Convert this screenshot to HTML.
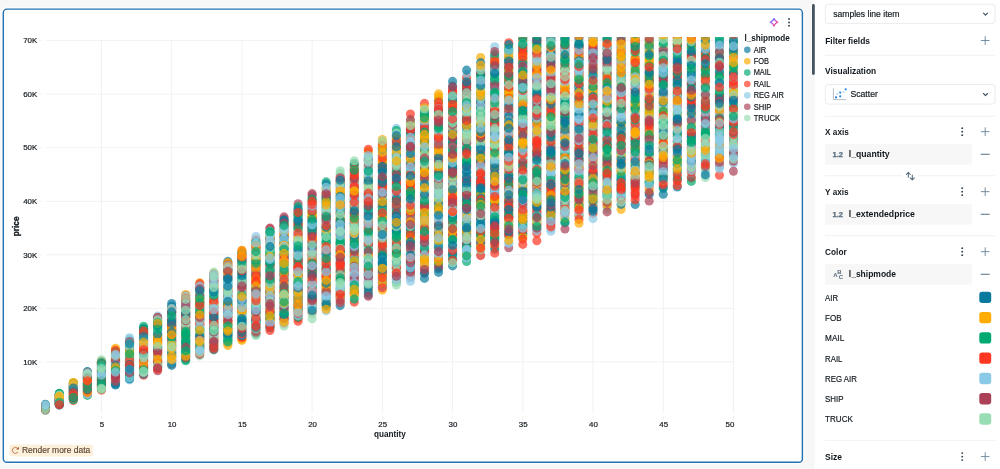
<!DOCTYPE html>
<html><head><meta charset="utf-8"><title>Scatter</title>
<style>*{margin:0;padding:0}html,body{width:1000px;height:469px;overflow:hidden;background:#f7f7f7;font-family:"Liberation Sans",sans-serif}svg{display:block;position:absolute;left:0;top:0}svg{will-change:transform}text{white-space:pre}</style>
</head><body>
<svg id="s" width="1000" height="469" viewBox="0 0 1000 469" font-family="'Liberation Sans', sans-serif">
<defs><clipPath id="cp"><rect x="41.7" y="37.2" width="696.1" height="390"/></clipPath>
<linearGradient id="sg" x1="0.1" y1="0.1" x2="0.9" y2="0.9"><stop offset="0" stop-color="#4a6ff5"/><stop offset="0.5" stop-color="#c045dd"/><stop offset="1" stop-color="#ff3a55"/></linearGradient></defs>
<rect x="0" y="0" width="1000" height="469" fill="#f7f7f7"/>
<rect x="814.6" y="0" width="186" height="469" fill="#ffffff"/>
<rect x="3.3" y="9.1" width="799.1" height="453.2" rx="3.6" fill="#fff" stroke="#fdfdfd" stroke-width="4.4"/>
<rect x="3.3" y="9.1" width="799.1" height="453.2" rx="3.6" fill="#fff" stroke="#2272b4" stroke-width="1.45"/>
<g stroke="#eeeeee" stroke-width="0.8" shape-rendering="auto">
<line x1="45.5" x2="733.5" y1="361.90" y2="361.90"/>
<line x1="38.6" x2="41.4" y1="361.90" y2="361.90"/>
<line x1="45.5" x2="733.5" y1="308.35" y2="308.35"/>
<line x1="38.6" x2="41.4" y1="308.35" y2="308.35"/>
<line x1="45.5" x2="733.5" y1="254.80" y2="254.80"/>
<line x1="38.6" x2="41.4" y1="254.80" y2="254.80"/>
<line x1="45.5" x2="733.5" y1="201.25" y2="201.25"/>
<line x1="38.6" x2="41.4" y1="201.25" y2="201.25"/>
<line x1="45.5" x2="733.5" y1="147.70" y2="147.70"/>
<line x1="38.6" x2="41.4" y1="147.70" y2="147.70"/>
<line x1="45.5" x2="733.5" y1="94.15" y2="94.15"/>
<line x1="38.6" x2="41.4" y1="94.15" y2="94.15"/>
<line x1="45.5" x2="733.5" y1="40.60" y2="40.60"/>
<line x1="38.6" x2="41.4" y1="40.60" y2="40.60"/>
<line y1="40" y2="412.8" x1="101.45" x2="101.45"/>
<line y1="416" y2="419.4" x1="101.45" x2="101.45"/>
<line y1="40" y2="412.8" x1="171.68" x2="171.68"/>
<line y1="416" y2="419.4" x1="171.68" x2="171.68"/>
<line y1="40" y2="412.8" x1="241.90" x2="241.90"/>
<line y1="416" y2="419.4" x1="241.90" x2="241.90"/>
<line y1="40" y2="412.8" x1="312.12" x2="312.12"/>
<line y1="416" y2="419.4" x1="312.12" x2="312.12"/>
<line y1="40" y2="412.8" x1="382.35" x2="382.35"/>
<line y1="416" y2="419.4" x1="382.35" x2="382.35"/>
<line y1="40" y2="412.8" x1="452.57" x2="452.57"/>
<line y1="416" y2="419.4" x1="452.57" x2="452.57"/>
<line y1="40" y2="412.8" x1="522.80" x2="522.80"/>
<line y1="416" y2="419.4" x1="522.80" x2="522.80"/>
<line y1="40" y2="412.8" x1="593.02" x2="593.02"/>
<line y1="416" y2="419.4" x1="593.02" x2="593.02"/>
<line y1="40" y2="412.8" x1="663.25" x2="663.25"/>
<line y1="416" y2="419.4" x1="663.25" x2="663.25"/>
<line y1="40" y2="412.8" x1="733.48" x2="733.48"/>
<line y1="416" y2="419.4" x1="733.48" x2="733.48"/>
</g>
<text transform="matrix(1 .0004 0 1 37.20 364.70)" font-size="7.90" text-anchor="end" fill="#11171c" stroke="#11171c" stroke-width="0.18">10K</text>
<text transform="matrix(1 .0004 0 1 37.20 311.15)" font-size="7.90" text-anchor="end" fill="#11171c" stroke="#11171c" stroke-width="0.18">20K</text>
<text transform="matrix(1 .0004 0 1 37.20 257.60)" font-size="7.90" text-anchor="end" fill="#11171c" stroke="#11171c" stroke-width="0.18">30K</text>
<text transform="matrix(1 .0004 0 1 37.20 204.05)" font-size="7.90" text-anchor="end" fill="#11171c" stroke="#11171c" stroke-width="0.18">40K</text>
<text transform="matrix(1 .0004 0 1 37.20 150.50)" font-size="7.90" text-anchor="end" fill="#11171c" stroke="#11171c" stroke-width="0.18">50K</text>
<text transform="matrix(1 .0004 0 1 37.20 96.95)" font-size="7.90" text-anchor="end" fill="#11171c" stroke="#11171c" stroke-width="0.18">60K</text>
<text transform="matrix(1 .0004 0 1 37.20 43.40)" font-size="7.90" text-anchor="end" fill="#11171c" stroke="#11171c" stroke-width="0.18">70K</text>
<text transform="matrix(1 .0004 0 1 101.85 427.00)" font-size="7.90" text-anchor="middle" fill="#11171c" stroke="#11171c" stroke-width="0.18">5</text>
<text transform="matrix(1 .0004 0 1 172.08 427.00)" font-size="7.90" text-anchor="middle" fill="#11171c" stroke="#11171c" stroke-width="0.18">10</text>
<text transform="matrix(1 .0004 0 1 242.30 427.00)" font-size="7.90" text-anchor="middle" fill="#11171c" stroke="#11171c" stroke-width="0.18">15</text>
<text transform="matrix(1 .0004 0 1 312.52 427.00)" font-size="7.90" text-anchor="middle" fill="#11171c" stroke="#11171c" stroke-width="0.18">20</text>
<text transform="matrix(1 .0004 0 1 382.75 427.00)" font-size="7.90" text-anchor="middle" fill="#11171c" stroke="#11171c" stroke-width="0.18">25</text>
<text transform="matrix(1 .0004 0 1 452.97 427.00)" font-size="7.90" text-anchor="middle" fill="#11171c" stroke="#11171c" stroke-width="0.18">30</text>
<text transform="matrix(1 .0004 0 1 523.20 427.00)" font-size="7.90" text-anchor="middle" fill="#11171c" stroke="#11171c" stroke-width="0.18">35</text>
<text transform="matrix(1 .0004 0 1 593.42 427.00)" font-size="7.90" text-anchor="middle" fill="#11171c" stroke="#11171c" stroke-width="0.18">40</text>
<text transform="matrix(1 .0004 0 1 663.65 427.00)" font-size="7.90" text-anchor="middle" fill="#11171c" stroke="#11171c" stroke-width="0.18">45</text>
<text transform="matrix(1 .0004 0 1 729.88 427.00)" font-size="7.90" text-anchor="middle" fill="#11171c" stroke="#11171c" stroke-width="0.18">50</text>
<text transform="matrix(1 .0004 0 1 389.90 436.60)" font-size="8.30" font-weight="bold" textLength="31.80" lengthAdjust="spacingAndGlyphs" text-anchor="middle" fill="#11171c">quantity</text>
<g transform="translate(19.4,226.4) rotate(-90)"><text transform="matrix(1 .0004 0 1 0.00 0.00)" font-size="8.30" font-weight="bold" textLength="19.80" lengthAdjust="spacingAndGlyphs" text-anchor="middle" fill="#11171c" stroke="#11171c" stroke-width="0.3">price</text></g>
<defs><circle id="a" r="4.55" fill="#077A9D"/><circle id="b" r="4.55" fill="#FFAB00"/><circle id="c" r="4.55" fill="#00A972"/><circle id="d" r="4.55" fill="#FF3621"/><circle id="e" r="4.55" fill="#8BCAE7"/><circle id="f" r="4.55" fill="#AB4057"/><circle id="g" r="4.55" fill="#99DDB4"/></defs>
<g clip-path="url(#cp)" fill-opacity="0.7">
<g transform="translate(45.27 0)"><use href="#f" y="408.4"/><use href="#c" y="408.5"/><use href="#d" y="408.8"/><use href="#c" y="405.1"/><use href="#e" y="406.3"/><use href="#g" y="407.8"/><use href="#a" y="407.8"/><use href="#a" y="407.3"/><use href="#b" y="405.8"/><use href="#g" y="410.2"/><use href="#e" y="410.4"/><use href="#c" y="404.4"/><use href="#c" y="408.1"/><use href="#a" y="406.5"/><use href="#e" y="408.7"/><use href="#d" y="406.4"/><use href="#a" y="407.7"/><use href="#a" y="405.9"/><use href="#e" y="410.0"/><use href="#a" y="407.3"/><use href="#a" y="404.8"/><use href="#a" y="407.5"/><use href="#g" y="405.6"/><use href="#d" y="406.0"/><use href="#g" y="405.8"/><use href="#a" y="409.1"/><use href="#b" y="405.2"/><use href="#f" y="406.6"/><use href="#f" y="408.3"/><use href="#e" y="408.2"/><use href="#b" y="409.7"/><use href="#e" y="408.8"/><use href="#e" y="410.1"/><use href="#f" y="407.2"/><use href="#a" y="409.7"/><use href="#b" y="410.0"/><use href="#b" y="407.9"/><use href="#e" y="409.8"/><use href="#c" y="406.8"/><use href="#c" y="404.9"/><use href="#e" y="405.3"/><use href="#e" y="406.2"/><use href="#a" y="407.1"/><use href="#a" y="405.5"/><use href="#d" y="409.4"/><use href="#f" y="409.2"/><use href="#f" y="406.1"/><use href="#b" y="409.0"/><use href="#d" y="406.8"/><use href="#a" y="409.0"/><use href="#e" y="408.5"/><use href="#f" y="409.4"/><use href="#a" y="406.6"/><use href="#f" y="409.2"/><use href="#g" y="408.1"/><use href="#a" y="405.3"/><use href="#a" y="404.6"/><use href="#b" y="407.0"/><use href="#d" y="405.5"/><use href="#d" y="407.5"/><use href="#c" y="406.9"/><use href="#e" y="404.8"/><use href="#g" y="409.6"/><use href="#e" y="405.1"/></g>
<g transform="translate(59.32 0)"><use href="#a" y="393.9"/><use href="#f" y="400.2"/><use href="#a" y="401.5"/><use href="#f" y="402.1"/><use href="#e" y="394.4"/><use href="#d" y="401.6"/><use href="#c" y="394.1"/><use href="#c" y="397.4"/><use href="#a" y="398.9"/><use href="#a" y="395.5"/><use href="#a" y="403.7"/><use href="#c" y="395.6"/><use href="#e" y="398.8"/><use href="#a" y="403.5"/><use href="#a" y="396.0"/><use href="#a" y="400.9"/><use href="#e" y="399.6"/><use href="#d" y="397.5"/><use href="#c" y="400.6"/><use href="#e" y="403.0"/><use href="#b" y="399.1"/><use href="#d" y="396.3"/><use href="#d" y="397.1"/><use href="#b" y="404.3"/><use href="#a" y="401.9"/><use href="#f" y="400.7"/><use href="#a" y="398.5"/><use href="#e" y="401.3"/><use href="#g" y="399.8"/><use href="#a" y="399.4"/><use href="#a" y="394.3"/><use href="#f" y="395.0"/><use href="#a" y="402.8"/><use href="#d" y="398.6"/><use href="#c" y="393.4"/><use href="#g" y="396.9"/><use href="#c" y="397.3"/><use href="#e" y="405.4"/><use href="#c" y="403.2"/><use href="#b" y="402.4"/><use href="#d" y="400.0"/><use href="#g" y="397.9"/><use href="#a" y="403.1"/><use href="#f" y="397.7"/><use href="#e" y="404.4"/><use href="#f" y="401.3"/><use href="#c" y="395.4"/><use href="#b" y="398.1"/><use href="#a" y="399.3"/><use href="#f" y="394.8"/><use href="#a" y="404.1"/><use href="#f" y="400.3"/><use href="#c" y="403.9"/><use href="#b" y="398.3"/><use href="#f" y="404.5"/><use href="#e" y="396.6"/><use href="#f" y="403.7"/><use href="#g" y="394.7"/><use href="#f" y="402.5"/><use href="#c" y="393.7"/><use href="#g" y="396.1"/><use href="#b" y="396.7"/><use href="#a" y="404.9"/><use href="#e" y="401.0"/><use href="#g" y="395.1"/><use href="#b" y="396.3"/><use href="#c" y="402.2"/><use href="#d" y="404.8"/></g>
<g transform="translate(73.36 0)"><use href="#b" y="395.5"/><use href="#d" y="389.2"/><use href="#a" y="390.7"/><use href="#a" y="397.5"/><use href="#d" y="400.6"/><use href="#b" y="383.4"/><use href="#e" y="395.1"/><use href="#e" y="396.2"/><use href="#f" y="383.6"/><use href="#b" y="382.7"/><use href="#c" y="386.4"/><use href="#b" y="396.8"/><use href="#e" y="388.9"/><use href="#e" y="385.1"/><use href="#c" y="394.1"/><use href="#f" y="386.1"/><use href="#b" y="383.9"/><use href="#e" y="396.6"/><use href="#e" y="392.5"/><use href="#f" y="385.8"/><use href="#f" y="395.6"/><use href="#b" y="393.3"/><use href="#c" y="389.9"/><use href="#b" y="397.7"/><use href="#f" y="387.0"/><use href="#b" y="393.2"/><use href="#e" y="392.8"/><use href="#c" y="399.2"/><use href="#e" y="398.9"/><use href="#d" y="391.5"/><use href="#a" y="391.1"/><use href="#c" y="388.7"/><use href="#d" y="390.4"/><use href="#g" y="399.5"/><use href="#d" y="385.9"/><use href="#e" y="384.2"/><use href="#c" y="383.2"/><use href="#g" y="398.9"/><use href="#g" y="388.4"/><use href="#d" y="389.8"/><use href="#f" y="394.9"/><use href="#f" y="385.0"/><use href="#a" y="392.3"/><use href="#d" y="398.3"/><use href="#g" y="394.4"/><use href="#b" y="394.6"/><use href="#c" y="387.4"/><use href="#e" y="391.2"/><use href="#b" y="384.7"/><use href="#d" y="398.6"/><use href="#c" y="399.7"/><use href="#c" y="387.7"/><use href="#d" y="389.6"/><use href="#g" y="390.3"/><use href="#d" y="394.0"/><use href="#g" y="384.4"/><use href="#d" y="398.0"/><use href="#a" y="389.0"/><use href="#b" y="387.9"/><use href="#a" y="391.7"/><use href="#g" y="393.6"/><use href="#e" y="385.4"/><use href="#d" y="387.2"/><use href="#g" y="386.6"/><use href="#b" y="382.5"/><use href="#a" y="388.0"/><use href="#a" y="391.9"/><use href="#a" y="397.3"/><use href="#f" y="396.0"/><use href="#d" y="392.8"/><use href="#d" y="395.9"/><use href="#c" y="397.2"/></g>
<g transform="translate(87.41 0)"><use href="#c" y="391.7"/><use href="#b" y="374.8"/><use href="#c" y="393.5"/><use href="#c" y="392.1"/><use href="#b" y="384.2"/><use href="#d" y="386.3"/><use href="#g" y="392.9"/><use href="#e" y="386.8"/><use href="#a" y="388.8"/><use href="#c" y="390.7"/><use href="#d" y="390.0"/><use href="#f" y="385.9"/><use href="#b" y="387.2"/><use href="#a" y="386.7"/><use href="#c" y="376.2"/><use href="#a" y="375.7"/><use href="#a" y="391.5"/><use href="#f" y="387.3"/><use href="#c" y="387.9"/><use href="#g" y="393.2"/><use href="#c" y="388.5"/><use href="#e" y="384.4"/><use href="#a" y="377.4"/><use href="#a" y="385.2"/><use href="#d" y="373.3"/><use href="#d" y="374.6"/><use href="#d" y="394.6"/><use href="#c" y="378.3"/><use href="#a" y="371.6"/><use href="#d" y="391.0"/><use href="#b" y="376.9"/><use href="#a" y="382.2"/><use href="#c" y="395.4"/><use href="#e" y="394.0"/><use href="#e" y="394.1"/><use href="#c" y="383.2"/><use href="#c" y="378.9"/><use href="#b" y="380.4"/><use href="#g" y="381.9"/><use href="#a" y="372.0"/><use href="#e" y="380.0"/><use href="#e" y="382.6"/><use href="#g" y="391.1"/><use href="#c" y="383.6"/><use href="#g" y="381.3"/><use href="#a" y="383.7"/><use href="#e" y="381.6"/><use href="#e" y="379.2"/><use href="#a" y="379.8"/><use href="#f" y="375.5"/><use href="#e" y="387.9"/><use href="#e" y="382.9"/><use href="#c" y="377.9"/><use href="#d" y="379.5"/><use href="#e" y="372.5"/><use href="#a" y="385.1"/><use href="#d" y="392.6"/><use href="#d" y="385.7"/><use href="#f" y="372.8"/><use href="#b" y="392.4"/><use href="#a" y="375.1"/><use href="#b" y="389.4"/><use href="#f" y="376.5"/><use href="#g" y="373.8"/><use href="#g" y="373.2"/><use href="#e" y="374.0"/><use href="#c" y="384.6"/><use href="#e" y="377.0"/><use href="#c" y="378.6"/><use href="#d" y="389.5"/><use href="#f" y="377.6"/><use href="#b" y="380.6"/><use href="#f" y="390.1"/><use href="#c" y="389.1"/><use href="#g" y="374.4"/><use href="#d" y="380.9"/></g>
<g transform="translate(101.45 0)"><use href="#b" y="383.2"/><use href="#e" y="377.2"/><use href="#b" y="364.3"/><use href="#d" y="376.4"/><use href="#c" y="387.5"/><use href="#d" y="373.9"/><use href="#c" y="389.4"/><use href="#f" y="372.0"/><use href="#f" y="371.6"/><use href="#d" y="386.4"/><use href="#b" y="361.2"/><use href="#g" y="379.3"/><use href="#g" y="385.4"/><use href="#a" y="372.6"/><use href="#b" y="380.2"/><use href="#c" y="375.7"/><use href="#a" y="362.2"/><use href="#d" y="386.0"/><use href="#c" y="382.3"/><use href="#g" y="366.6"/><use href="#e" y="373.8"/><use href="#a" y="366.4"/><use href="#b" y="375.4"/><use href="#e" y="381.6"/><use href="#d" y="387.1"/><use href="#c" y="374.9"/><use href="#a" y="373.1"/><use href="#f" y="368.1"/><use href="#e" y="365.6"/><use href="#b" y="378.1"/><use href="#b" y="364.4"/><use href="#d" y="390.1"/><use href="#f" y="384.2"/><use href="#c" y="369.7"/><use href="#f" y="362.0"/><use href="#b" y="376.6"/><use href="#c" y="377.6"/><use href="#d" y="380.8"/><use href="#a" y="386.6"/><use href="#d" y="363.2"/><use href="#c" y="388.4"/><use href="#c" y="366.9"/><use href="#f" y="384.7"/><use href="#d" y="371.0"/><use href="#b" y="387.8"/><use href="#e" y="370.4"/><use href="#f" y="374.2"/><use href="#c" y="381.9"/><use href="#a" y="365.3"/><use href="#e" y="378.3"/><use href="#f" y="383.9"/><use href="#d" y="364.8"/><use href="#d" y="370.1"/><use href="#b" y="370.8"/><use href="#e" y="377.1"/><use href="#f" y="361.7"/><use href="#f" y="382.9"/><use href="#a" y="372.1"/><use href="#g" y="359.7"/><use href="#d" y="385.6"/><use href="#c" y="363.4"/><use href="#c" y="383.4"/><use href="#d" y="368.9"/><use href="#d" y="363.6"/><use href="#c" y="369.2"/><use href="#b" y="379.3"/><use href="#e" y="365.9"/><use href="#a" y="367.8"/><use href="#c" y="378.8"/><use href="#f" y="379.9"/><use href="#e" y="373.4"/><use href="#f" y="381.3"/><use href="#c" y="380.6"/><use href="#c" y="385.1"/><use href="#e" y="375.1"/><use href="#g" y="388.3"/><use href="#g" y="367.5"/><use href="#c" y="362.7"/><use href="#g" y="389.2"/><use href="#g" y="368.6"/></g>
<g transform="translate(115.50 0)"><use href="#b" y="363.5"/><use href="#d" y="362.1"/><use href="#b" y="352.4"/><use href="#d" y="366.4"/><use href="#d" y="366.8"/><use href="#g" y="382.4"/><use href="#e" y="372.8"/><use href="#e" y="371.1"/><use href="#e" y="356.1"/><use href="#g" y="375.4"/><use href="#a" y="382.1"/><use href="#f" y="377.5"/><use href="#c" y="371.5"/><use href="#f" y="367.6"/><use href="#a" y="378.8"/><use href="#c" y="378.9"/><use href="#c" y="369.9"/><use href="#f" y="361.3"/><use href="#f" y="383.1"/><use href="#d" y="349.8"/><use href="#a" y="365.8"/><use href="#f" y="382.9"/><use href="#d" y="370.5"/><use href="#a" y="357.6"/><use href="#g" y="373.1"/><use href="#e" y="359.8"/><use href="#g" y="376.1"/><use href="#d" y="362.4"/><use href="#e" y="356.8"/><use href="#f" y="353.9"/><use href="#d" y="368.7"/><use href="#a" y="377.8"/><use href="#g" y="360.9"/><use href="#g" y="364.3"/><use href="#b" y="357.0"/><use href="#c" y="359.8"/><use href="#c" y="359.3"/><use href="#b" y="355.4"/><use href="#d" y="381.5"/><use href="#g" y="362.8"/><use href="#b" y="352.8"/><use href="#g" y="357.9"/><use href="#a" y="358.7"/><use href="#f" y="372.6"/><use href="#g" y="373.6"/><use href="#g" y="379.6"/><use href="#a" y="380.4"/><use href="#e" y="384.5"/><use href="#f" y="361.6"/><use href="#e" y="368.1"/><use href="#f" y="369.1"/><use href="#a" y="368.2"/><use href="#c" y="374.6"/><use href="#a" y="365.1"/><use href="#b" y="358.3"/><use href="#g" y="364.6"/><use href="#d" y="376.7"/><use href="#e" y="352.2"/><use href="#b" y="353.6"/><use href="#e" y="363.8"/><use href="#e" y="380.0"/><use href="#d" y="374.1"/><use href="#a" y="383.7"/><use href="#f" y="360.3"/><use href="#g" y="381.0"/><use href="#f" y="375.0"/><use href="#a" y="353.3"/><use href="#g" y="351.3"/><use href="#b" y="348.3"/><use href="#a" y="365.6"/><use href="#c" y="369.6"/><use href="#a" y="385.0"/><use href="#d" y="378.3"/><use href="#f" y="377.2"/><use href="#b" y="367.0"/><use href="#f" y="375.7"/><use href="#c" y="370.7"/><use href="#c" y="351.7"/><use href="#f" y="381.4"/><use href="#b" y="355.0"/><use href="#d" y="350.8"/><use href="#e" y="355.9"/><use href="#e" y="354.4"/><use href="#e" y="372.1"/></g>
<g transform="translate(129.54 0)"><use href="#f" y="371.3"/><use href="#g" y="355.0"/><use href="#b" y="363.3"/><use href="#e" y="359.3"/><use href="#a" y="349.5"/><use href="#b" y="367.6"/><use href="#d" y="366.0"/><use href="#e" y="379.9"/><use href="#e" y="348.8"/><use href="#a" y="358.7"/><use href="#e" y="371.1"/><use href="#f" y="360.2"/><use href="#g" y="340.8"/><use href="#a" y="348.5"/><use href="#b" y="344.8"/><use href="#e" y="368.5"/><use href="#e" y="348.1"/><use href="#f" y="356.5"/><use href="#a" y="345.0"/><use href="#b" y="373.4"/><use href="#a" y="342.5"/><use href="#a" y="355.3"/><use href="#c" y="340.7"/><use href="#c" y="357.5"/><use href="#g" y="339.9"/><use href="#e" y="337.8"/><use href="#f" y="359.1"/><use href="#c" y="356.9"/><use href="#c" y="356.1"/><use href="#a" y="375.5"/><use href="#a" y="373.9"/><use href="#e" y="374.8"/><use href="#c" y="352.4"/><use href="#f" y="376.9"/><use href="#c" y="351.1"/><use href="#c" y="341.2"/><use href="#c" y="346.7"/><use href="#f" y="370.3"/><use href="#b" y="345.8"/><use href="#e" y="351.9"/><use href="#f" y="349.9"/><use href="#a" y="378.1"/><use href="#g" y="375.4"/><use href="#a" y="361.1"/><use href="#b" y="372.5"/><use href="#b" y="362.3"/><use href="#c" y="363.5"/><use href="#g" y="361.0"/><use href="#g" y="362.5"/><use href="#a" y="374.1"/><use href="#c" y="376.1"/><use href="#d" y="342.6"/><use href="#e" y="379.5"/><use href="#e" y="351.4"/><use href="#f" y="354.5"/><use href="#f" y="371.8"/><use href="#c" y="358.0"/><use href="#c" y="345.7"/><use href="#a" y="343.2"/><use href="#a" y="366.8"/><use href="#g" y="355.7"/><use href="#f" y="365.2"/><use href="#g" y="361.9"/><use href="#a" y="378.7"/><use href="#g" y="370.6"/><use href="#d" y="360.2"/><use href="#g" y="368.9"/><use href="#c" y="353.0"/><use href="#c" y="376.7"/><use href="#d" y="367.8"/><use href="#e" y="377.7"/><use href="#e" y="339.1"/><use href="#c" y="350.1"/><use href="#a" y="366.5"/><use href="#c" y="347.5"/><use href="#b" y="350.5"/><use href="#d" y="364.2"/><use href="#f" y="341.8"/><use href="#a" y="364.5"/><use href="#e" y="347.0"/><use href="#b" y="353.6"/><use href="#d" y="365.4"/><use href="#c" y="353.8"/><use href="#g" y="343.6"/><use href="#f" y="372.9"/><use href="#e" y="369.6"/><use href="#a" y="343.9"/><use href="#a" y="369.4"/></g>
<g transform="translate(143.59 0)"><use href="#g" y="363.0"/><use href="#f" y="367.4"/><use href="#b" y="333.5"/><use href="#b" y="345.6"/><use href="#b" y="334.3"/><use href="#d" y="370.9"/><use href="#b" y="343.2"/><use href="#c" y="371.9"/><use href="#g" y="337.3"/><use href="#a" y="355.7"/><use href="#b" y="364.9"/><use href="#d" y="361.1"/><use href="#g" y="352.7"/><use href="#d" y="344.3"/><use href="#f" y="338.9"/><use href="#a" y="340.8"/><use href="#b" y="363.7"/><use href="#b" y="348.9"/><use href="#g" y="339.5"/><use href="#b" y="368.8"/><use href="#f" y="341.6"/><use href="#e" y="369.0"/><use href="#f" y="356.6"/><use href="#a" y="328.3"/><use href="#e" y="346.9"/><use href="#g" y="351.6"/><use href="#f" y="346.5"/><use href="#d" y="364.4"/><use href="#f" y="339.9"/><use href="#f" y="334.8"/><use href="#g" y="354.1"/><use href="#c" y="355.9"/><use href="#e" y="356.9"/><use href="#c" y="361.6"/><use href="#d" y="375.3"/><use href="#a" y="336.1"/><use href="#e" y="366.5"/><use href="#g" y="354.6"/><use href="#b" y="366.0"/><use href="#f" y="367.3"/><use href="#c" y="335.2"/><use href="#f" y="368.2"/><use href="#a" y="335.8"/><use href="#f" y="340.2"/><use href="#a" y="374.3"/><use href="#a" y="359.1"/><use href="#a" y="329.5"/><use href="#c" y="358.5"/><use href="#g" y="364.7"/><use href="#c" y="343.0"/><use href="#d" y="331.6"/><use href="#a" y="338.4"/><use href="#a" y="328.7"/><use href="#c" y="348.7"/><use href="#f" y="373.1"/><use href="#e" y="344.7"/><use href="#e" y="362.2"/><use href="#d" y="360.2"/><use href="#d" y="345.9"/><use href="#d" y="359.7"/><use href="#g" y="342.0"/><use href="#b" y="333.2"/><use href="#d" y="365.7"/><use href="#b" y="370.4"/><use href="#b" y="347.4"/><use href="#d" y="348.0"/><use href="#c" y="326.2"/><use href="#a" y="332.3"/><use href="#f" y="360.3"/><use href="#f" y="332.8"/><use href="#f" y="350.8"/><use href="#a" y="352.5"/><use href="#b" y="349.7"/><use href="#f" y="330.6"/><use href="#b" y="362.8"/><use href="#b" y="357.8"/><use href="#c" y="330.0"/><use href="#g" y="337.5"/><use href="#d" y="350.7"/><use href="#d" y="331.0"/><use href="#d" y="351.8"/><use href="#e" y="372.0"/><use href="#g" y="372.5"/><use href="#c" y="369.8"/><use href="#e" y="357.8"/><use href="#a" y="353.3"/><use href="#e" y="344.0"/><use href="#g" y="355.2"/><use href="#a" y="336.7"/><use href="#b" y="342.4"/><use href="#d" y="349.9"/><use href="#g" y="371.4"/></g>
<g transform="translate(157.63 0)"><use href="#b" y="368.5"/><use href="#b" y="336.6"/><use href="#g" y="332.7"/><use href="#c" y="340.1"/><use href="#b" y="337.0"/><use href="#a" y="340.9"/><use href="#d" y="342.6"/><use href="#d" y="360.8"/><use href="#a" y="353.8"/><use href="#a" y="318.5"/><use href="#f" y="365.5"/><use href="#a" y="347.3"/><use href="#g" y="358.9"/><use href="#c" y="335.9"/><use href="#a" y="326.8"/><use href="#f" y="320.9"/><use href="#g" y="349.2"/><use href="#d" y="341.1"/><use href="#g" y="327.6"/><use href="#e" y="322.4"/><use href="#g" y="319.3"/><use href="#e" y="325.7"/><use href="#a" y="326.7"/><use href="#c" y="339.3"/><use href="#a" y="332.0"/><use href="#c" y="328.9"/><use href="#c" y="355.9"/><use href="#a" y="366.3"/><use href="#a" y="363.6"/><use href="#g" y="327.9"/><use href="#e" y="357.5"/><use href="#d" y="345.9"/><use href="#f" y="360.0"/><use href="#d" y="324.0"/><use href="#g" y="333.1"/><use href="#c" y="352.3"/><use href="#f" y="361.6"/><use href="#b" y="352.5"/><use href="#c" y="324.2"/><use href="#b" y="321.7"/><use href="#d" y="317.7"/><use href="#g" y="341.8"/><use href="#c" y="349.2"/><use href="#e" y="367.2"/><use href="#c" y="320.5"/><use href="#d" y="337.6"/><use href="#c" y="338.3"/><use href="#g" y="334.9"/><use href="#b" y="350.3"/><use href="#e" y="358.4"/><use href="#g" y="331.5"/><use href="#d" y="339.4"/><use href="#e" y="316.1"/><use href="#f" y="351.7"/><use href="#b" y="355.3"/><use href="#f" y="370.8"/><use href="#f" y="317.3"/><use href="#e" y="330.8"/><use href="#g" y="363.3"/><use href="#c" y="333.9"/><use href="#e" y="330.6"/><use href="#b" y="335.2"/><use href="#g" y="364.3"/><use href="#c" y="362.3"/><use href="#g" y="344.9"/><use href="#f" y="356.9"/><use href="#e" y="355.1"/><use href="#e" y="348.5"/><use href="#f" y="360.5"/><use href="#g" y="365.6"/><use href="#g" y="329.7"/><use href="#e" y="356.5"/><use href="#b" y="354.3"/><use href="#c" y="346.2"/><use href="#d" y="351.0"/><use href="#d" y="362.6"/><use href="#g" y="319.8"/><use href="#g" y="364.9"/><use href="#c" y="322.9"/><use href="#a" y="347.6"/><use href="#b" y="344.5"/><use href="#b" y="338.0"/><use href="#a" y="325.0"/><use href="#a" y="325.6"/><use href="#e" y="344.1"/><use href="#f" y="350.3"/><use href="#b" y="323.5"/><use href="#a" y="334.3"/><use href="#b" y="343.5"/><use href="#b" y="342.3"/><use href="#g" y="346.6"/><use href="#f" y="353.3"/><use href="#b" y="359.2"/><use href="#c" y="329.2"/><use href="#d" y="369.0"/><use href="#f" y="367.7"/></g>
<g transform="translate(171.68 0)"><use href="#d" y="357.3"/><use href="#f" y="340.3"/><use href="#e" y="318.2"/><use href="#g" y="358.8"/><use href="#b" y="345.8"/><use href="#d" y="323.1"/><use href="#g" y="337.8"/><use href="#a" y="342.4"/><use href="#d" y="341.3"/><use href="#c" y="352.3"/><use href="#c" y="332.5"/><use href="#d" y="364.0"/><use href="#c" y="319.0"/><use href="#c" y="324.9"/><use href="#a" y="346.3"/><use href="#c" y="320.4"/><use href="#g" y="315.1"/><use href="#b" y="335.9"/><use href="#a" y="345.0"/><use href="#d" y="338.3"/><use href="#b" y="349.8"/><use href="#f" y="340.9"/><use href="#c" y="350.8"/><use href="#e" y="313.8"/><use href="#c" y="354.9"/><use href="#e" y="349.7"/><use href="#c" y="308.6"/><use href="#f" y="331.1"/><use href="#a" y="309.5"/><use href="#c" y="330.3"/><use href="#a" y="353.8"/><use href="#d" y="319.8"/><use href="#d" y="347.9"/><use href="#c" y="316.0"/><use href="#a" y="326.7"/><use href="#f" y="307.3"/><use href="#c" y="328.6"/><use href="#e" y="341.7"/><use href="#g" y="314.2"/><use href="#d" y="327.7"/><use href="#d" y="317.5"/><use href="#c" y="333.3"/><use href="#e" y="338.7"/><use href="#c" y="334.0"/><use href="#c" y="361.1"/><use href="#f" y="339.6"/><use href="#f" y="310.9"/><use href="#d" y="322.8"/><use href="#a" y="312.5"/><use href="#b" y="361.4"/><use href="#f" y="330.9"/><use href="#b" y="343.2"/><use href="#b" y="321.5"/><use href="#c" y="324.6"/><use href="#f" y="360.2"/><use href="#f" y="318.7"/><use href="#b" y="335.3"/><use href="#g" y="310.5"/><use href="#f" y="322.1"/><use href="#c" y="343.8"/><use href="#g" y="343.9"/><use href="#d" y="313.2"/><use href="#d" y="351.5"/><use href="#f" y="356.2"/><use href="#a" y="362.7"/><use href="#c" y="337.3"/><use href="#e" y="316.9"/><use href="#e" y="363.2"/><use href="#c" y="352.8"/><use href="#f" y="311.6"/><use href="#a" y="306.1"/><use href="#g" y="355.1"/><use href="#f" y="329.2"/><use href="#b" y="345.2"/><use href="#e" y="351.8"/><use href="#a" y="365.4"/><use href="#g" y="357.9"/><use href="#b" y="357.2"/><use href="#a" y="303.5"/><use href="#f" y="326.2"/><use href="#a" y="353.7"/><use href="#c" y="336.4"/><use href="#b" y="327.4"/><use href="#g" y="348.9"/><use href="#a" y="320.9"/><use href="#d" y="325.6"/><use href="#b" y="348.3"/><use href="#b" y="309.1"/><use href="#d" y="334.2"/><use href="#e" y="308.2"/><use href="#b" y="329.5"/><use href="#e" y="359.2"/><use href="#b" y="359.9"/><use href="#b" y="355.7"/><use href="#a" y="311.9"/><use href="#a" y="323.5"/><use href="#c" y="315.7"/><use href="#g" y="346.9"/><use href="#a" y="332.1"/><use href="#b" y="334.7"/></g>
<g transform="translate(185.72 0)"><use href="#g" y="319.9"/><use href="#a" y="344.7"/><use href="#g" y="316.3"/><use href="#f" y="306.9"/><use href="#g" y="340.6"/><use href="#c" y="301.7"/><use href="#c" y="360.7"/><use href="#a" y="328.0"/><use href="#g" y="336.6"/><use href="#d" y="311.1"/><use href="#c" y="307.9"/><use href="#c" y="342.7"/><use href="#e" y="329.2"/><use href="#b" y="298.6"/><use href="#e" y="345.3"/><use href="#d" y="317.4"/><use href="#a" y="334.2"/><use href="#d" y="325.4"/><use href="#e" y="354.9"/><use href="#f" y="327.4"/><use href="#f" y="341.3"/><use href="#c" y="314.1"/><use href="#a" y="318.1"/><use href="#f" y="312.2"/><use href="#a" y="354.3"/><use href="#c" y="302.5"/><use href="#d" y="295.3"/><use href="#d" y="312.4"/><use href="#d" y="304.6"/><use href="#b" y="332.7"/><use href="#c" y="341.1"/><use href="#e" y="309.6"/><use href="#c" y="356.8"/><use href="#b" y="308.8"/><use href="#e" y="326.7"/><use href="#g" y="310.8"/><use href="#f" y="323.4"/><use href="#b" y="315.2"/><use href="#e" y="355.7"/><use href="#e" y="297.9"/><use href="#g" y="326.2"/><use href="#a" y="321.3"/><use href="#c" y="352.9"/><use href="#a" y="313.3"/><use href="#e" y="353.5"/><use href="#a" y="339.3"/><use href="#c" y="328.9"/><use href="#f" y="321.7"/><use href="#c" y="359.5"/><use href="#c" y="348.5"/><use href="#b" y="294.5"/><use href="#g" y="318.9"/><use href="#f" y="325.1"/><use href="#c" y="354.0"/><use href="#c" y="337.6"/><use href="#d" y="322.3"/><use href="#b" y="297.4"/><use href="#b" y="347.8"/><use href="#c" y="300.2"/><use href="#e" y="349.3"/><use href="#g" y="324.0"/><use href="#g" y="338.0"/><use href="#g" y="352.4"/><use href="#f" y="357.9"/><use href="#e" y="306.6"/><use href="#c" y="308.1"/><use href="#a" y="350.3"/><use href="#g" y="338.5"/><use href="#d" y="335.9"/><use href="#e" y="295.8"/><use href="#g" y="330.8"/><use href="#b" y="333.9"/><use href="#d" y="329.9"/><use href="#b" y="346.0"/><use href="#e" y="344.2"/><use href="#d" y="302.4"/><use href="#e" y="349.8"/><use href="#g" y="331.6"/><use href="#f" y="317.1"/><use href="#a" y="343.2"/><use href="#c" y="341.9"/><use href="#e" y="305.3"/><use href="#c" y="339.7"/><use href="#c" y="351.5"/><use href="#c" y="335.4"/><use href="#d" y="301.0"/><use href="#g" y="324.0"/><use href="#d" y="298.9"/><use href="#f" y="303.6"/><use href="#c" y="332.8"/><use href="#f" y="320.7"/><use href="#d" y="315.9"/><use href="#c" y="346.6"/><use href="#a" y="314.3"/><use href="#c" y="331.3"/><use href="#e" y="304.1"/><use href="#b" y="356.2"/><use href="#f" y="347.1"/><use href="#g" y="319.6"/><use href="#c" y="334.9"/><use href="#f" y="305.7"/><use href="#c" y="350.8"/><use href="#g" y="310.2"/><use href="#g" y="299.4"/></g>
<g transform="translate(199.76 0)"><use href="#f" y="345.5"/><use href="#b" y="300.8"/><use href="#b" y="304.8"/><use href="#g" y="341.1"/><use href="#d" y="311.3"/><use href="#e" y="337.2"/><use href="#c" y="347.9"/><use href="#a" y="346.4"/><use href="#b" y="288.3"/><use href="#a" y="327.4"/><use href="#f" y="351.5"/><use href="#c" y="286.9"/><use href="#b" y="296.4"/><use href="#b" y="342.9"/><use href="#e" y="293.7"/><use href="#b" y="313.6"/><use href="#f" y="321.5"/><use href="#c" y="289.9"/><use href="#c" y="295.1"/><use href="#b" y="302.8"/><use href="#a" y="317.0"/><use href="#a" y="301.4"/><use href="#g" y="310.2"/><use href="#b" y="303.6"/><use href="#e" y="294.3"/><use href="#f" y="299.1"/><use href="#d" y="346.0"/><use href="#d" y="325.1"/><use href="#a" y="331.6"/><use href="#f" y="287.4"/><use href="#e" y="318.4"/><use href="#e" y="338.2"/><use href="#f" y="298.4"/><use href="#e" y="349.5"/><use href="#b" y="334.4"/><use href="#g" y="292.8"/><use href="#g" y="355.9"/><use href="#a" y="290.2"/><use href="#g" y="322.7"/><use href="#a" y="314.3"/><use href="#a" y="306.8"/><use href="#b" y="337.7"/><use href="#g" y="329.5"/><use href="#b" y="321.7"/><use href="#e" y="343.8"/><use href="#c" y="291.4"/><use href="#b" y="324.2"/><use href="#c" y="320.0"/><use href="#d" y="310.7"/><use href="#a" y="331.4"/><use href="#f" y="308.4"/><use href="#a" y="334.7"/><use href="#b" y="347.2"/><use href="#e" y="326.5"/><use href="#a" y="312.6"/><use href="#c" y="328.6"/><use href="#b" y="304.9"/><use href="#e" y="344.7"/><use href="#f" y="333.5"/><use href="#c" y="297.2"/><use href="#d" y="306.5"/><use href="#g" y="309.9"/><use href="#c" y="343.7"/><use href="#e" y="316.0"/><use href="#g" y="297.0"/><use href="#a" y="319.4"/><use href="#b" y="282.8"/><use href="#d" y="324.5"/><use href="#e" y="285.4"/><use href="#g" y="327.9"/><use href="#g" y="333.0"/><use href="#d" y="283.6"/><use href="#d" y="323.5"/><use href="#g" y="308.0"/><use href="#g" y="332.3"/><use href="#f" y="302.2"/><use href="#g" y="292.2"/><use href="#c" y="329.3"/><use href="#g" y="340.2"/><use href="#f" y="354.4"/><use href="#e" y="325.8"/><use href="#f" y="338.7"/><use href="#f" y="295.3"/><use href="#f" y="315.8"/><use href="#a" y="348.5"/><use href="#b" y="299.8"/><use href="#c" y="302.9"/><use href="#c" y="313.0"/><use href="#b" y="319.0"/><use href="#c" y="335.9"/><use href="#e" y="286.2"/><use href="#b" y="352.7"/><use href="#a" y="336.5"/><use href="#f" y="288.7"/><use href="#d" y="339.8"/><use href="#g" y="350.2"/><use href="#g" y="340.5"/><use href="#b" y="330.1"/><use href="#e" y="349.6"/><use href="#c" y="309.2"/><use href="#e" y="320.6"/><use href="#d" y="305.5"/><use href="#a" y="290.6"/><use href="#f" y="317.6"/><use href="#e" y="352.3"/><use href="#c" y="298.1"/><use href="#b" y="314.7"/><use href="#b" y="342.0"/></g>
<g transform="translate(213.81 0)"><use href="#g" y="344.7"/><use href="#d" y="333.6"/><use href="#f" y="288.5"/><use href="#b" y="273.4"/><use href="#c" y="306.1"/><use href="#e" y="320.4"/><use href="#a" y="302.4"/><use href="#b" y="337.3"/><use href="#c" y="349.9"/><use href="#b" y="279.5"/><use href="#c" y="298.9"/><use href="#a" y="311.0"/><use href="#b" y="290.1"/><use href="#d" y="287.3"/><use href="#e" y="343.8"/><use href="#a" y="283.7"/><use href="#e" y="300.4"/><use href="#c" y="277.1"/><use href="#a" y="315.6"/><use href="#f" y="292.3"/><use href="#b" y="303.9"/><use href="#b" y="308.5"/><use href="#a" y="326.8"/><use href="#b" y="345.0"/><use href="#f" y="304.3"/><use href="#b" y="338.6"/><use href="#a" y="306.8"/><use href="#d" y="298.5"/><use href="#g" y="336.8"/><use href="#d" y="307.4"/><use href="#a" y="291.1"/><use href="#d" y="324.2"/><use href="#d" y="335.0"/><use href="#b" y="343.3"/><use href="#f" y="349.3"/><use href="#e" y="299.7"/><use href="#f" y="274.3"/><use href="#g" y="278.6"/><use href="#a" y="324.8"/><use href="#f" y="281.0"/><use href="#d" y="338.1"/><use href="#e" y="328.0"/><use href="#c" y="318.3"/><use href="#f" y="332.8"/><use href="#e" y="334.2"/><use href="#a" y="289.4"/><use href="#d" y="345.6"/><use href="#b" y="284.8"/><use href="#b" y="320.7"/><use href="#f" y="340.0"/><use href="#b" y="303.3"/><use href="#c" y="293.6"/><use href="#f" y="327.5"/><use href="#a" y="346.9"/><use href="#e" y="297.5"/><use href="#f" y="316.7"/><use href="#f" y="340.2"/><use href="#e" y="336.1"/><use href="#c" y="331.9"/><use href="#b" y="295.8"/><use href="#g" y="339.0"/><use href="#f" y="332.1"/><use href="#a" y="322.3"/><use href="#d" y="285.5"/><use href="#d" y="326.3"/><use href="#b" y="312.3"/><use href="#d" y="319.1"/><use href="#c" y="312.6"/><use href="#b" y="282.8"/><use href="#c" y="314.5"/><use href="#f" y="319.3"/><use href="#d" y="302.2"/><use href="#g" y="341.6"/><use href="#f" y="329.9"/><use href="#e" y="284.2"/><use href="#a" y="281.6"/><use href="#d" y="280.3"/><use href="#a" y="289.0"/><use href="#b" y="297.5"/><use href="#a" y="296.3"/><use href="#g" y="293.3"/><use href="#d" y="323.5"/><use href="#c" y="328.8"/><use href="#f" y="342.4"/><use href="#e" y="314.1"/><use href="#g" y="305.4"/><use href="#a" y="316.0"/><use href="#f" y="277.3"/><use href="#g" y="286.4"/><use href="#d" y="301.3"/><use href="#e" y="294.3"/><use href="#e" y="308.2"/><use href="#g" y="309.7"/><use href="#g" y="272.1"/><use href="#e" y="282.5"/><use href="#f" y="323.1"/><use href="#d" y="313.4"/><use href="#d" y="347.7"/><use href="#c" y="295.1"/><use href="#c" y="330.4"/><use href="#d" y="321.3"/><use href="#e" y="278.1"/><use href="#e" y="275.0"/><use href="#g" y="276.5"/><use href="#d" y="311.4"/><use href="#a" y="292.1"/><use href="#a" y="317.4"/><use href="#g" y="330.7"/><use href="#e" y="309.8"/><use href="#g" y="325.4"/><use href="#g" y="287.6"/><use href="#f" y="341.3"/></g>
<g transform="translate(227.86 0)"><use href="#b" y="264.7"/><use href="#c" y="324.4"/><use href="#g" y="293.5"/><use href="#a" y="303.5"/><use href="#b" y="325.4"/><use href="#f" y="307.9"/><use href="#d" y="311.1"/><use href="#f" y="269.1"/><use href="#c" y="330.7"/><use href="#d" y="322.9"/><use href="#d" y="290.3"/><use href="#c" y="304.3"/><use href="#b" y="289.5"/><use href="#b" y="296.2"/><use href="#a" y="310.7"/><use href="#d" y="328.1"/><use href="#f" y="287.1"/><use href="#a" y="261.4"/><use href="#d" y="276.0"/><use href="#d" y="295.7"/><use href="#c" y="305.5"/><use href="#a" y="313.5"/><use href="#b" y="278.4"/><use href="#g" y="312.5"/><use href="#c" y="330.0"/><use href="#a" y="313.6"/><use href="#a" y="305.0"/><use href="#e" y="275.2"/><use href="#f" y="308.5"/><use href="#d" y="339.4"/><use href="#e" y="311.5"/><use href="#c" y="303.0"/><use href="#e" y="283.2"/><use href="#f" y="342.9"/><use href="#f" y="316.4"/><use href="#a" y="335.0"/><use href="#c" y="324.0"/><use href="#c" y="295.0"/><use href="#d" y="317.9"/><use href="#e" y="299.9"/><use href="#g" y="297.5"/><use href="#d" y="291.6"/><use href="#c" y="334.2"/><use href="#a" y="336.0"/><use href="#f" y="296.9"/><use href="#c" y="271.0"/><use href="#a" y="300.8"/><use href="#b" y="336.9"/><use href="#a" y="269.5"/><use href="#f" y="328.5"/><use href="#d" y="287.9"/><use href="#g" y="281.0"/><use href="#f" y="263.1"/><use href="#a" y="292.3"/><use href="#g" y="343.5"/><use href="#b" y="302.0"/><use href="#g" y="267.8"/><use href="#c" y="332.1"/><use href="#b" y="262.6"/><use href="#g" y="298.2"/><use href="#e" y="326.6"/><use href="#e" y="294.3"/><use href="#f" y="321.4"/><use href="#d" y="307.0"/><use href="#c" y="338.8"/><use href="#a" y="276.5"/><use href="#e" y="285.3"/><use href="#a" y="273.7"/><use href="#f" y="265.3"/><use href="#a" y="332.8"/><use href="#b" y="317.6"/><use href="#f" y="309.8"/><use href="#e" y="274.5"/><use href="#a" y="283.4"/><use href="#e" y="281.6"/><use href="#g" y="337.8"/><use href="#a" y="336.7"/><use href="#e" y="265.7"/><use href="#g" y="319.7"/><use href="#g" y="318.6"/><use href="#g" y="291.0"/><use href="#b" y="322.6"/><use href="#e" y="340.7"/><use href="#e" y="299.4"/><use href="#b" y="306.0"/><use href="#b" y="273.1"/><use href="#f" y="270.0"/><use href="#c" y="280.3"/><use href="#d" y="320.8"/><use href="#g" y="284.0"/><use href="#e" y="308.9"/><use href="#f" y="316.8"/><use href="#g" y="292.6"/><use href="#c" y="340.3"/><use href="#e" y="281.9"/><use href="#b" y="345.5"/><use href="#g" y="288.7"/><use href="#a" y="334.0"/><use href="#b" y="266.9"/><use href="#g" y="315.2"/><use href="#g" y="327.0"/><use href="#e" y="267.9"/><use href="#f" y="320.4"/><use href="#e" y="314.4"/><use href="#e" y="285.9"/><use href="#a" y="301.4"/><use href="#b" y="329.2"/><use href="#f" y="277.1"/><use href="#c" y="341.8"/><use href="#a" y="286.2"/><use href="#c" y="325.9"/><use href="#b" y="272.3"/><use href="#b" y="331.3"/><use href="#a" y="279.1"/><use href="#f" y="271.4"/><use href="#a" y="278.7"/></g>
<g transform="translate(241.90 0)"><use href="#a" y="289.1"/><use href="#b" y="284.1"/><use href="#b" y="339.1"/><use href="#f" y="281.1"/><use href="#b" y="340.4"/><use href="#c" y="266.2"/><use href="#d" y="311.6"/><use href="#a" y="305.3"/><use href="#a" y="266.9"/><use href="#g" y="288.1"/><use href="#c" y="312.9"/><use href="#f" y="265.4"/><use href="#c" y="314.0"/><use href="#f" y="275.0"/><use href="#f" y="286.8"/><use href="#a" y="278.8"/><use href="#f" y="336.7"/><use href="#b" y="289.9"/><use href="#f" y="293.3"/><use href="#g" y="313.2"/><use href="#f" y="295.4"/><use href="#d" y="302.8"/><use href="#e" y="268.6"/><use href="#d" y="320.4"/><use href="#f" y="320.7"/><use href="#d" y="259.3"/><use href="#a" y="317.9"/><use href="#f" y="258.2"/><use href="#c" y="283.2"/><use href="#d" y="257.1"/><use href="#d" y="337.5"/><use href="#a" y="252.3"/><use href="#g" y="271.5"/><use href="#a" y="300.8"/><use href="#g" y="330.7"/><use href="#g" y="260.2"/><use href="#g" y="276.3"/><use href="#a" y="329.7"/><use href="#g" y="283.7"/><use href="#e" y="277.4"/><use href="#e" y="289.8"/><use href="#b" y="253.7"/><use href="#b" y="297.6"/><use href="#b" y="293.9"/><use href="#c" y="301.9"/><use href="#a" y="263.9"/><use href="#e" y="314.8"/><use href="#a" y="285.5"/><use href="#a" y="269.9"/><use href="#g" y="317.1"/><use href="#d" y="250.6"/><use href="#c" y="305.0"/><use href="#g" y="306.3"/><use href="#b" y="280.4"/><use href="#c" y="307.1"/><use href="#c" y="254.3"/><use href="#c" y="327.6"/><use href="#g" y="303.6"/><use href="#b" y="326.4"/><use href="#e" y="304.1"/><use href="#d" y="255.1"/><use href="#e" y="331.2"/><use href="#a" y="298.2"/><use href="#f" y="309.5"/><use href="#c" y="323.2"/><use href="#e" y="315.7"/><use href="#e" y="263.3"/><use href="#f" y="290.7"/><use href="#b" y="250.2"/><use href="#e" y="316.4"/><use href="#b" y="291.6"/><use href="#d" y="274.1"/><use href="#a" y="281.3"/><use href="#e" y="333.5"/><use href="#b" y="308.4"/><use href="#d" y="261.1"/><use href="#g" y="295.9"/><use href="#a" y="323.5"/><use href="#e" y="279.6"/><use href="#b" y="267.4"/><use href="#e" y="273.5"/><use href="#f" y="299.6"/><use href="#f" y="309.7"/><use href="#b" y="310.6"/><use href="#e" y="292.2"/><use href="#c" y="271.9"/><use href="#g" y="322.5"/><use href="#f" y="261.9"/><use href="#e" y="335.0"/><use href="#c" y="319.2"/><use href="#a" y="301.0"/><use href="#c" y="294.7"/><use href="#g" y="265.0"/><use href="#c" y="278.1"/><use href="#a" y="335.5"/><use href="#f" y="287.6"/><use href="#g" y="329.0"/><use href="#d" y="331.9"/><use href="#e" y="299.2"/><use href="#c" y="325.1"/><use href="#a" y="273.0"/><use href="#a" y="259.8"/><use href="#c" y="262.6"/><use href="#b" y="311.8"/><use href="#d" y="333.8"/><use href="#g" y="282.2"/><use href="#a" y="321.2"/><use href="#b" y="296.6"/><use href="#e" y="307.9"/><use href="#a" y="318.5"/><use href="#a" y="324.2"/><use href="#a" y="275.8"/><use href="#f" y="285.8"/><use href="#a" y="332.4"/><use href="#d" y="270.7"/><use href="#g" y="269.2"/><use href="#d" y="257.0"/><use href="#b" y="256.3"/><use href="#d" y="328.1"/><use href="#g" y="326.2"/></g>
<g transform="translate(255.94 0)"><use href="#e" y="329.9"/><use href="#a" y="262.3"/><use href="#c" y="313.2"/><use href="#a" y="321.2"/><use href="#a" y="253.5"/><use href="#g" y="261.7"/><use href="#e" y="313.4"/><use href="#f" y="320.0"/><use href="#c" y="334.3"/><use href="#c" y="260.9"/><use href="#g" y="314.5"/><use href="#c" y="317.4"/><use href="#d" y="272.3"/><use href="#c" y="296.3"/><use href="#d" y="266.2"/><use href="#a" y="264.5"/><use href="#c" y="275.1"/><use href="#g" y="306.2"/><use href="#e" y="285.0"/><use href="#b" y="327.8"/><use href="#b" y="292.7"/><use href="#e" y="302.1"/><use href="#a" y="323.3"/><use href="#d" y="244.8"/><use href="#d" y="239.7"/><use href="#c" y="316.0"/><use href="#f" y="303.1"/><use href="#c" y="321.7"/><use href="#a" y="288.2"/><use href="#e" y="246.3"/><use href="#a" y="311.9"/><use href="#a" y="284.3"/><use href="#b" y="288.8"/><use href="#g" y="325.4"/><use href="#c" y="278.2"/><use href="#f" y="290.3"/><use href="#e" y="250.4"/><use href="#c" y="273.0"/><use href="#c" y="292.2"/><use href="#a" y="306.9"/><use href="#d" y="270.9"/><use href="#d" y="259.6"/><use href="#g" y="252.8"/><use href="#d" y="279.5"/><use href="#g" y="299.2"/><use href="#c" y="308.4"/><use href="#f" y="270.0"/><use href="#a" y="267.0"/><use href="#c" y="248.7"/><use href="#a" y="318.9"/><use href="#d" y="247.7"/><use href="#c" y="243.1"/><use href="#b" y="264.3"/><use href="#a" y="257.0"/><use href="#b" y="300.4"/><use href="#g" y="280.8"/><use href="#e" y="295.5"/><use href="#c" y="274.9"/><use href="#c" y="309.4"/><use href="#a" y="320.7"/><use href="#b" y="265.4"/><use href="#b" y="315.4"/><use href="#e" y="316.8"/><use href="#b" y="283.2"/><use href="#b" y="249.4"/><use href="#d" y="256.7"/><use href="#c" y="324.0"/><use href="#c" y="241.8"/><use href="#a" y="276.5"/><use href="#g" y="271.9"/><use href="#d" y="282.6"/><use href="#g" y="258.2"/><use href="#g" y="248.4"/><use href="#e" y="269.0"/><use href="#g" y="298.9"/><use href="#d" y="268.1"/><use href="#a" y="260.5"/><use href="#d" y="246.9"/><use href="#f" y="287.5"/><use href="#b" y="331.7"/><use href="#a" y="311.0"/><use href="#e" y="322.9"/><use href="#d" y="318.4"/><use href="#e" y="304.9"/><use href="#e" y="236.5"/><use href="#g" y="335.5"/><use href="#g" y="251.6"/><use href="#f" y="273.7"/><use href="#d" y="254.4"/><use href="#d" y="325.1"/><use href="#b" y="297.4"/><use href="#e" y="286.6"/><use href="#b" y="277.8"/><use href="#g" y="301.6"/><use href="#a" y="329.2"/><use href="#b" y="268.4"/><use href="#c" y="289.8"/><use href="#f" y="332.3"/><use href="#d" y="298.0"/><use href="#g" y="255.9"/><use href="#d" y="282.0"/><use href="#b" y="278.7"/><use href="#b" y="245.1"/><use href="#a" y="305.5"/><use href="#d" y="281.1"/><use href="#g" y="307.3"/><use href="#e" y="243.3"/><use href="#g" y="303.6"/><use href="#g" y="328.7"/><use href="#b" y="258.6"/><use href="#a" y="327.5"/><use href="#b" y="286.1"/><use href="#f" y="311.7"/><use href="#f" y="291.0"/><use href="#d" y="300.7"/><use href="#d" y="275.8"/><use href="#c" y="263.4"/><use href="#g" y="295.0"/><use href="#e" y="310.2"/><use href="#d" y="294.2"/><use href="#d" y="326.6"/><use href="#e" y="293.7"/><use href="#g" y="255.3"/><use href="#c" y="251.6"/></g>
<g transform="translate(269.99 0)"><use href="#d" y="288.9"/><use href="#e" y="272.3"/><use href="#b" y="285.0"/><use href="#a" y="302.2"/><use href="#c" y="305.2"/><use href="#a" y="291.6"/><use href="#d" y="268.4"/><use href="#e" y="263.4"/><use href="#b" y="246.1"/><use href="#c" y="311.6"/><use href="#e" y="267.3"/><use href="#a" y="264.7"/><use href="#a" y="239.5"/><use href="#g" y="308.6"/><use href="#f" y="318.1"/><use href="#d" y="275.5"/><use href="#c" y="269.1"/><use href="#a" y="260.0"/><use href="#a" y="273.2"/><use href="#e" y="248.2"/><use href="#b" y="326.9"/><use href="#d" y="254.5"/><use href="#g" y="258.5"/><use href="#d" y="294.4"/><use href="#d" y="228.7"/><use href="#g" y="314.6"/><use href="#f" y="293.1"/><use href="#d" y="296.2"/><use href="#e" y="297.2"/><use href="#d" y="241.4"/><use href="#b" y="325.2"/><use href="#f" y="313.8"/><use href="#g" y="285.2"/><use href="#d" y="290.7"/><use href="#d" y="265.8"/><use href="#g" y="271.5"/><use href="#a" y="322.1"/><use href="#a" y="316.7"/><use href="#g" y="245.1"/><use href="#f" y="228.1"/><use href="#a" y="297.7"/><use href="#f" y="298.4"/><use href="#a" y="255.5"/><use href="#b" y="283.1"/><use href="#c" y="278.4"/><use href="#g" y="274.4"/><use href="#e" y="307.4"/><use href="#f" y="260.7"/><use href="#a" y="270.1"/><use href="#b" y="313.6"/><use href="#d" y="273.7"/><use href="#c" y="262.4"/><use href="#f" y="309.9"/><use href="#c" y="251.3"/><use href="#g" y="267.6"/><use href="#e" y="276.7"/><use href="#b" y="303.7"/><use href="#f" y="238.0"/><use href="#f" y="280.8"/><use href="#d" y="286.7"/><use href="#g" y="320.8"/><use href="#a" y="328.0"/><use href="#g" y="253.1"/><use href="#f" y="265.1"/><use href="#f" y="305.8"/><use href="#d" y="238.7"/><use href="#g" y="248.9"/><use href="#g" y="290.0"/><use href="#e" y="231.1"/><use href="#e" y="323.5"/><use href="#a" y="312.9"/><use href="#f" y="281.5"/><use href="#c" y="237.4"/><use href="#b" y="280.3"/><use href="#b" y="319.4"/><use href="#f" y="318.9"/><use href="#c" y="251.0"/><use href="#b" y="309.5"/><use href="#g" y="307.7"/><use href="#a" y="292.5"/><use href="#b" y="289.5"/><use href="#b" y="320.1"/><use href="#b" y="293.8"/><use href="#f" y="299.3"/><use href="#e" y="300.0"/><use href="#f" y="301.1"/><use href="#e" y="236.1"/><use href="#a" y="277.7"/><use href="#e" y="287.7"/><use href="#b" y="237.0"/><use href="#f" y="233.2"/><use href="#c" y="253.5"/><use href="#b" y="286.9"/><use href="#g" y="235.2"/><use href="#d" y="311.0"/><use href="#c" y="231.3"/><use href="#e" y="295.9"/><use href="#c" y="317.4"/><use href="#a" y="261.9"/><use href="#a" y="282.3"/><use href="#e" y="234.3"/><use href="#c" y="232.3"/><use href="#c" y="263.8"/><use href="#d" y="324.4"/><use href="#g" y="301.5"/><use href="#e" y="259.5"/><use href="#a" y="242.7"/><use href="#f" y="326.4"/><use href="#e" y="242.1"/><use href="#g" y="283.6"/><use href="#b" y="243.5"/><use href="#c" y="279.4"/><use href="#c" y="256.0"/><use href="#c" y="247.9"/><use href="#c" y="252.2"/><use href="#e" y="240.2"/><use href="#e" y="244.2"/><use href="#e" y="322.8"/><use href="#b" y="316.0"/><use href="#g" y="249.6"/><use href="#a" y="246.6"/><use href="#d" y="330.5"/><use href="#c" y="270.5"/><use href="#f" y="275.9"/><use href="#b" y="256.5"/><use href="#e" y="258.0"/><use href="#f" y="306.4"/><use href="#f" y="303.6"/></g>
<g transform="translate(284.04 0)"><use href="#g" y="252.4"/><use href="#b" y="240.1"/><use href="#g" y="293.4"/><use href="#d" y="289.8"/><use href="#a" y="302.8"/><use href="#g" y="281.3"/><use href="#b" y="233.8"/><use href="#a" y="247.6"/><use href="#a" y="303.9"/><use href="#b" y="228.3"/><use href="#d" y="298.4"/><use href="#e" y="256.4"/><use href="#a" y="312.7"/><use href="#b" y="244.1"/><use href="#f" y="275.1"/><use href="#g" y="280.9"/><use href="#g" y="287.8"/><use href="#a" y="315.5"/><use href="#b" y="276.2"/><use href="#b" y="251.2"/><use href="#e" y="237.2"/><use href="#a" y="297.6"/><use href="#d" y="323.3"/><use href="#b" y="235.6"/><use href="#f" y="310.3"/><use href="#b" y="309.6"/><use href="#g" y="232.6"/><use href="#b" y="316.5"/><use href="#e" y="268.6"/><use href="#d" y="233.2"/><use href="#g" y="278.0"/><use href="#e" y="284.5"/><use href="#b" y="239.4"/><use href="#d" y="225.6"/><use href="#f" y="268.1"/><use href="#a" y="226.8"/><use href="#c" y="299.4"/><use href="#a" y="258.1"/><use href="#b" y="317.5"/><use href="#b" y="264.7"/><use href="#f" y="236.5"/><use href="#a" y="241.6"/><use href="#g" y="305.8"/><use href="#e" y="277.2"/><use href="#f" y="255.6"/><use href="#g" y="223.6"/><use href="#a" y="319.7"/><use href="#f" y="254.6"/><use href="#f" y="218.7"/><use href="#f" y="216.9"/><use href="#g" y="326.0"/><use href="#g" y="300.6"/><use href="#b" y="290.4"/><use href="#d" y="319.0"/><use href="#d" y="243.2"/><use href="#a" y="311.8"/><use href="#b" y="296.7"/><use href="#b" y="234.6"/><use href="#c" y="315.1"/><use href="#c" y="257.1"/><use href="#d" y="224.4"/><use href="#d" y="282.8"/><use href="#d" y="262.5"/><use href="#e" y="307.9"/><use href="#g" y="320.9"/><use href="#c" y="253.7"/><use href="#c" y="222.1"/><use href="#c" y="242.9"/><use href="#g" y="271.2"/><use href="#e" y="283.2"/><use href="#d" y="306.5"/><use href="#a" y="265.9"/><use href="#a" y="274.8"/><use href="#a" y="280.3"/><use href="#f" y="318.2"/><use href="#g" y="259.8"/><use href="#c" y="250.3"/><use href="#g" y="230.4"/><use href="#b" y="266.9"/><use href="#e" y="286.6"/><use href="#g" y="240.8"/><use href="#d" y="258.3"/><use href="#e" y="261.5"/><use href="#f" y="273.7"/><use href="#a" y="237.8"/><use href="#e" y="299.5"/><use href="#f" y="229.9"/><use href="#a" y="220.4"/><use href="#d" y="291.0"/><use href="#b" y="321.8"/><use href="#g" y="310.7"/><use href="#a" y="314.5"/><use href="#g" y="278.5"/><use href="#b" y="284.0"/><use href="#a" y="307.3"/><use href="#d" y="260.4"/><use href="#c" y="288.6"/><use href="#f" y="270.6"/><use href="#e" y="238.6"/><use href="#a" y="272.4"/><use href="#f" y="308.9"/><use href="#c" y="286.9"/><use href="#g" y="304.4"/><use href="#e" y="231.5"/><use href="#e" y="250.1"/><use href="#a" y="248.0"/><use href="#b" y="273.0"/><use href="#d" y="279.0"/><use href="#b" y="245.8"/><use href="#f" y="286.0"/><use href="#d" y="292.2"/><use href="#a" y="220.0"/><use href="#b" y="302.6"/><use href="#b" y="245.4"/><use href="#e" y="246.4"/><use href="#e" y="267.3"/><use href="#g" y="295.8"/><use href="#b" y="261.2"/><use href="#c" y="293.0"/><use href="#c" y="264.1"/><use href="#c" y="313.4"/><use href="#c" y="249.0"/><use href="#b" y="295.0"/><use href="#c" y="301.9"/><use href="#f" y="222.7"/><use href="#b" y="253.2"/><use href="#c" y="270.0"/><use href="#g" y="229.4"/><use href="#b" y="263.6"/><use href="#g" y="294.1"/><use href="#e" y="227.7"/><use href="#c" y="225.6"/></g>
<g transform="translate(298.08 0)"><use href="#a" y="292.8"/><use href="#d" y="305.2"/><use href="#e" y="247.3"/><use href="#b" y="273.4"/><use href="#e" y="250.4"/><use href="#g" y="315.1"/><use href="#f" y="229.6"/><use href="#d" y="321.3"/><use href="#d" y="318.3"/><use href="#b" y="272.6"/><use href="#g" y="232.4"/><use href="#b" y="295.1"/><use href="#a" y="289.7"/><use href="#a" y="267.6"/><use href="#g" y="306.1"/><use href="#f" y="251.1"/><use href="#a" y="228.5"/><use href="#c" y="291.4"/><use href="#c" y="264.8"/><use href="#e" y="313.1"/><use href="#c" y="307.0"/><use href="#a" y="282.4"/><use href="#g" y="260.2"/><use href="#e" y="226.8"/><use href="#e" y="228.7"/><use href="#d" y="216.5"/><use href="#e" y="280.2"/><use href="#b" y="231.5"/><use href="#c" y="317.1"/><use href="#e" y="288.4"/><use href="#f" y="220.2"/><use href="#c" y="261.9"/><use href="#c" y="310.0"/><use href="#b" y="223.9"/><use href="#f" y="203.8"/><use href="#f" y="284.8"/><use href="#f" y="300.4"/><use href="#f" y="277.4"/><use href="#c" y="285.2"/><use href="#d" y="265.9"/><use href="#d" y="262.6"/><use href="#f" y="234.8"/><use href="#f" y="310.2"/><use href="#d" y="224.9"/><use href="#f" y="254.4"/><use href="#a" y="308.5"/><use href="#c" y="297.5"/><use href="#g" y="274.3"/><use href="#d" y="295.9"/><use href="#g" y="308.1"/><use href="#g" y="263.6"/><use href="#d" y="235.4"/><use href="#a" y="242.1"/><use href="#b" y="299.8"/><use href="#g" y="245.2"/><use href="#c" y="221.9"/><use href="#g" y="301.6"/><use href="#e" y="215.9"/><use href="#e" y="236.7"/><use href="#d" y="287.1"/><use href="#b" y="238.8"/><use href="#b" y="223.0"/><use href="#d" y="275.3"/><use href="#f" y="276.3"/><use href="#a" y="270.8"/><use href="#e" y="315.8"/><use href="#e" y="277.6"/><use href="#d" y="305.9"/><use href="#a" y="212.0"/><use href="#d" y="253.8"/><use href="#c" y="302.8"/><use href="#g" y="230.3"/><use href="#e" y="252.0"/><use href="#f" y="210.6"/><use href="#f" y="244.4"/><use href="#g" y="209.9"/><use href="#c" y="293.2"/><use href="#f" y="268.7"/><use href="#d" y="226.1"/><use href="#f" y="223.5"/><use href="#f" y="290.2"/><use href="#e" y="213.7"/><use href="#e" y="217.3"/><use href="#c" y="206.6"/><use href="#g" y="252.6"/><use href="#g" y="237.4"/><use href="#a" y="296.7"/><use href="#g" y="294.5"/><use href="#d" y="269.4"/><use href="#a" y="283.2"/><use href="#d" y="313.4"/><use href="#c" y="215.1"/><use href="#a" y="248.1"/><use href="#b" y="279.6"/><use href="#a" y="209.1"/><use href="#e" y="233.9"/><use href="#d" y="261.2"/><use href="#d" y="240.2"/><use href="#g" y="218.3"/><use href="#c" y="264.0"/><use href="#a" y="299.1"/><use href="#d" y="258.3"/><use href="#f" y="259.5"/><use href="#b" y="311.4"/><use href="#a" y="242.7"/><use href="#g" y="278.8"/><use href="#d" y="267.8"/><use href="#b" y="274.5"/><use href="#c" y="227.8"/><use href="#e" y="244.0"/><use href="#a" y="219.0"/><use href="#d" y="256.7"/><use href="#g" y="255.2"/><use href="#c" y="258.0"/><use href="#e" y="312.5"/><use href="#b" y="238.0"/><use href="#b" y="292.1"/><use href="#c" y="214.6"/><use href="#f" y="303.4"/><use href="#a" y="220.9"/><use href="#g" y="248.7"/><use href="#a" y="249.3"/><use href="#a" y="287.9"/><use href="#g" y="241.1"/><use href="#d" y="233.0"/><use href="#g" y="283.3"/><use href="#d" y="266.6"/><use href="#e" y="271.7"/><use href="#g" y="239.7"/><use href="#b" y="298.2"/><use href="#d" y="212.5"/><use href="#c" y="281.5"/><use href="#c" y="245.8"/><use href="#e" y="255.8"/><use href="#b" y="304.4"/><use href="#e" y="286.1"/></g>
<g transform="translate(312.12 0)"><use href="#g" y="219.0"/><use href="#e" y="256.1"/><use href="#b" y="239.9"/><use href="#a" y="287.0"/><use href="#d" y="271.2"/><use href="#d" y="246.8"/><use href="#a" y="285.9"/><use href="#d" y="305.7"/><use href="#f" y="280.2"/><use href="#a" y="205.3"/><use href="#a" y="270.7"/><use href="#b" y="245.3"/><use href="#d" y="231.8"/><use href="#d" y="240.7"/><use href="#f" y="227.3"/><use href="#b" y="239.1"/><use href="#b" y="258.4"/><use href="#f" y="292.3"/><use href="#b" y="309.5"/><use href="#e" y="197.5"/><use href="#f" y="193.6"/><use href="#b" y="237.2"/><use href="#a" y="264.3"/><use href="#a" y="267.7"/><use href="#g" y="282.3"/><use href="#d" y="277.4"/><use href="#e" y="250.0"/><use href="#b" y="278.6"/><use href="#g" y="224.7"/><use href="#a" y="227.6"/><use href="#d" y="312.2"/><use href="#f" y="230.7"/><use href="#c" y="304.6"/><use href="#e" y="288.4"/><use href="#d" y="216.2"/><use href="#d" y="269.3"/><use href="#a" y="276.1"/><use href="#f" y="220.0"/><use href="#a" y="260.2"/><use href="#b" y="216.8"/><use href="#f" y="297.7"/><use href="#c" y="210.0"/><use href="#c" y="287.6"/><use href="#a" y="243.6"/><use href="#c" y="308.3"/><use href="#f" y="234.6"/><use href="#a" y="301.8"/><use href="#f" y="241.7"/><use href="#c" y="230.1"/><use href="#c" y="268.2"/><use href="#g" y="214.1"/><use href="#b" y="235.6"/><use href="#f" y="282.5"/><use href="#c" y="201.6"/><use href="#f" y="262.8"/><use href="#e" y="222.6"/><use href="#f" y="242.5"/><use href="#e" y="307.2"/><use href="#d" y="300.1"/><use href="#a" y="222.3"/><use href="#d" y="296.3"/><use href="#g" y="293.6"/><use href="#g" y="203.9"/><use href="#f" y="228.4"/><use href="#c" y="271.9"/><use href="#f" y="303.1"/><use href="#f" y="294.5"/><use href="#d" y="233.7"/><use href="#a" y="298.4"/><use href="#b" y="252.6"/><use href="#f" y="284.0"/><use href="#g" y="318.7"/><use href="#d" y="217.5"/><use href="#b" y="279.6"/><use href="#a" y="233.1"/><use href="#f" y="256.8"/><use href="#c" y="273.0"/><use href="#f" y="259.3"/><use href="#d" y="249.3"/><use href="#b" y="215.7"/><use href="#c" y="273.6"/><use href="#b" y="238.6"/><use href="#c" y="198.6"/><use href="#b" y="214.0"/><use href="#f" y="292.4"/><use href="#e" y="208.4"/><use href="#b" y="250.9"/><use href="#d" y="237.8"/><use href="#d" y="274.2"/><use href="#g" y="285.4"/><use href="#b" y="212.9"/><use href="#d" y="202.9"/><use href="#c" y="297.2"/><use href="#c" y="229.1"/><use href="#d" y="289.7"/><use href="#g" y="206.9"/><use href="#c" y="211.7"/><use href="#b" y="303.7"/><use href="#g" y="257.4"/><use href="#f" y="195.2"/><use href="#a" y="253.4"/><use href="#b" y="261.1"/><use href="#e" y="305.5"/><use href="#a" y="226.3"/><use href="#d" y="254.9"/><use href="#c" y="224.0"/><use href="#g" y="248.2"/><use href="#f" y="249.0"/><use href="#f" y="207.6"/><use href="#e" y="209.1"/><use href="#d" y="290.6"/><use href="#e" y="308.0"/><use href="#c" y="199.6"/><use href="#e" y="265.3"/><use href="#a" y="275.4"/><use href="#g" y="313.7"/><use href="#a" y="246.3"/><use href="#e" y="291.1"/><use href="#a" y="221.2"/><use href="#e" y="225.0"/><use href="#d" y="262.2"/><use href="#d" y="280.7"/><use href="#a" y="310.5"/><use href="#c" y="263.5"/><use href="#d" y="211.4"/><use href="#e" y="205.9"/><use href="#d" y="204.5"/><use href="#f" y="299.2"/><use href="#e" y="283.7"/><use href="#f" y="300.8"/><use href="#g" y="244.6"/><use href="#a" y="295.4"/><use href="#e" y="252.1"/><use href="#f" y="236.3"/><use href="#g" y="254.5"/><use href="#f" y="266.9"/><use href="#c" y="219.3"/><use href="#f" y="277.0"/><use href="#e" y="265.8"/><use href="#d" y="201.1"/></g>
<g transform="translate(326.17 0)"><use href="#g" y="281.0"/><use href="#b" y="300.1"/><use href="#a" y="254.9"/><use href="#c" y="269.5"/><use href="#f" y="242.5"/><use href="#a" y="210.5"/><use href="#a" y="227.2"/><use href="#e" y="238.6"/><use href="#g" y="268.3"/><use href="#b" y="188.3"/><use href="#g" y="205.3"/><use href="#c" y="277.9"/><use href="#g" y="192.1"/><use href="#g" y="239.6"/><use href="#f" y="243.9"/><use href="#a" y="233.2"/><use href="#b" y="272.4"/><use href="#e" y="248.5"/><use href="#e" y="297.7"/><use href="#c" y="221.1"/><use href="#a" y="293.9"/><use href="#f" y="235.1"/><use href="#e" y="278.6"/><use href="#b" y="292.4"/><use href="#b" y="307.2"/><use href="#f" y="251.4"/><use href="#b" y="188.6"/><use href="#e" y="240.8"/><use href="#d" y="231.3"/><use href="#b" y="223.6"/><use href="#c" y="257.3"/><use href="#f" y="302.9"/><use href="#d" y="294.6"/><use href="#a" y="198.5"/><use href="#c" y="207.9"/><use href="#c" y="224.5"/><use href="#a" y="199.4"/><use href="#e" y="301.8"/><use href="#e" y="209.0"/><use href="#a" y="275.7"/><use href="#a" y="261.8"/><use href="#e" y="229.2"/><use href="#d" y="264.9"/><use href="#g" y="233.0"/><use href="#a" y="234.5"/><use href="#b" y="277.0"/><use href="#a" y="206.8"/><use href="#b" y="300.7"/><use href="#d" y="274.6"/><use href="#f" y="253.9"/><use href="#f" y="228.2"/><use href="#e" y="202.3"/><use href="#f" y="291.0"/><use href="#c" y="242.8"/><use href="#c" y="298.4"/><use href="#b" y="289.4"/><use href="#g" y="231.9"/><use href="#f" y="222.1"/><use href="#f" y="247.4"/><use href="#e" y="202.8"/><use href="#f" y="261.0"/><use href="#b" y="214.1"/><use href="#a" y="195.8"/><use href="#a" y="288.8"/><use href="#e" y="267.2"/><use href="#g" y="252.2"/><use href="#b" y="274.0"/><use href="#e" y="310.7"/><use href="#b" y="218.7"/><use href="#d" y="305.1"/><use href="#e" y="293.2"/><use href="#c" y="181.9"/><use href="#e" y="196.7"/><use href="#d" y="198.1"/><use href="#f" y="279.3"/><use href="#c" y="212.8"/><use href="#e" y="226.2"/><use href="#a" y="215.9"/><use href="#b" y="266.0"/><use href="#b" y="246.0"/><use href="#c" y="219.0"/><use href="#e" y="286.4"/><use href="#c" y="235.8"/><use href="#a" y="271.0"/><use href="#f" y="217.7"/><use href="#d" y="276.2"/><use href="#e" y="296.4"/><use href="#b" y="229.9"/><use href="#e" y="211.6"/><use href="#b" y="190.1"/><use href="#e" y="299.5"/><use href="#e" y="213.6"/><use href="#a" y="203.5"/><use href="#d" y="263.0"/><use href="#a" y="196.5"/><use href="#g" y="245.0"/><use href="#a" y="184.1"/><use href="#g" y="256.6"/><use href="#b" y="193.6"/><use href="#c" y="241.4"/><use href="#g" y="260.3"/><use href="#c" y="237.8"/><use href="#e" y="255.5"/><use href="#g" y="262.7"/><use href="#c" y="200.8"/><use href="#b" y="286.8"/><use href="#c" y="305.6"/><use href="#b" y="285.0"/><use href="#a" y="303.2"/><use href="#a" y="267.9"/><use href="#e" y="222.3"/><use href="#a" y="227.3"/><use href="#g" y="190.9"/><use href="#f" y="285.7"/><use href="#a" y="253.2"/><use href="#d" y="270.3"/><use href="#d" y="225.5"/><use href="#e" y="272.0"/><use href="#d" y="263.9"/><use href="#e" y="207.6"/><use href="#f" y="215.3"/><use href="#g" y="236.6"/><use href="#b" y="201.7"/><use href="#b" y="249.1"/><use href="#d" y="250.3"/><use href="#d" y="259.4"/><use href="#g" y="210.2"/><use href="#d" y="246.5"/><use href="#f" y="192.8"/><use href="#b" y="288.0"/><use href="#f" y="291.6"/><use href="#e" y="187.2"/><use href="#f" y="219.6"/><use href="#b" y="282.1"/><use href="#b" y="284.2"/><use href="#e" y="296.0"/><use href="#b" y="205.0"/><use href="#f" y="194.1"/><use href="#c" y="258.4"/><use href="#e" y="249.8"/><use href="#a" y="283.2"/><use href="#b" y="280.2"/><use href="#c" y="216.6"/><use href="#b" y="309.2"/></g>
<g transform="translate(340.21 0)"><use href="#e" y="240.4"/><use href="#c" y="203.4"/><use href="#e" y="227.7"/><use href="#a" y="272.6"/><use href="#e" y="286.8"/><use href="#g" y="173.2"/><use href="#f" y="249.2"/><use href="#a" y="221.5"/><use href="#g" y="233.3"/><use href="#b" y="274.0"/><use href="#f" y="294.5"/><use href="#b" y="192.7"/><use href="#d" y="262.9"/><use href="#d" y="180.9"/><use href="#g" y="260.9"/><use href="#f" y="297.9"/><use href="#f" y="223.5"/><use href="#e" y="185.8"/><use href="#g" y="258.8"/><use href="#b" y="190.2"/><use href="#g" y="269.2"/><use href="#d" y="201.6"/><use href="#c" y="246.4"/><use href="#a" y="305.6"/><use href="#a" y="242.4"/><use href="#b" y="236.6"/><use href="#d" y="228.7"/><use href="#g" y="291.7"/><use href="#a" y="193.3"/><use href="#c" y="252.2"/><use href="#d" y="177.3"/><use href="#f" y="256.2"/><use href="#f" y="179.6"/><use href="#a" y="244.9"/><use href="#f" y="195.4"/><use href="#b" y="271.7"/><use href="#a" y="288.8"/><use href="#e" y="247.0"/><use href="#e" y="260.0"/><use href="#a" y="252.8"/><use href="#d" y="297.0"/><use href="#f" y="221.3"/><use href="#f" y="182.8"/><use href="#f" y="266.5"/><use href="#c" y="214.8"/><use href="#b" y="279.7"/><use href="#d" y="244.2"/><use href="#b" y="271.1"/><use href="#f" y="211.9"/><use href="#c" y="264.4"/><use href="#b" y="218.9"/><use href="#c" y="290.8"/><use href="#a" y="184.2"/><use href="#g" y="268.9"/><use href="#b" y="199.1"/><use href="#a" y="230.1"/><use href="#a" y="203.2"/><use href="#e" y="276.3"/><use href="#d" y="250.4"/><use href="#g" y="283.6"/><use href="#g" y="170.8"/><use href="#c" y="186.1"/><use href="#b" y="238.2"/><use href="#g" y="191.1"/><use href="#f" y="227.0"/><use href="#d" y="188.1"/><use href="#f" y="213.4"/><use href="#a" y="251.5"/><use href="#b" y="200.1"/><use href="#b" y="194.2"/><use href="#g" y="215.9"/><use href="#b" y="189.4"/><use href="#g" y="241.0"/><use href="#c" y="295.9"/><use href="#c" y="225.9"/><use href="#e" y="237.6"/><use href="#c" y="257.9"/><use href="#g" y="266.6"/><use href="#d" y="181.8"/><use href="#a" y="270.7"/><use href="#b" y="217.5"/><use href="#b" y="296.3"/><use href="#e" y="299.4"/><use href="#f" y="235.0"/><use href="#g" y="205.6"/><use href="#d" y="268.0"/><use href="#b" y="291.0"/><use href="#e" y="186.8"/><use href="#g" y="183.3"/><use href="#g" y="216.8"/><use href="#b" y="254.1"/><use href="#f" y="292.9"/><use href="#d" y="206.2"/><use href="#c" y="241.9"/><use href="#c" y="243.3"/><use href="#a" y="225.3"/><use href="#d" y="255.8"/><use href="#g" y="289.3"/><use href="#g" y="302.2"/><use href="#e" y="231.7"/><use href="#g" y="248.0"/><use href="#f" y="279.4"/><use href="#d" y="249.3"/><use href="#g" y="196.5"/><use href="#a" y="234.1"/><use href="#f" y="262.2"/><use href="#e" y="230.0"/><use href="#b" y="191.0"/><use href="#a" y="222.4"/><use href="#g" y="175.0"/><use href="#d" y="263.4"/><use href="#f" y="219.2"/><use href="#g" y="200.7"/><use href="#f" y="208.8"/><use href="#f" y="177.8"/><use href="#e" y="281.3"/><use href="#f" y="275.6"/><use href="#f" y="212.5"/><use href="#c" y="219.8"/><use href="#e" y="224.1"/><use href="#a" y="198.3"/><use href="#a" y="180.2"/><use href="#g" y="285.3"/><use href="#d" y="265.3"/><use href="#e" y="210.7"/><use href="#a" y="196.2"/><use href="#f" y="207.9"/><use href="#e" y="287.9"/><use href="#e" y="198.0"/><use href="#e" y="286.1"/><use href="#c" y="209.9"/><use href="#g" y="214.4"/><use href="#c" y="239.6"/><use href="#d" y="277.4"/><use href="#d" y="294.2"/><use href="#g" y="274.9"/><use href="#b" y="254.6"/><use href="#f" y="257.2"/><use href="#e" y="235.9"/><use href="#g" y="231.9"/><use href="#c" y="277.8"/><use href="#d" y="300.2"/><use href="#c" y="280.4"/><use href="#g" y="282.5"/><use href="#e" y="207.5"/><use href="#g" y="284.4"/><use href="#b" y="204.7"/><use href="#f" y="302.7"/></g>
<g transform="translate(354.26 0)"><use href="#d" y="293.2"/><use href="#g" y="187.7"/><use href="#d" y="285.9"/><use href="#c" y="186.6"/><use href="#b" y="197.7"/><use href="#g" y="256.0"/><use href="#g" y="236.8"/><use href="#d" y="177.7"/><use href="#a" y="198.9"/><use href="#b" y="279.0"/><use href="#c" y="192.9"/><use href="#c" y="253.1"/><use href="#d" y="226.4"/><use href="#e" y="274.1"/><use href="#e" y="200.6"/><use href="#g" y="253.9"/><use href="#e" y="242.0"/><use href="#f" y="288.7"/><use href="#c" y="252.3"/><use href="#d" y="231.9"/><use href="#f" y="182.8"/><use href="#e" y="216.8"/><use href="#c" y="210.0"/><use href="#e" y="250.2"/><use href="#d" y="269.7"/><use href="#b" y="228.2"/><use href="#g" y="258.8"/><use href="#a" y="275.8"/><use href="#g" y="207.1"/><use href="#g" y="291.6"/><use href="#a" y="182.1"/><use href="#e" y="287.5"/><use href="#b" y="295.8"/><use href="#e" y="175.8"/><use href="#c" y="166.8"/><use href="#c" y="168.7"/><use href="#f" y="270.8"/><use href="#c" y="257.3"/><use href="#g" y="209.4"/><use href="#e" y="262.2"/><use href="#f" y="281.8"/><use href="#a" y="196.7"/><use href="#g" y="180.9"/><use href="#g" y="166.1"/><use href="#g" y="184.4"/><use href="#f" y="280.4"/><use href="#d" y="264.9"/><use href="#a" y="223.3"/><use href="#e" y="276.3"/><use href="#g" y="196.0"/><use href="#a" y="234.4"/><use href="#d" y="238.4"/><use href="#b" y="202.7"/><use href="#c" y="220.2"/><use href="#e" y="173.5"/><use href="#b" y="254.7"/><use href="#e" y="283.5"/><use href="#f" y="246.9"/><use href="#d" y="273.1"/><use href="#a" y="248.0"/><use href="#g" y="208.3"/><use href="#d" y="206.7"/><use href="#e" y="271.8"/><use href="#b" y="180.2"/><use href="#d" y="256.7"/><use href="#d" y="292.5"/><use href="#a" y="237.1"/><use href="#a" y="205.7"/><use href="#b" y="231.3"/><use href="#e" y="268.7"/><use href="#f" y="212.1"/><use href="#b" y="176.2"/><use href="#d" y="188.8"/><use href="#a" y="284.1"/><use href="#a" y="213.8"/><use href="#d" y="248.5"/><use href="#d" y="302.1"/><use href="#c" y="249.6"/><use href="#b" y="239.1"/><use href="#e" y="279.5"/><use href="#f" y="164.6"/><use href="#a" y="224.0"/><use href="#g" y="286.5"/><use href="#a" y="263.8"/><use href="#a" y="200.9"/><use href="#f" y="239.9"/><use href="#e" y="259.1"/><use href="#c" y="245.3"/><use href="#e" y="183.7"/><use href="#b" y="242.4"/><use href="#c" y="163.4"/><use href="#e" y="199.8"/><use href="#f" y="251.6"/><use href="#d" y="185.4"/><use href="#c" y="240.7"/><use href="#b" y="265.2"/><use href="#a" y="235.5"/><use href="#e" y="190.1"/><use href="#b" y="204.9"/><use href="#g" y="215.3"/><use href="#g" y="296.2"/><use href="#e" y="204.0"/><use href="#c" y="290.3"/><use href="#f" y="194.4"/><use href="#f" y="179.2"/><use href="#e" y="229.4"/><use href="#f" y="178.1"/><use href="#f" y="277.1"/><use href="#c" y="225.0"/><use href="#f" y="222.4"/><use href="#d" y="169.6"/><use href="#d" y="268.8"/><use href="#c" y="212.9"/><use href="#g" y="262.7"/><use href="#a" y="192.0"/><use href="#c" y="260.7"/><use href="#g" y="225.7"/><use href="#g" y="160.7"/><use href="#d" y="202.3"/><use href="#b" y="171.0"/><use href="#e" y="233.7"/><use href="#a" y="244.5"/><use href="#d" y="175.1"/><use href="#g" y="221.9"/><use href="#b" y="233.2"/><use href="#c" y="216.3"/><use href="#d" y="219.7"/><use href="#d" y="187.4"/><use href="#d" y="172.0"/><use href="#g" y="230.7"/><use href="#e" y="246.6"/><use href="#f" y="278.3"/><use href="#b" y="261.1"/><use href="#b" y="218.8"/><use href="#d" y="172.6"/><use href="#e" y="282.6"/><use href="#d" y="214.1"/><use href="#c" y="243.9"/><use href="#c" y="285.0"/><use href="#e" y="273.6"/><use href="#b" y="294.2"/><use href="#c" y="218.3"/><use href="#g" y="227.6"/><use href="#f" y="266.4"/><use href="#b" y="191.4"/><use href="#a" y="210.8"/><use href="#e" y="267.2"/><use href="#d" y="195.1"/><use href="#b" y="191.0"/><use href="#b" y="289.4"/><use href="#c" y="170.2"/><use href="#c" y="299.1"/></g>
<g transform="translate(368.31 0)"><use href="#f" y="169.0"/><use href="#e" y="157.7"/><use href="#f" y="238.6"/><use href="#a" y="246.6"/><use href="#e" y="173.4"/><use href="#f" y="231.7"/><use href="#g" y="187.5"/><use href="#f" y="223.0"/><use href="#b" y="265.3"/><use href="#g" y="280.0"/><use href="#g" y="234.1"/><use href="#d" y="252.4"/><use href="#b" y="254.6"/><use href="#e" y="262.2"/><use href="#b" y="289.7"/><use href="#g" y="268.7"/><use href="#e" y="245.3"/><use href="#e" y="278.5"/><use href="#f" y="282.7"/><use href="#c" y="167.1"/><use href="#b" y="197.0"/><use href="#b" y="225.6"/><use href="#a" y="224.5"/><use href="#a" y="221.2"/><use href="#e" y="211.7"/><use href="#g" y="165.6"/><use href="#b" y="204.0"/><use href="#d" y="159.5"/><use href="#a" y="179.0"/><use href="#c" y="180.5"/><use href="#e" y="217.6"/><use href="#d" y="219.3"/><use href="#f" y="243.3"/><use href="#a" y="294.6"/><use href="#b" y="214.0"/><use href="#a" y="235.5"/><use href="#e" y="158.6"/><use href="#a" y="184.7"/><use href="#f" y="183.4"/><use href="#g" y="254.0"/><use href="#e" y="236.3"/><use href="#a" y="261.2"/><use href="#d" y="255.5"/><use href="#d" y="247.1"/><use href="#a" y="269.6"/><use href="#b" y="257.1"/><use href="#g" y="178.1"/><use href="#d" y="281.3"/><use href="#a" y="245.0"/><use href="#f" y="187.9"/><use href="#e" y="165.1"/><use href="#c" y="240.6"/><use href="#b" y="203.7"/><use href="#b" y="256.5"/><use href="#c" y="230.6"/><use href="#f" y="182.2"/><use href="#d" y="227.7"/><use href="#e" y="260.1"/><use href="#b" y="205.6"/><use href="#c" y="194.2"/><use href="#d" y="242.4"/><use href="#c" y="183.0"/><use href="#d" y="191.5"/><use href="#a" y="160.3"/><use href="#b" y="166.8"/><use href="#a" y="271.6"/><use href="#f" y="226.6"/><use href="#g" y="190.6"/><use href="#b" y="238.0"/><use href="#b" y="199.7"/><use href="#e" y="250.8"/><use href="#g" y="172.0"/><use href="#f" y="270.5"/><use href="#a" y="275.0"/><use href="#c" y="259.0"/><use href="#b" y="174.9"/><use href="#d" y="207.7"/><use href="#a" y="177.6"/><use href="#c" y="210.8"/><use href="#a" y="196.2"/><use href="#a" y="170.0"/><use href="#a" y="284.7"/><use href="#f" y="288.7"/><use href="#b" y="285.8"/><use href="#e" y="266.8"/><use href="#g" y="235.1"/><use href="#d" y="263.1"/><use href="#d" y="267.7"/><use href="#a" y="193.7"/><use href="#d" y="222.5"/><use href="#b" y="176.8"/><use href="#d" y="277.9"/><use href="#e" y="168.8"/><use href="#e" y="248.9"/><use href="#b" y="151.3"/><use href="#g" y="248.4"/><use href="#g" y="190.1"/><use href="#d" y="243.5"/><use href="#e" y="173.5"/><use href="#a" y="212.1"/><use href="#a" y="275.8"/><use href="#g" y="287.8"/><use href="#b" y="153.0"/><use href="#e" y="175.2"/><use href="#a" y="292.0"/><use href="#b" y="186.0"/><use href="#g" y="241.5"/><use href="#a" y="202.2"/><use href="#f" y="161.8"/><use href="#e" y="228.8"/><use href="#c" y="250.1"/><use href="#f" y="296.2"/><use href="#a" y="212.9"/><use href="#d" y="195.8"/><use href="#c" y="233.0"/><use href="#a" y="286.7"/><use href="#f" y="164.0"/><use href="#g" y="155.0"/><use href="#a" y="199.0"/><use href="#e" y="162.6"/><use href="#d" y="229.1"/><use href="#b" y="220.2"/><use href="#g" y="264.6"/><use href="#g" y="185.2"/><use href="#d" y="149.2"/><use href="#c" y="171.3"/><use href="#f" y="200.4"/><use href="#f" y="251.7"/><use href="#e" y="281.0"/><use href="#a" y="180.8"/><use href="#d" y="215.5"/><use href="#e" y="209.7"/><use href="#g" y="188.7"/><use href="#d" y="193.0"/><use href="#e" y="239.6"/><use href="#a" y="206.8"/><use href="#e" y="282.9"/><use href="#e" y="262.9"/><use href="#g" y="257.8"/><use href="#f" y="276.6"/><use href="#e" y="155.8"/><use href="#e" y="198.1"/><use href="#c" y="208.8"/><use href="#c" y="230.9"/><use href="#f" y="205.9"/><use href="#g" y="284.3"/><use href="#b" y="272.9"/><use href="#d" y="201.4"/><use href="#c" y="217.3"/><use href="#e" y="223.7"/><use href="#e" y="218.5"/><use href="#a" y="216.0"/><use href="#f" y="273.6"/><use href="#e" y="274.2"/><use href="#g" y="161.0"/><use href="#c" y="266.1"/></g>
<g transform="translate(382.35 0)"><use href="#a" y="164.6"/><use href="#d" y="184.4"/><use href="#b" y="243.3"/><use href="#g" y="249.2"/><use href="#f" y="257.8"/><use href="#g" y="163.6"/><use href="#g" y="261.7"/><use href="#a" y="160.0"/><use href="#d" y="275.1"/><use href="#e" y="154.5"/><use href="#b" y="152.8"/><use href="#a" y="252.9"/><use href="#a" y="221.4"/><use href="#b" y="290.0"/><use href="#e" y="213.1"/><use href="#e" y="207.5"/><use href="#b" y="188.3"/><use href="#e" y="265.6"/><use href="#d" y="207.3"/><use href="#c" y="174.9"/><use href="#a" y="155.4"/><use href="#g" y="273.1"/><use href="#a" y="211.6"/><use href="#f" y="181.2"/><use href="#d" y="155.6"/><use href="#b" y="215.0"/><use href="#a" y="206.3"/><use href="#c" y="164.3"/><use href="#c" y="279.1"/><use href="#a" y="264.0"/><use href="#g" y="158.8"/><use href="#f" y="250.7"/><use href="#d" y="227.3"/><use href="#f" y="248.3"/><use href="#g" y="238.5"/><use href="#g" y="219.4"/><use href="#f" y="171.1"/><use href="#f" y="170.3"/><use href="#e" y="267.5"/><use href="#b" y="253.1"/><use href="#g" y="262.2"/><use href="#e" y="249.4"/><use href="#b" y="162.0"/><use href="#c" y="202.5"/><use href="#g" y="143.8"/><use href="#e" y="216.5"/><use href="#c" y="258.6"/><use href="#a" y="282.2"/><use href="#b" y="187.4"/><use href="#a" y="184.9"/><use href="#a" y="205.1"/><use href="#d" y="199.7"/><use href="#b" y="217.2"/><use href="#f" y="219.2"/><use href="#d" y="284.1"/><use href="#b" y="247.1"/><use href="#b" y="204.3"/><use href="#f" y="227.9"/><use href="#g" y="156.6"/><use href="#f" y="183.5"/><use href="#f" y="281.1"/><use href="#b" y="173.3"/><use href="#b" y="141.9"/><use href="#c" y="148.3"/><use href="#e" y="240.7"/><use href="#b" y="254.6"/><use href="#c" y="209.1"/><use href="#d" y="160.8"/><use href="#f" y="251.9"/><use href="#g" y="242.1"/><use href="#e" y="190.8"/><use href="#g" y="236.6"/><use href="#g" y="151.1"/><use href="#c" y="214.5"/><use href="#d" y="235.6"/><use href="#a" y="270.7"/><use href="#f" y="147.0"/><use href="#e" y="277.1"/><use href="#g" y="279.5"/><use href="#e" y="175.8"/><use href="#f" y="274.6"/><use href="#d" y="226.4"/><use href="#a" y="256.5"/><use href="#b" y="200.8"/><use href="#f" y="224.6"/><use href="#g" y="173.9"/><use href="#c" y="255.1"/><use href="#c" y="231.4"/><use href="#f" y="179.3"/><use href="#g" y="197.9"/><use href="#e" y="259.9"/><use href="#a" y="169.1"/><use href="#f" y="232.4"/><use href="#e" y="150.6"/><use href="#a" y="272.9"/><use href="#a" y="256.8"/><use href="#d" y="271.7"/><use href="#f" y="177.8"/><use href="#a" y="223.3"/><use href="#c" y="230.4"/><use href="#b" y="139.5"/><use href="#b" y="218.2"/><use href="#g" y="222.0"/><use href="#a" y="180.4"/><use href="#c" y="285.9"/><use href="#b" y="229.8"/><use href="#a" y="193.2"/><use href="#b" y="161.2"/><use href="#c" y="241.5"/><use href="#d" y="186.8"/><use href="#a" y="263.2"/><use href="#a" y="265.9"/><use href="#b" y="275.8"/><use href="#f" y="239.3"/><use href="#c" y="167.4"/><use href="#g" y="195.3"/><use href="#a" y="191.2"/><use href="#d" y="189.3"/><use href="#d" y="185.8"/><use href="#a" y="170.0"/><use href="#b" y="268.8"/><use href="#d" y="157.9"/><use href="#d" y="166.4"/><use href="#e" y="286.8"/><use href="#b" y="282.7"/><use href="#a" y="261.2"/><use href="#e" y="196.0"/><use href="#c" y="178.9"/><use href="#g" y="210.5"/><use href="#b" y="245.0"/><use href="#a" y="270.0"/><use href="#f" y="246.3"/><use href="#c" y="198.6"/><use href="#g" y="197.4"/><use href="#a" y="182.8"/><use href="#c" y="220.4"/><use href="#f" y="228.4"/><use href="#f" y="194.6"/><use href="#d" y="287.7"/><use href="#c" y="210.0"/><use href="#d" y="243.9"/><use href="#a" y="149.8"/><use href="#e" y="192.2"/><use href="#d" y="212.8"/><use href="#a" y="203.5"/><use href="#g" y="238.1"/><use href="#d" y="277.7"/><use href="#d" y="145.5"/><use href="#g" y="233.6"/><use href="#b" y="201.7"/><use href="#a" y="172.2"/><use href="#b" y="152.4"/><use href="#b" y="147.8"/><use href="#a" y="166.2"/><use href="#e" y="236.2"/><use href="#g" y="225.4"/><use href="#f" y="176.9"/><use href="#b" y="268.4"/><use href="#a" y="234.5"/><use href="#g" y="140.9"/></g>
<g transform="translate(396.39 0)"><use href="#e" y="168.4"/><use href="#c" y="255.4"/><use href="#c" y="142.1"/><use href="#f" y="188.6"/><use href="#f" y="189.3"/><use href="#g" y="210.0"/><use href="#f" y="207.1"/><use href="#f" y="182.1"/><use href="#d" y="202.5"/><use href="#e" y="263.4"/><use href="#d" y="205.7"/><use href="#b" y="180.0"/><use href="#e" y="236.6"/><use href="#d" y="266.9"/><use href="#f" y="204.6"/><use href="#a" y="246.4"/><use href="#f" y="183.7"/><use href="#b" y="239.5"/><use href="#a" y="219.3"/><use href="#d" y="272.2"/><use href="#a" y="137.6"/><use href="#e" y="227.5"/><use href="#b" y="234.7"/><use href="#c" y="281.8"/><use href="#g" y="175.4"/><use href="#e" y="163.1"/><use href="#e" y="128.4"/><use href="#b" y="240.3"/><use href="#b" y="199.3"/><use href="#g" y="285.1"/><use href="#b" y="169.3"/><use href="#d" y="214.8"/><use href="#g" y="132.1"/><use href="#f" y="154.6"/><use href="#g" y="232.4"/><use href="#f" y="165.5"/><use href="#g" y="146.5"/><use href="#g" y="181.5"/><use href="#a" y="176.2"/><use href="#e" y="139.1"/><use href="#a" y="196.1"/><use href="#c" y="249.4"/><use href="#d" y="246.5"/><use href="#f" y="245.5"/><use href="#a" y="244.0"/><use href="#c" y="238.6"/><use href="#d" y="197.1"/><use href="#c" y="225.4"/><use href="#g" y="150.7"/><use href="#f" y="265.6"/><use href="#e" y="177.6"/><use href="#f" y="260.6"/><use href="#b" y="229.6"/><use href="#c" y="243.0"/><use href="#e" y="233.7"/><use href="#c" y="215.1"/><use href="#c" y="269.6"/><use href="#g" y="211.6"/><use href="#g" y="269.4"/><use href="#g" y="241.3"/><use href="#d" y="162.1"/><use href="#d" y="242.7"/><use href="#d" y="182.8"/><use href="#a" y="252.1"/><use href="#a" y="186.1"/><use href="#d" y="184.8"/><use href="#c" y="130.4"/><use href="#b" y="256.6"/><use href="#f" y="268.2"/><use href="#f" y="208.5"/><use href="#c" y="253.9"/><use href="#b" y="228.4"/><use href="#d" y="266.7"/><use href="#a" y="164.8"/><use href="#a" y="230.6"/><use href="#e" y="193.8"/><use href="#d" y="191.9"/><use href="#b" y="148.7"/><use href="#e" y="209.0"/><use href="#g" y="133.0"/><use href="#d" y="279.3"/><use href="#a" y="171.4"/><use href="#g" y="278.0"/><use href="#g" y="220.3"/><use href="#e" y="193.2"/><use href="#d" y="172.0"/><use href="#d" y="198.0"/><use href="#e" y="259.2"/><use href="#e" y="134.8"/><use href="#b" y="147.8"/><use href="#d" y="150.3"/><use href="#a" y="190.2"/><use href="#g" y="170.3"/><use href="#c" y="213.0"/><use href="#e" y="194.7"/><use href="#c" y="210.7"/><use href="#a" y="217.4"/><use href="#c" y="233.3"/><use href="#f" y="140.0"/><use href="#a" y="198.9"/><use href="#g" y="187.5"/><use href="#c" y="251.6"/><use href="#b" y="203.6"/><use href="#g" y="143.5"/><use href="#c" y="155.0"/><use href="#f" y="173.4"/><use href="#g" y="271.3"/><use href="#g" y="282.8"/><use href="#c" y="158.2"/><use href="#g" y="261.8"/><use href="#a" y="224.1"/><use href="#b" y="256.4"/><use href="#a" y="262.6"/><use href="#c" y="153.9"/><use href="#f" y="167.5"/><use href="#f" y="206.3"/><use href="#c" y="172.5"/><use href="#c" y="248.4"/><use href="#g" y="164.1"/><use href="#f" y="274.0"/><use href="#a" y="276.0"/><use href="#d" y="250.1"/><use href="#f" y="179.8"/><use href="#g" y="160.0"/><use href="#g" y="247.8"/><use href="#c" y="200.8"/><use href="#g" y="260.0"/><use href="#b" y="140.7"/><use href="#b" y="137.2"/><use href="#d" y="144.7"/><use href="#f" y="174.6"/><use href="#g" y="222.7"/><use href="#g" y="274.9"/><use href="#a" y="156.2"/><use href="#e" y="279.8"/><use href="#g" y="257.9"/><use href="#a" y="231.6"/><use href="#f" y="213.7"/><use href="#g" y="151.7"/><use href="#g" y="264.8"/><use href="#e" y="218.2"/><use href="#b" y="152.9"/><use href="#b" y="145.1"/><use href="#d" y="191.1"/><use href="#g" y="226.9"/><use href="#e" y="157.3"/><use href="#c" y="235.4"/><use href="#d" y="272.7"/><use href="#f" y="276.3"/><use href="#f" y="201.5"/><use href="#c" y="237.9"/><use href="#f" y="141.9"/><use href="#c" y="253.5"/><use href="#a" y="135.5"/><use href="#a" y="216.3"/><use href="#a" y="221.2"/><use href="#a" y="178.4"/><use href="#a" y="224.3"/><use href="#g" y="159.2"/><use href="#g" y="166.1"/><use href="#b" y="161.0"/><use href="#b" y="222.2"/><use href="#a" y="146.7"/><use href="#c" y="186.5"/></g>
<g transform="translate(410.44 0)"><use href="#e" y="162.5"/><use href="#d" y="273.2"/><use href="#c" y="223.3"/><use href="#a" y="225.2"/><use href="#e" y="232.7"/><use href="#g" y="127.9"/><use href="#d" y="193.2"/><use href="#b" y="206.3"/><use href="#e" y="148.8"/><use href="#c" y="200.5"/><use href="#f" y="261.8"/><use href="#b" y="203.3"/><use href="#a" y="149.3"/><use href="#g" y="167.1"/><use href="#g" y="251.6"/><use href="#f" y="267.0"/><use href="#e" y="131.9"/><use href="#b" y="174.2"/><use href="#c" y="138.0"/><use href="#c" y="178.4"/><use href="#e" y="275.8"/><use href="#g" y="211.5"/><use href="#a" y="135.0"/><use href="#a" y="238.8"/><use href="#a" y="252.1"/><use href="#f" y="145.3"/><use href="#f" y="126.8"/><use href="#a" y="176.8"/><use href="#c" y="172.7"/><use href="#b" y="136.6"/><use href="#c" y="271.4"/><use href="#g" y="133.2"/><use href="#c" y="199.6"/><use href="#e" y="230.8"/><use href="#d" y="277.0"/><use href="#f" y="139.7"/><use href="#c" y="235.4"/><use href="#f" y="177.9"/><use href="#f" y="132.5"/><use href="#e" y="247.8"/><use href="#g" y="253.9"/><use href="#c" y="213.6"/><use href="#g" y="245.2"/><use href="#b" y="191.1"/><use href="#d" y="216.7"/><use href="#g" y="250.7"/><use href="#e" y="205.7"/><use href="#c" y="134.1"/><use href="#e" y="269.3"/><use href="#b" y="121.6"/><use href="#g" y="171.1"/><use href="#f" y="240.9"/><use href="#d" y="270.0"/><use href="#b" y="140.7"/><use href="#c" y="167.7"/><use href="#e" y="203.5"/><use href="#e" y="229.6"/><use href="#d" y="139.3"/><use href="#a" y="229.1"/><use href="#a" y="129.4"/><use href="#g" y="208.4"/><use href="#a" y="192.9"/><use href="#f" y="261.3"/><use href="#g" y="240.4"/><use href="#a" y="215.2"/><use href="#c" y="197.5"/><use href="#e" y="277.6"/><use href="#g" y="215.9"/><use href="#c" y="190.0"/><use href="#b" y="198.3"/><use href="#d" y="157.5"/><use href="#c" y="194.5"/><use href="#b" y="171.9"/><use href="#e" y="155.0"/><use href="#g" y="141.6"/><use href="#f" y="217.7"/><use href="#f" y="155.6"/><use href="#d" y="222.8"/><use href="#a" y="242.7"/><use href="#f" y="214.0"/><use href="#a" y="181.3"/><use href="#a" y="227.0"/><use href="#b" y="159.8"/><use href="#c" y="123.4"/><use href="#f" y="258.7"/><use href="#a" y="263.7"/><use href="#c" y="259.8"/><use href="#c" y="186.1"/><use href="#d" y="232.0"/><use href="#g" y="254.2"/><use href="#e" y="142.5"/><use href="#f" y="156.8"/><use href="#e" y="220.3"/><use href="#g" y="218.8"/><use href="#d" y="161.0"/><use href="#c" y="236.2"/><use href="#b" y="196.0"/><use href="#e" y="201.9"/><use href="#c" y="264.5"/><use href="#c" y="170.0"/><use href="#f" y="130.6"/><use href="#a" y="227.7"/><use href="#d" y="180.7"/><use href="#g" y="121.3"/><use href="#d" y="183.6"/><use href="#c" y="145.0"/><use href="#e" y="161.8"/><use href="#b" y="239.2"/><use href="#d" y="150.9"/><use href="#d" y="212.1"/><use href="#g" y="187.3"/><use href="#e" y="265.6"/><use href="#g" y="249.5"/><use href="#e" y="169.2"/><use href="#b" y="187.6"/><use href="#d" y="188.6"/><use href="#g" y="164.0"/><use href="#d" y="174.5"/><use href="#c" y="233.6"/><use href="#e" y="246.9"/><use href="#b" y="237.1"/><use href="#d" y="234.8"/><use href="#a" y="150.6"/><use href="#f" y="272.1"/><use href="#g" y="179.1"/><use href="#f" y="249.0"/><use href="#a" y="268.1"/><use href="#f" y="219.3"/><use href="#c" y="163.3"/><use href="#e" y="267.9"/><use href="#d" y="114.0"/><use href="#b" y="152.1"/><use href="#f" y="256.6"/><use href="#e" y="143.5"/><use href="#d" y="184.7"/><use href="#d" y="183.9"/><use href="#a" y="209.0"/><use href="#c" y="191.2"/><use href="#e" y="207.6"/><use href="#b" y="182.0"/><use href="#b" y="124.6"/><use href="#b" y="221.7"/><use href="#d" y="129.1"/><use href="#a" y="255.0"/><use href="#e" y="154.5"/><use href="#a" y="241.9"/><use href="#g" y="226.4"/><use href="#f" y="224.5"/><use href="#b" y="210.8"/><use href="#f" y="119.6"/><use href="#f" y="165.3"/><use href="#a" y="175.9"/><use href="#a" y="244.5"/><use href="#f" y="262.7"/><use href="#g" y="125.6"/><use href="#d" y="258.5"/><use href="#e" y="137.4"/><use href="#b" y="159.3"/><use href="#e" y="166.7"/><use href="#d" y="205.2"/><use href="#c" y="195.6"/><use href="#e" y="281.2"/><use href="#a" y="153.6"/><use href="#f" y="245.7"/><use href="#a" y="198.9"/><use href="#f" y="146.2"/><use href="#f" y="147.1"/><use href="#e" y="257.5"/></g>
<g transform="translate(424.49 0)"><use href="#f" y="202.3"/><use href="#b" y="253.4"/><use href="#b" y="237.2"/><use href="#e" y="200.0"/><use href="#c" y="244.2"/><use href="#d" y="103.4"/><use href="#c" y="197.0"/><use href="#c" y="193.9"/><use href="#d" y="261.7"/><use href="#a" y="218.8"/><use href="#a" y="278.4"/><use href="#c" y="180.6"/><use href="#g" y="152.9"/><use href="#e" y="233.7"/><use href="#a" y="210.3"/><use href="#e" y="151.4"/><use href="#d" y="211.1"/><use href="#c" y="192.5"/><use href="#b" y="204.7"/><use href="#e" y="185.5"/><use href="#e" y="130.8"/><use href="#a" y="235.2"/><use href="#a" y="239.7"/><use href="#g" y="208.4"/><use href="#c" y="169.6"/><use href="#g" y="260.4"/><use href="#b" y="173.8"/><use href="#e" y="250.3"/><use href="#d" y="165.1"/><use href="#b" y="116.9"/><use href="#c" y="163.1"/><use href="#a" y="127.6"/><use href="#g" y="268.6"/><use href="#g" y="121.3"/><use href="#b" y="225.1"/><use href="#e" y="135.5"/><use href="#g" y="180.0"/><use href="#g" y="266.3"/><use href="#g" y="165.9"/><use href="#b" y="143.3"/><use href="#g" y="215.8"/><use href="#c" y="154.8"/><use href="#b" y="148.1"/><use href="#e" y="160.4"/><use href="#f" y="141.0"/><use href="#d" y="241.4"/><use href="#f" y="258.6"/><use href="#g" y="201.7"/><use href="#d" y="198.2"/><use href="#c" y="203.3"/><use href="#c" y="167.9"/><use href="#d" y="159.2"/><use href="#c" y="244.9"/><use href="#c" y="126.4"/><use href="#g" y="227.2"/><use href="#a" y="242.9"/><use href="#d" y="157.2"/><use href="#e" y="224.7"/><use href="#g" y="192.3"/><use href="#a" y="189.5"/><use href="#a" y="115.4"/><use href="#c" y="206.5"/><use href="#d" y="120.3"/><use href="#c" y="122.3"/><use href="#d" y="159.5"/><use href="#f" y="272.5"/><use href="#e" y="155.9"/><use href="#a" y="249.2"/><use href="#e" y="262.3"/><use href="#d" y="216.6"/><use href="#b" y="208.9"/><use href="#b" y="219.7"/><use href="#g" y="189.7"/><use href="#c" y="256.8"/><use href="#g" y="215.0"/><use href="#g" y="128.4"/><use href="#b" y="257.2"/><use href="#a" y="130.5"/><use href="#d" y="267.2"/><use href="#f" y="112.3"/><use href="#b" y="262.8"/><use href="#g" y="183.3"/><use href="#e" y="223.3"/><use href="#e" y="265.7"/><use href="#d" y="167.4"/><use href="#g" y="211.7"/><use href="#b" y="255.8"/><use href="#d" y="150.5"/><use href="#c" y="111.0"/><use href="#c" y="114.4"/><use href="#a" y="133.3"/><use href="#b" y="107.7"/><use href="#e" y="246.5"/><use href="#b" y="123.9"/><use href="#c" y="252.4"/><use href="#f" y="251.1"/><use href="#c" y="137.0"/><use href="#e" y="124.5"/><use href="#e" y="162.5"/><use href="#c" y="213.6"/><use href="#d" y="251.5"/><use href="#c" y="116.2"/><use href="#e" y="247.6"/><use href="#a" y="231.9"/><use href="#g" y="181.8"/><use href="#a" y="177.2"/><use href="#b" y="229.6"/><use href="#c" y="170.5"/><use href="#g" y="109.2"/><use href="#g" y="147.5"/><use href="#f" y="187.7"/><use href="#b" y="218.0"/><use href="#b" y="186.7"/><use href="#b" y="170.9"/><use href="#b" y="145.7"/><use href="#b" y="172.1"/><use href="#a" y="273.4"/><use href="#b" y="138.1"/><use href="#d" y="207.3"/><use href="#g" y="175.5"/><use href="#c" y="140.3"/><use href="#a" y="233.0"/><use href="#b" y="136.1"/><use href="#c" y="248.2"/><use href="#g" y="164.9"/><use href="#f" y="141.7"/><use href="#g" y="182.8"/><use href="#b" y="225.8"/><use href="#f" y="125.7"/><use href="#b" y="264.4"/><use href="#f" y="205.7"/><use href="#e" y="121.3"/><use href="#b" y="119.2"/><use href="#b" y="177.3"/><use href="#b" y="152.5"/><use href="#c" y="142.4"/><use href="#c" y="118.0"/><use href="#d" y="196.3"/><use href="#b" y="212.5"/><use href="#e" y="198.0"/><use href="#f" y="179.1"/><use href="#f" y="269.5"/><use href="#d" y="129.0"/><use href="#b" y="138.5"/><use href="#c" y="149.2"/><use href="#b" y="228.9"/><use href="#e" y="222.0"/><use href="#g" y="240.2"/><use href="#f" y="242.5"/><use href="#e" y="220.9"/><use href="#c" y="132.1"/><use href="#g" y="190.7"/><use href="#f" y="228.2"/><use href="#b" y="134.3"/><use href="#g" y="154.3"/><use href="#f" y="158.1"/><use href="#f" y="175.1"/><use href="#a" y="194.6"/><use href="#b" y="144.2"/><use href="#e" y="235.7"/><use href="#a" y="184.0"/><use href="#e" y="146.8"/><use href="#f" y="238.8"/><use href="#c" y="161.2"/><use href="#b" y="187.9"/><use href="#c" y="200.9"/><use href="#b" y="172.7"/><use href="#d" y="236.3"/><use href="#c" y="231.4"/><use href="#e" y="254.9"/><use href="#b" y="259.4"/><use href="#b" y="221.6"/></g>
<g transform="translate(438.53 0)"><use href="#a" y="268.8"/><use href="#c" y="201.3"/><use href="#b" y="103.3"/><use href="#a" y="110.8"/><use href="#e" y="164.5"/><use href="#a" y="265.1"/><use href="#b" y="200.0"/><use href="#c" y="237.1"/><use href="#a" y="125.9"/><use href="#g" y="227.8"/><use href="#d" y="106.8"/><use href="#d" y="182.5"/><use href="#b" y="96.6"/><use href="#c" y="114.1"/><use href="#b" y="236.3"/><use href="#a" y="121.7"/><use href="#f" y="228.8"/><use href="#c" y="148.4"/><use href="#e" y="134.9"/><use href="#c" y="168.0"/><use href="#a" y="136.6"/><use href="#b" y="226.4"/><use href="#b" y="154.1"/><use href="#e" y="244.5"/><use href="#b" y="218.5"/><use href="#g" y="203.4"/><use href="#g" y="221.8"/><use href="#c" y="133.1"/><use href="#a" y="233.2"/><use href="#c" y="142.6"/><use href="#f" y="239.8"/><use href="#d" y="155.5"/><use href="#a" y="138.8"/><use href="#d" y="160.7"/><use href="#c" y="150.6"/><use href="#d" y="260.0"/><use href="#f" y="165.5"/><use href="#c" y="244.1"/><use href="#a" y="246.8"/><use href="#b" y="197.9"/><use href="#b" y="256.9"/><use href="#c" y="100.4"/><use href="#b" y="125.4"/><use href="#d" y="209.0"/><use href="#c" y="213.0"/><use href="#a" y="205.7"/><use href="#c" y="180.8"/><use href="#b" y="250.0"/><use href="#d" y="129.6"/><use href="#b" y="220.7"/><use href="#f" y="147.4"/><use href="#b" y="248.7"/><use href="#f" y="112.9"/><use href="#a" y="242.4"/><use href="#f" y="231.0"/><use href="#e" y="258.7"/><use href="#d" y="232.1"/><use href="#g" y="245.3"/><use href="#d" y="142.1"/><use href="#e" y="239.3"/><use href="#b" y="262.6"/><use href="#a" y="191.0"/><use href="#g" y="255.6"/><use href="#c" y="196.5"/><use href="#e" y="185.7"/><use href="#f" y="191.8"/><use href="#b" y="162.9"/><use href="#b" y="97.9"/><use href="#f" y="209.5"/><use href="#g" y="123.9"/><use href="#b" y="178.9"/><use href="#d" y="227.4"/><use href="#e" y="140.4"/><use href="#a" y="194.5"/><use href="#c" y="262.9"/><use href="#g" y="152.5"/><use href="#d" y="257.9"/><use href="#b" y="202.7"/><use href="#f" y="253.0"/><use href="#g" y="255.7"/><use href="#b" y="104.6"/><use href="#g" y="190.0"/><use href="#e" y="216.4"/><use href="#d" y="252.1"/><use href="#b" y="223.2"/><use href="#e" y="204.9"/><use href="#f" y="139.9"/><use href="#b" y="199.4"/><use href="#e" y="120.5"/><use href="#e" y="188.8"/><use href="#b" y="170.5"/><use href="#g" y="173.3"/><use href="#e" y="195.5"/><use href="#d" y="130.5"/><use href="#d" y="136.0"/><use href="#c" y="159.8"/><use href="#e" y="187.8"/><use href="#g" y="172.9"/><use href="#g" y="187.0"/><use href="#b" y="134.1"/><use href="#e" y="253.8"/><use href="#g" y="157.0"/><use href="#g" y="131.3"/><use href="#b" y="116.2"/><use href="#a" y="203.8"/><use href="#g" y="198.8"/><use href="#g" y="241.3"/><use href="#e" y="131.9"/><use href="#e" y="193.7"/><use href="#g" y="145.8"/><use href="#d" y="116.9"/><use href="#f" y="124.8"/><use href="#b" y="159.3"/><use href="#e" y="214.7"/><use href="#a" y="183.3"/><use href="#f" y="267.5"/><use href="#b" y="93.9"/><use href="#e" y="217.3"/><use href="#e" y="222.8"/><use href="#c" y="128.6"/><use href="#g" y="105.1"/><use href="#e" y="211.6"/><use href="#d" y="102.1"/><use href="#f" y="185.0"/><use href="#g" y="151.4"/><use href="#d" y="180.1"/><use href="#d" y="224.5"/><use href="#c" y="126.9"/><use href="#g" y="192.5"/><use href="#g" y="169.4"/><use href="#c" y="112.0"/><use href="#a" y="272.4"/><use href="#f" y="122.4"/><use href="#g" y="184.0"/><use href="#e" y="214.0"/><use href="#f" y="178.4"/><use href="#d" y="106.4"/><use href="#d" y="146.4"/><use href="#e" y="248.9"/><use href="#f" y="156.6"/><use href="#c" y="176.4"/><use href="#a" y="233.7"/><use href="#e" y="108.5"/><use href="#b" y="168.5"/><use href="#c" y="208.0"/><use href="#b" y="211.1"/><use href="#f" y="161.5"/><use href="#a" y="247.3"/><use href="#g" y="143.2"/><use href="#f" y="117.9"/><use href="#b" y="153.0"/><use href="#f" y="109.9"/><use href="#a" y="158.0"/><use href="#a" y="174.2"/><use href="#g" y="230.0"/><use href="#d" y="108.8"/><use href="#e" y="220.1"/><use href="#a" y="215.3"/><use href="#d" y="118.3"/><use href="#b" y="149.8"/><use href="#b" y="240.5"/><use href="#f" y="251.6"/><use href="#b" y="206.9"/><use href="#b" y="235.0"/><use href="#f" y="144.3"/><use href="#f" y="172.0"/><use href="#e" y="177.5"/><use href="#e" y="237.9"/><use href="#d" y="137.7"/><use href="#b" y="166.7"/><use href="#a" y="225.8"/><use href="#b" y="261.3"/><use href="#g" y="114.5"/><use href="#f" y="120.1"/><use href="#g" y="164.2"/><use href="#c" y="175.5"/></g>
<g transform="translate(452.57 0)"><use href="#d" y="157.1"/><use href="#c" y="183.1"/><use href="#c" y="241.0"/><use href="#b" y="205.2"/><use href="#d" y="125.7"/><use href="#a" y="126.2"/><use href="#e" y="233.6"/><use href="#e" y="232.1"/><use href="#f" y="101.4"/><use href="#c" y="257.0"/><use href="#d" y="244.5"/><use href="#b" y="165.0"/><use href="#g" y="209.6"/><use href="#b" y="217.0"/><use href="#d" y="218.3"/><use href="#d" y="175.3"/><use href="#e" y="131.7"/><use href="#d" y="184.8"/><use href="#b" y="93.0"/><use href="#e" y="187.0"/><use href="#b" y="178.2"/><use href="#e" y="223.4"/><use href="#a" y="154.0"/><use href="#c" y="249.8"/><use href="#c" y="258.2"/><use href="#d" y="105.8"/><use href="#a" y="201.1"/><use href="#f" y="91.5"/><use href="#a" y="81.4"/><use href="#f" y="148.7"/><use href="#g" y="235.9"/><use href="#d" y="123.4"/><use href="#d" y="91.1"/><use href="#c" y="252.2"/><use href="#c" y="170.9"/><use href="#b" y="152.9"/><use href="#d" y="188.0"/><use href="#b" y="203.7"/><use href="#f" y="170.3"/><use href="#d" y="132.2"/><use href="#d" y="207.5"/><use href="#a" y="130.7"/><use href="#g" y="136.5"/><use href="#c" y="226.7"/><use href="#a" y="147.2"/><use href="#d" y="156.6"/><use href="#a" y="97.9"/><use href="#c" y="112.5"/><use href="#e" y="237.0"/><use href="#g" y="106.8"/><use href="#b" y="166.9"/><use href="#f" y="139.3"/><use href="#c" y="181.2"/><use href="#g" y="134.9"/><use href="#e" y="196.8"/><use href="#e" y="160.1"/><use href="#e" y="193.7"/><use href="#g" y="121.1"/><use href="#g" y="213.8"/><use href="#g" y="162.5"/><use href="#d" y="161.1"/><use href="#g" y="142.5"/><use href="#e" y="113.6"/><use href="#a" y="221.7"/><use href="#e" y="255.4"/><use href="#e" y="219.6"/><use href="#d" y="177.2"/><use href="#g" y="145.2"/><use href="#c" y="224.9"/><use href="#d" y="143.5"/><use href="#b" y="188.8"/><use href="#c" y="139.6"/><use href="#c" y="242.8"/><use href="#a" y="214.6"/><use href="#e" y="252.7"/><use href="#d" y="168.9"/><use href="#e" y="159.4"/><use href="#g" y="110.8"/><use href="#e" y="98.8"/><use href="#g" y="150.8"/><use href="#d" y="199.0"/><use href="#a" y="143.1"/><use href="#g" y="127.5"/><use href="#a" y="168.2"/><use href="#d" y="200.0"/><use href="#d" y="234.4"/><use href="#c" y="254.5"/><use href="#c" y="141.2"/><use href="#d" y="94.3"/><use href="#b" y="230.5"/><use href="#f" y="138.0"/><use href="#f" y="183.8"/><use href="#a" y="247.1"/><use href="#c" y="227.1"/><use href="#g" y="108.6"/><use href="#f" y="114.8"/><use href="#a" y="216.0"/><use href="#e" y="181.8"/><use href="#c" y="102.7"/><use href="#g" y="191.0"/><use href="#e" y="209.4"/><use href="#d" y="89.4"/><use href="#c" y="120.1"/><use href="#b" y="105.4"/><use href="#f" y="235.3"/><use href="#c" y="164.4"/><use href="#g" y="147.4"/><use href="#g" y="245.6"/><use href="#c" y="205.7"/><use href="#d" y="129.2"/><use href="#f" y="178.9"/><use href="#b" y="176.2"/><use href="#d" y="222.7"/><use href="#g" y="226.0"/><use href="#f" y="248.2"/><use href="#b" y="191.2"/><use href="#f" y="107.6"/><use href="#g" y="97.6"/><use href="#d" y="110.1"/><use href="#g" y="186.2"/><use href="#c" y="149.6"/><use href="#b" y="101.7"/><use href="#g" y="128.7"/><use href="#a" y="217.7"/><use href="#g" y="179.7"/><use href="#b" y="231.1"/><use href="#d" y="204.6"/><use href="#a" y="254.1"/><use href="#c" y="220.4"/><use href="#e" y="248.6"/><use href="#a" y="86.3"/><use href="#f" y="124.9"/><use href="#c" y="121.9"/><use href="#f" y="194.1"/><use href="#c" y="151.8"/><use href="#f" y="137.1"/><use href="#e" y="212.6"/><use href="#b" y="237.8"/><use href="#g" y="241.9"/><use href="#c" y="260.9"/><use href="#f" y="155.9"/><use href="#a" y="166.6"/><use href="#a" y="265.9"/><use href="#b" y="229.3"/><use href="#b" y="211.0"/><use href="#c" y="174.0"/><use href="#a" y="99.9"/><use href="#d" y="250.5"/><use href="#b" y="116.0"/><use href="#e" y="162.9"/><use href="#b" y="195.7"/><use href="#d" y="260.3"/><use href="#b" y="192.8"/><use href="#b" y="158.1"/><use href="#f" y="86.8"/><use href="#a" y="240.0"/><use href="#g" y="122.9"/><use href="#e" y="117.1"/><use href="#a" y="189.7"/><use href="#g" y="262.7"/><use href="#d" y="104.3"/><use href="#c" y="239.3"/><use href="#e" y="208.4"/><use href="#a" y="133.7"/><use href="#f" y="154.2"/><use href="#a" y="245.3"/><use href="#b" y="134.4"/><use href="#f" y="146.1"/><use href="#f" y="198.6"/><use href="#f" y="228.9"/><use href="#a" y="95.9"/><use href="#d" y="211.8"/><use href="#e" y="118.0"/><use href="#d" y="197.3"/><use href="#f" y="202.6"/><use href="#d" y="118.9"/><use href="#g" y="95.7"/><use href="#c" y="111.5"/><use href="#f" y="171.8"/><use href="#f" y="173.3"/></g>
<g transform="translate(466.62 0)"><use href="#b" y="157.7"/><use href="#c" y="100.6"/><use href="#c" y="99.7"/><use href="#f" y="242.4"/><use href="#g" y="197.7"/><use href="#e" y="88.2"/><use href="#c" y="87.2"/><use href="#a" y="85.5"/><use href="#c" y="90.3"/><use href="#e" y="241.6"/><use href="#d" y="137.4"/><use href="#g" y="211.0"/><use href="#d" y="113.7"/><use href="#c" y="261.5"/><use href="#c" y="174.8"/><use href="#f" y="97.7"/><use href="#c" y="198.6"/><use href="#c" y="153.7"/><use href="#d" y="231.4"/><use href="#g" y="176.1"/><use href="#g" y="123.8"/><use href="#g" y="129.4"/><use href="#a" y="236.2"/><use href="#f" y="244.4"/><use href="#f" y="180.5"/><use href="#b" y="94.9"/><use href="#c" y="252.6"/><use href="#d" y="119.9"/><use href="#f" y="165.4"/><use href="#d" y="78.9"/><use href="#g" y="133.1"/><use href="#f" y="89.7"/><use href="#e" y="218.2"/><use href="#e" y="252.8"/><use href="#f" y="221.2"/><use href="#d" y="86.6"/><use href="#c" y="136.1"/><use href="#b" y="233.3"/><use href="#c" y="219.7"/><use href="#g" y="212.4"/><use href="#b" y="81.1"/><use href="#b" y="108.6"/><use href="#a" y="117.1"/><use href="#g" y="151.4"/><use href="#g" y="162.6"/><use href="#e" y="188.0"/><use href="#a" y="173.2"/><use href="#f" y="248.7"/><use href="#e" y="114.9"/><use href="#b" y="222.5"/><use href="#b" y="134.5"/><use href="#g" y="241.2"/><use href="#g" y="80.4"/><use href="#b" y="255.2"/><use href="#e" y="202.3"/><use href="#d" y="84.2"/><use href="#f" y="97.8"/><use href="#d" y="103.6"/><use href="#a" y="183.5"/><use href="#g" y="109.9"/><use href="#b" y="184.3"/><use href="#a" y="230.0"/><use href="#c" y="111.5"/><use href="#a" y="204.5"/><use href="#f" y="83.3"/><use href="#c" y="92.8"/><use href="#a" y="142.2"/><use href="#b" y="138.5"/><use href="#c" y="245.5"/><use href="#d" y="159.3"/><use href="#b" y="201.8"/><use href="#d" y="213.0"/><use href="#a" y="178.0"/><use href="#f" y="94.1"/><use href="#c" y="131.3"/><use href="#c" y="104.6"/><use href="#g" y="101.0"/><use href="#c" y="246.2"/><use href="#e" y="221.7"/><use href="#a" y="147.3"/><use href="#b" y="116.3"/><use href="#b" y="139.9"/><use href="#e" y="146.7"/><use href="#d" y="214.3"/><use href="#f" y="243.5"/><use href="#d" y="118.0"/><use href="#d" y="225.5"/><use href="#a" y="192.0"/><use href="#d" y="122.4"/><use href="#a" y="118.5"/><use href="#g" y="96.4"/><use href="#c" y="247.3"/><use href="#g" y="145.6"/><use href="#g" y="194.2"/><use href="#d" y="205.4"/><use href="#a" y="190.4"/><use href="#f" y="106.0"/><use href="#c" y="223.9"/><use href="#d" y="126.2"/><use href="#f" y="200.2"/><use href="#e" y="227.9"/><use href="#b" y="124.9"/><use href="#f" y="141.4"/><use href="#b" y="157.2"/><use href="#c" y="106.9"/><use href="#b" y="169.1"/><use href="#g" y="154.7"/><use href="#g" y="214.8"/><use href="#c" y="196.1"/><use href="#c" y="160.9"/><use href="#f" y="91.5"/><use href="#e" y="180.1"/><use href="#g" y="144.1"/><use href="#b" y="233.8"/><use href="#a" y="192.7"/><use href="#d" y="181.3"/><use href="#e" y="111.6"/><use href="#g" y="226.1"/><use href="#d" y="193.6"/><use href="#c" y="102.5"/><use href="#a" y="199.6"/><use href="#g" y="128.4"/><use href="#g" y="186.5"/><use href="#a" y="234.6"/><use href="#a" y="149.0"/><use href="#g" y="174.0"/><use href="#g" y="170.0"/><use href="#g" y="215.7"/><use href="#d" y="77.1"/><use href="#e" y="210.3"/><use href="#a" y="171.0"/><use href="#e" y="257.8"/><use href="#e" y="239.8"/><use href="#e" y="130.4"/><use href="#c" y="206.8"/><use href="#b" y="216.9"/><use href="#g" y="92.9"/><use href="#e" y="74.4"/><use href="#b" y="108.0"/><use href="#d" y="237.8"/><use href="#f" y="207.5"/><use href="#a" y="185.5"/><use href="#a" y="127.4"/><use href="#a" y="188.3"/><use href="#b" y="231.2"/><use href="#g" y="136.0"/><use href="#c" y="150.0"/><use href="#e" y="250.3"/><use href="#a" y="228.8"/><use href="#c" y="164.1"/><use href="#a" y="121.5"/><use href="#e" y="168.4"/><use href="#f" y="166.7"/><use href="#g" y="189.8"/><use href="#c" y="162.5"/><use href="#b" y="126.4"/><use href="#e" y="249.3"/><use href="#g" y="156.5"/><use href="#e" y="218.8"/><use href="#a" y="209.7"/><use href="#c" y="203.7"/><use href="#g" y="133.5"/><use href="#f" y="195.2"/><use href="#c" y="255.9"/><use href="#f" y="179.1"/><use href="#a" y="183.0"/><use href="#a" y="81.7"/><use href="#a" y="227.3"/><use href="#a" y="176.9"/><use href="#f" y="143.5"/><use href="#g" y="239.0"/><use href="#f" y="208.2"/><use href="#c" y="160.4"/><use href="#g" y="140.1"/><use href="#g" y="113.0"/><use href="#d" y="120.5"/><use href="#a" y="70.1"/><use href="#g" y="236.4"/><use href="#c" y="148.2"/><use href="#e" y="105.2"/><use href="#a" y="166.5"/><use href="#a" y="171.9"/><use href="#f" y="152.0"/><use href="#d" y="154.4"/></g>
<g transform="translate(480.66 0)"><use href="#g" y="108.7"/><use href="#c" y="86.8"/><use href="#f" y="170.9"/><use href="#e" y="166.6"/><use href="#e" y="148.5"/><use href="#g" y="131.2"/><use href="#c" y="144.1"/><use href="#c" y="97.1"/><use href="#a" y="99.0"/><use href="#b" y="90.8"/><use href="#f" y="168.1"/><use href="#c" y="103.6"/><use href="#d" y="153.0"/><use href="#f" y="150.1"/><use href="#a" y="172.2"/><use href="#c" y="71.5"/><use href="#d" y="75.3"/><use href="#g" y="94.6"/><use href="#d" y="240.7"/><use href="#d" y="203.8"/><use href="#c" y="218.1"/><use href="#e" y="168.9"/><use href="#f" y="206.7"/><use href="#a" y="222.3"/><use href="#f" y="186.7"/><use href="#b" y="192.3"/><use href="#b" y="233.0"/><use href="#d" y="138.9"/><use href="#b" y="237.0"/><use href="#f" y="196.5"/><use href="#g" y="130.4"/><use href="#g" y="244.9"/><use href="#d" y="142.2"/><use href="#g" y="77.3"/><use href="#a" y="151.0"/><use href="#d" y="159.2"/><use href="#f" y="226.9"/><use href="#g" y="88.6"/><use href="#d" y="219.5"/><use href="#b" y="140.1"/><use href="#c" y="115.7"/><use href="#d" y="106.7"/><use href="#a" y="216.3"/><use href="#d" y="178.6"/><use href="#e" y="96.0"/><use href="#a" y="161.9"/><use href="#b" y="134.4"/><use href="#c" y="246.2"/><use href="#e" y="124.3"/><use href="#a" y="190.9"/><use href="#d" y="84.9"/><use href="#a" y="81.2"/><use href="#c" y="227.6"/><use href="#e" y="211.1"/><use href="#c" y="107.0"/><use href="#f" y="175.9"/><use href="#f" y="195.7"/><use href="#e" y="111.6"/><use href="#b" y="162.8"/><use href="#c" y="174.2"/><use href="#c" y="198.7"/><use href="#a" y="225.9"/><use href="#g" y="82.3"/><use href="#e" y="113.7"/><use href="#a" y="144.7"/><use href="#b" y="141.3"/><use href="#b" y="156.6"/><use href="#a" y="183.6"/><use href="#c" y="229.6"/><use href="#e" y="145.9"/><use href="#g" y="87.9"/><use href="#a" y="125.1"/><use href="#c" y="223.4"/><use href="#b" y="57.5"/><use href="#a" y="101.5"/><use href="#c" y="104.7"/><use href="#d" y="218.0"/><use href="#g" y="190.2"/><use href="#a" y="109.4"/><use href="#a" y="146.7"/><use href="#f" y="235.7"/><use href="#c" y="93.6"/><use href="#e" y="221.1"/><use href="#a" y="220.1"/><use href="#f" y="201.1"/><use href="#b" y="119.0"/><use href="#b" y="136.4"/><use href="#e" y="238.5"/><use href="#e" y="255.0"/><use href="#c" y="177.2"/><use href="#g" y="250.8"/><use href="#b" y="117.0"/><use href="#e" y="242.4"/><use href="#f" y="118.2"/><use href="#f" y="102.9"/><use href="#a" y="212.4"/><use href="#d" y="208.8"/><use href="#c" y="114.4"/><use href="#g" y="230.9"/><use href="#g" y="142.9"/><use href="#c" y="126.4"/><use href="#e" y="83.6"/><use href="#f" y="73.0"/><use href="#c" y="160.1"/><use href="#c" y="137.7"/><use href="#g" y="215.8"/><use href="#f" y="129.1"/><use href="#b" y="155.0"/><use href="#c" y="236.0"/><use href="#d" y="74.1"/><use href="#g" y="152.4"/><use href="#a" y="193.9"/><use href="#g" y="210.6"/><use href="#c" y="234.1"/><use href="#a" y="100.3"/><use href="#e" y="177.5"/><use href="#d" y="68.1"/><use href="#g" y="122.3"/><use href="#d" y="243.2"/><use href="#g" y="78.9"/><use href="#d" y="184.5"/><use href="#b" y="91.9"/><use href="#d" y="255.6"/><use href="#f" y="165.3"/><use href="#c" y="112.6"/><use href="#e" y="121.7"/><use href="#a" y="182.9"/><use href="#a" y="161.0"/><use href="#f" y="137.6"/><use href="#c" y="232.8"/><use href="#f" y="185.7"/><use href="#g" y="89.9"/><use href="#a" y="224.2"/><use href="#a" y="241.8"/><use href="#c" y="191.7"/><use href="#f" y="207.8"/><use href="#f" y="79.9"/><use href="#d" y="231.5"/><use href="#g" y="98.9"/><use href="#c" y="127.0"/><use href="#g" y="169.4"/><use href="#f" y="154.0"/><use href="#a" y="180.2"/><use href="#b" y="96.0"/><use href="#f" y="163.9"/><use href="#b" y="92.1"/><use href="#d" y="201.9"/><use href="#b" y="195.1"/><use href="#e" y="165.6"/><use href="#a" y="74.8"/><use href="#g" y="209.1"/><use href="#b" y="123.6"/><use href="#e" y="67.1"/><use href="#c" y="77.1"/><use href="#d" y="134.8"/><use href="#d" y="174.9"/><use href="#e" y="228.5"/><use href="#e" y="105.2"/><use href="#a" y="85.8"/><use href="#c" y="156.1"/><use href="#b" y="158.1"/><use href="#a" y="198.0"/><use href="#d" y="181.0"/><use href="#a" y="62.6"/><use href="#d" y="199.6"/><use href="#g" y="249.6"/><use href="#b" y="133.4"/><use href="#b" y="247.1"/><use href="#g" y="214.7"/><use href="#g" y="116.4"/><use href="#c" y="202.6"/><use href="#d" y="248.3"/><use href="#b" y="204.5"/><use href="#g" y="70.3"/><use href="#c" y="206.0"/><use href="#g" y="110.8"/><use href="#a" y="131.9"/><use href="#d" y="182.1"/><use href="#g" y="120.0"/><use href="#a" y="187.8"/><use href="#e" y="128.3"/><use href="#a" y="188.7"/><use href="#d" y="172.9"/><use href="#f" y="213.8"/><use href="#e" y="80.3"/><use href="#b" y="65.2"/><use href="#b" y="239.2"/><use href="#a" y="149.5"/></g>
<g transform="translate(494.71 0)"><use href="#d" y="226.1"/><use href="#d" y="89.4"/><use href="#c" y="118.3"/><use href="#b" y="119.4"/><use href="#d" y="213.9"/><use href="#a" y="238.0"/><use href="#a" y="113.9"/><use href="#e" y="150.2"/><use href="#d" y="121.1"/><use href="#f" y="78.9"/><use href="#d" y="81.9"/><use href="#d" y="173.0"/><use href="#d" y="82.8"/><use href="#g" y="231.5"/><use href="#b" y="136.0"/><use href="#e" y="109.2"/><use href="#g" y="204.8"/><use href="#c" y="215.6"/><use href="#c" y="153.9"/><use href="#b" y="205.7"/><use href="#a" y="147.9"/><use href="#d" y="228.4"/><use href="#f" y="179.0"/><use href="#c" y="150.5"/><use href="#g" y="194.5"/><use href="#b" y="127.0"/><use href="#f" y="180.5"/><use href="#g" y="95.2"/><use href="#e" y="195.4"/><use href="#f" y="126.3"/><use href="#c" y="133.4"/><use href="#d" y="140.2"/><use href="#a" y="235.0"/><use href="#f" y="96.1"/><use href="#g" y="176.7"/><use href="#b" y="172.0"/><use href="#g" y="182.8"/><use href="#g" y="204.2"/><use href="#e" y="100.5"/><use href="#e" y="170.9"/><use href="#g" y="85.8"/><use href="#f" y="228.7"/><use href="#g" y="76.6"/><use href="#c" y="161.3"/><use href="#d" y="73.1"/><use href="#b" y="70.4"/><use href="#c" y="107.9"/><use href="#e" y="219.1"/><use href="#a" y="160.4"/><use href="#f" y="83.5"/><use href="#g" y="151.9"/><use href="#f" y="125.0"/><use href="#c" y="78.0"/><use href="#a" y="221.3"/><use href="#e" y="213.1"/><use href="#e" y="170.1"/><use href="#a" y="165.3"/><use href="#c" y="189.8"/><use href="#c" y="141.5"/><use href="#b" y="157.4"/><use href="#g" y="101.8"/><use href="#e" y="81.1"/><use href="#g" y="142.6"/><use href="#f" y="166.3"/><use href="#c" y="175.2"/><use href="#e" y="157.6"/><use href="#g" y="100.0"/><use href="#d" y="105.8"/><use href="#a" y="56.7"/><use href="#f" y="198.5"/><use href="#a" y="128.7"/><use href="#g" y="67.0"/><use href="#a" y="177.6"/><use href="#d" y="198.9"/><use href="#f" y="169.3"/><use href="#a" y="203.6"/><use href="#b" y="147.1"/><use href="#b" y="247.1"/><use href="#b" y="98.7"/><use href="#d" y="69.1"/><use href="#a" y="211.8"/><use href="#a" y="111.0"/><use href="#b" y="62.5"/><use href="#c" y="218.3"/><use href="#b" y="63.6"/><use href="#g" y="75.7"/><use href="#g" y="154.9"/><use href="#b" y="197.4"/><use href="#f" y="84.9"/><use href="#g" y="163.2"/><use href="#f" y="132.3"/><use href="#a" y="174.2"/><use href="#b" y="90.3"/><use href="#b" y="243.0"/><use href="#f" y="236.3"/><use href="#e" y="188.3"/><use href="#a" y="223.1"/><use href="#e" y="46.7"/><use href="#c" y="202.3"/><use href="#d" y="148.8"/><use href="#b" y="201.0"/><use href="#c" y="187.3"/><use href="#d" y="131.0"/><use href="#g" y="117.4"/><use href="#a" y="224.0"/><use href="#e" y="91.5"/><use href="#c" y="80.0"/><use href="#a" y="88.2"/><use href="#a" y="208.3"/><use href="#e" y="58.1"/><use href="#d" y="229.7"/><use href="#c" y="75.1"/><use href="#f" y="192.8"/><use href="#c" y="143.8"/><use href="#a" y="64.8"/><use href="#f" y="109.9"/><use href="#d" y="210.6"/><use href="#b" y="103.4"/><use href="#a" y="190.6"/><use href="#f" y="59.3"/><use href="#e" y="89.0"/><use href="#a" y="71.8"/><use href="#d" y="124.2"/><use href="#f" y="113.2"/><use href="#a" y="121.5"/><use href="#c" y="236.7"/><use href="#f" y="97.2"/><use href="#d" y="123.2"/><use href="#b" y="60.5"/><use href="#e" y="189.1"/><use href="#d" y="185.1"/><use href="#g" y="132.8"/><use href="#b" y="155.8"/><use href="#a" y="134.6"/><use href="#e" y="192.3"/><use href="#c" y="54.3"/><use href="#c" y="240.9"/><use href="#c" y="118.8"/><use href="#b" y="166.6"/><use href="#e" y="210.8"/><use href="#b" y="234.1"/><use href="#f" y="86.8"/><use href="#g" y="144.7"/><use href="#a" y="164.0"/><use href="#c" y="239.4"/><use href="#a" y="184.4"/><use href="#b" y="140.7"/><use href="#a" y="249.3"/><use href="#g" y="159.0"/><use href="#c" y="67.7"/><use href="#b" y="200.2"/><use href="#e" y="181.7"/><use href="#d" y="253.1"/><use href="#b" y="106.6"/><use href="#d" y="61.5"/><use href="#f" y="51.5"/><use href="#e" y="69.8"/><use href="#f" y="65.5"/><use href="#c" y="232.3"/><use href="#e" y="215.7"/><use href="#a" y="220.2"/><use href="#d" y="244.6"/><use href="#e" y="105.2"/><use href="#c" y="93.5"/><use href="#d" y="186.3"/><use href="#g" y="209.0"/><use href="#c" y="92.4"/><use href="#e" y="161.6"/><use href="#g" y="145.8"/><use href="#c" y="103.0"/><use href="#a" y="73.4"/><use href="#b" y="138.8"/><use href="#b" y="181.2"/><use href="#a" y="168.0"/><use href="#d" y="207.3"/><use href="#c" y="216.7"/><use href="#e" y="98.1"/><use href="#e" y="130.3"/><use href="#d" y="111.5"/><use href="#d" y="233.3"/><use href="#e" y="136.5"/><use href="#f" y="116.2"/><use href="#a" y="222.5"/><use href="#d" y="226.7"/><use href="#b" y="176.1"/><use href="#d" y="196.5"/><use href="#g" y="114.5"/><use href="#f" y="225.6"/><use href="#f" y="242.1"/><use href="#g" y="128.1"/><use href="#c" y="152.9"/><use href="#e" y="137.8"/></g>
<g transform="translate(508.75 0)"><use href="#c" y="118.6"/><use href="#d" y="146.3"/><use href="#e" y="96.5"/><use href="#g" y="159.6"/><use href="#a" y="189.3"/><use href="#g" y="196.9"/><use href="#b" y="173.1"/><use href="#e" y="170.9"/><use href="#a" y="101.3"/><use href="#f" y="89.3"/><use href="#d" y="111.2"/><use href="#a" y="221.3"/><use href="#e" y="84.1"/><use href="#b" y="195.0"/><use href="#g" y="122.8"/><use href="#b" y="219.9"/><use href="#a" y="188.8"/><use href="#g" y="58.7"/><use href="#e" y="55.1"/><use href="#b" y="224.9"/><use href="#b" y="117.0"/><use href="#e" y="176.1"/><use href="#g" y="113.3"/><use href="#d" y="93.7"/><use href="#d" y="183.0"/><use href="#b" y="186.9"/><use href="#b" y="136.5"/><use href="#b" y="126.1"/><use href="#d" y="166.4"/><use href="#c" y="61.8"/><use href="#b" y="230.3"/><use href="#c" y="69.0"/><use href="#d" y="157.9"/><use href="#a" y="88.7"/><use href="#c" y="159.8"/><use href="#a" y="95.4"/><use href="#a" y="104.3"/><use href="#d" y="214.4"/><use href="#b" y="145.4"/><use href="#d" y="42.7"/><use href="#c" y="78.7"/><use href="#g" y="213.1"/><use href="#b" y="142.4"/><use href="#a" y="179.1"/><use href="#a" y="192.0"/><use href="#d" y="67.6"/><use href="#f" y="177.8"/><use href="#b" y="206.5"/><use href="#b" y="103.0"/><use href="#b" y="199.3"/><use href="#c" y="173.8"/><use href="#a" y="217.6"/><use href="#g" y="236.2"/><use href="#a" y="129.4"/><use href="#c" y="163.7"/><use href="#d" y="155.8"/><use href="#d" y="117.3"/><use href="#b" y="172.4"/><use href="#b" y="47.3"/><use href="#e" y="170.0"/><use href="#f" y="110.3"/><use href="#c" y="96.9"/><use href="#d" y="124.0"/><use href="#e" y="167.9"/><use href="#b" y="135.8"/><use href="#a" y="72.6"/><use href="#g" y="204.5"/><use href="#b" y="201.8"/><use href="#f" y="131.0"/><use href="#f" y="247.7"/><use href="#d" y="211.9"/><use href="#c" y="127.2"/><use href="#g" y="56.5"/><use href="#a" y="81.2"/><use href="#a" y="175.2"/><use href="#e" y="243.4"/><use href="#c" y="198.1"/><use href="#b" y="51.9"/><use href="#f" y="112.9"/><use href="#c" y="81.8"/><use href="#d" y="187.4"/><use href="#e" y="114.9"/><use href="#b" y="226.5"/><use href="#b" y="223.8"/><use href="#b" y="76.8"/><use href="#e" y="105.0"/><use href="#g" y="163.0"/><use href="#d" y="73.9"/><use href="#a" y="216.2"/><use href="#a" y="82.9"/><use href="#a" y="91.0"/><use href="#b" y="90.6"/><use href="#g" y="109.3"/><use href="#d" y="153.8"/><use href="#f" y="202.3"/><use href="#d" y="169.4"/><use href="#b" y="53.6"/><use href="#c" y="62.6"/><use href="#d" y="235.9"/><use href="#e" y="102.0"/><use href="#b" y="94.6"/><use href="#c" y="75.3"/><use href="#b" y="138.3"/><use href="#b" y="228.3"/><use href="#e" y="149.7"/><use href="#g" y="197.9"/><use href="#e" y="242.1"/><use href="#b" y="221.8"/><use href="#d" y="128.3"/><use href="#b" y="58.5"/><use href="#d" y="142.8"/><use href="#g" y="138.9"/><use href="#b" y="120.0"/><use href="#a" y="59.5"/><use href="#b" y="132.2"/><use href="#e" y="193.6"/><use href="#d" y="210.6"/><use href="#b" y="182.5"/><use href="#c" y="69.7"/><use href="#g" y="237.5"/><use href="#d" y="185.5"/><use href="#e" y="53.0"/><use href="#b" y="107.7"/><use href="#d" y="87.5"/><use href="#b" y="80.1"/><use href="#a" y="106.1"/><use href="#d" y="217.3"/><use href="#d" y="180.4"/><use href="#e" y="64.7"/><use href="#g" y="148.4"/><use href="#b" y="149.1"/><use href="#e" y="230.6"/><use href="#b" y="164.8"/><use href="#d" y="181.8"/><use href="#f" y="151.4"/><use href="#e" y="161.7"/><use href="#a" y="152.3"/><use href="#g" y="222.4"/><use href="#b" y="192.2"/><use href="#c" y="203.3"/><use href="#g" y="132.3"/><use href="#a" y="116.1"/><use href="#f" y="78.5"/><use href="#c" y="184.5"/><use href="#b" y="70.6"/><use href="#e" y="120.9"/><use href="#c" y="152.6"/><use href="#a" y="144.4"/><use href="#b" y="56.3"/><use href="#d" y="63.6"/><use href="#g" y="167.1"/><use href="#f" y="140.6"/><use href="#c" y="76.5"/><use href="#f" y="234.5"/><use href="#a" y="209.0"/><use href="#a" y="61.0"/><use href="#b" y="92.8"/><use href="#c" y="50.3"/><use href="#d" y="98.4"/><use href="#d" y="86.7"/><use href="#d" y="205.5"/><use href="#d" y="135.1"/><use href="#b" y="99.3"/><use href="#c" y="214.1"/><use href="#f" y="200.2"/><use href="#d" y="233.2"/><use href="#e" y="190.3"/><use href="#d" y="207.3"/><use href="#d" y="218.4"/><use href="#c" y="48.5"/><use href="#a" y="209.5"/><use href="#f" y="108.8"/><use href="#d" y="147.5"/><use href="#e" y="133.4"/><use href="#f" y="73.4"/><use href="#a" y="178.4"/><use href="#a" y="66.5"/><use href="#a" y="154.6"/><use href="#c" y="225.8"/><use href="#a" y="139.8"/><use href="#b" y="240.4"/><use href="#a" y="194.7"/><use href="#a" y="231.7"/><use href="#e" y="100.3"/><use href="#a" y="121.7"/><use href="#d" y="67.0"/><use href="#d" y="161.3"/><use href="#e" y="157.2"/><use href="#b" y="124.9"/><use href="#f" y="229.1"/><use href="#e" y="50.0"/><use href="#g" y="84.9"/><use href="#a" y="44.6"/><use href="#a" y="128.2"/></g>
<g transform="translate(522.80 0)"><use href="#d" y="119.2"/><use href="#e" y="167.8"/><use href="#g" y="116.4"/><use href="#d" y="92.6"/><use href="#a" y="50.5"/><use href="#a" y="124.6"/><use href="#g" y="185.9"/><use href="#d" y="192.4"/><use href="#g" y="97.2"/><use href="#e" y="72.2"/><use href="#b" y="92.2"/><use href="#b" y="152.4"/><use href="#a" y="156.4"/><use href="#a" y="33.1"/><use href="#b" y="47.1"/><use href="#f" y="113.2"/><use href="#a" y="115.8"/><use href="#a" y="70.0"/><use href="#g" y="196.2"/><use href="#g" y="168.9"/><use href="#d" y="231.4"/><use href="#c" y="132.1"/><use href="#g" y="105.6"/><use href="#a" y="185.0"/><use href="#a" y="45.8"/><use href="#c" y="99.6"/><use href="#a" y="151.2"/><use href="#e" y="138.4"/><use href="#b" y="228.9"/><use href="#f" y="58.5"/><use href="#c" y="144.9"/><use href="#d" y="103.3"/><use href="#f" y="70.2"/><use href="#f" y="67.6"/><use href="#g" y="189.1"/><use href="#c" y="85.2"/><use href="#g" y="140.3"/><use href="#f" y="96.0"/><use href="#f" y="180.7"/><use href="#g" y="35.0"/><use href="#g" y="159.2"/><use href="#c" y="215.0"/><use href="#c" y="122.9"/><use href="#g" y="176.8"/><use href="#b" y="235.3"/><use href="#g" y="59.1"/><use href="#g" y="163.8"/><use href="#e" y="188.1"/><use href="#e" y="109.3"/><use href="#c" y="138.9"/><use href="#e" y="42.5"/><use href="#a" y="226.1"/><use href="#d" y="146.2"/><use href="#d" y="133.5"/><use href="#a" y="48.8"/><use href="#b" y="98.5"/><use href="#f" y="131.3"/><use href="#f" y="217.0"/><use href="#d" y="213.0"/><use href="#e" y="108.6"/><use href="#f" y="207.6"/><use href="#d" y="51.7"/><use href="#e" y="94.5"/><use href="#c" y="178.1"/><use href="#b" y="30.3"/><use href="#b" y="187.2"/><use href="#g" y="203.4"/><use href="#d" y="65.9"/><use href="#d" y="155.5"/><use href="#a" y="128.9"/><use href="#f" y="166.6"/><use href="#a" y="126.2"/><use href="#e" y="68.3"/><use href="#c" y="51.8"/><use href="#a" y="221.0"/><use href="#d" y="54.6"/><use href="#b" y="161.5"/><use href="#e" y="158.9"/><use href="#b" y="55.1"/><use href="#a" y="171.5"/><use href="#a" y="189.7"/><use href="#d" y="129.4"/><use href="#d" y="53.4"/><use href="#a" y="210.5"/><use href="#a" y="77.0"/><use href="#e" y="202.2"/><use href="#e" y="170.5"/><use href="#b" y="215.3"/><use href="#b" y="101.3"/><use href="#f" y="147.4"/><use href="#g" y="206.3"/><use href="#b" y="57.8"/><use href="#c" y="33.3"/><use href="#c" y="41.0"/><use href="#a" y="101.8"/><use href="#a" y="227.1"/><use href="#g" y="205.7"/><use href="#d" y="244.4"/><use href="#f" y="211.7"/><use href="#c" y="44.8"/><use href="#c" y="222.6"/><use href="#e" y="197.2"/><use href="#b" y="79.3"/><use href="#a" y="233.6"/><use href="#b" y="40.4"/><use href="#f" y="112.9"/><use href="#d" y="75.7"/><use href="#b" y="133.1"/><use href="#f" y="84.1"/><use href="#f" y="60.4"/><use href="#c" y="164.1"/><use href="#d" y="148.9"/><use href="#e" y="79.9"/><use href="#d" y="48.1"/><use href="#b" y="212.2"/><use href="#d" y="160.1"/><use href="#b" y="182.1"/><use href="#g" y="137.1"/><use href="#d" y="153.7"/><use href="#b" y="184.3"/><use href="#a" y="121.6"/><use href="#g" y="198.5"/><use href="#d" y="201.6"/><use href="#e" y="208.8"/><use href="#g" y="157.3"/><use href="#g" y="64.2"/><use href="#d" y="192.8"/><use href="#a" y="107.4"/><use href="#g" y="95.3"/><use href="#c" y="195.5"/><use href="#b" y="237.0"/><use href="#f" y="204.4"/><use href="#c" y="118.7"/><use href="#f" y="221.3"/><use href="#d" y="239.1"/><use href="#e" y="182.8"/><use href="#c" y="86.1"/><use href="#e" y="91.4"/><use href="#g" y="120.5"/><use href="#c" y="166.0"/><use href="#d" y="229.8"/><use href="#d" y="209.9"/><use href="#f" y="38.6"/><use href="#b" y="77.9"/><use href="#c" y="83.3"/><use href="#a" y="80.4"/><use href="#c" y="62.2"/><use href="#e" y="224.2"/><use href="#f" y="172.9"/><use href="#d" y="90.5"/><use href="#b" y="61.2"/><use href="#a" y="73.3"/><use href="#f" y="174.0"/><use href="#a" y="63.4"/><use href="#c" y="114.9"/><use href="#a" y="135.9"/><use href="#g" y="142.7"/><use href="#f" y="162.3"/><use href="#d" y="154.1"/><use href="#a" y="191.2"/><use href="#b" y="141.4"/><use href="#c" y="225.0"/><use href="#a" y="218.6"/><use href="#f" y="66.3"/><use href="#c" y="148.1"/><use href="#b" y="174.9"/><use href="#e" y="43.1"/><use href="#c" y="89.0"/><use href="#e" y="150.6"/><use href="#a" y="128.0"/><use href="#g" y="100.1"/><use href="#f" y="81.6"/><use href="#b" y="218.0"/><use href="#c" y="87.1"/><use href="#c" y="71.3"/><use href="#b" y="220.1"/><use href="#g" y="118.0"/><use href="#c" y="37.8"/><use href="#d" y="106.1"/><use href="#d" y="56.7"/><use href="#b" y="104.1"/><use href="#e" y="175.3"/><use href="#d" y="127.2"/><use href="#e" y="228.2"/><use href="#a" y="110.4"/><use href="#b" y="144.5"/><use href="#f" y="135.0"/><use href="#e" y="178.7"/><use href="#c" y="194.1"/><use href="#b" y="142.5"/><use href="#e" y="200.4"/><use href="#e" y="87.5"/><use href="#c" y="179.7"/><use href="#a" y="199.6"/><use href="#e" y="123.5"/><use href="#b" y="75.1"/><use href="#d" y="170.0"/><use href="#c" y="111.0"/><use href="#c" y="44.1"/></g>
<g transform="translate(536.85 0)"><use href="#c" y="163.3"/><use href="#g" y="139.5"/><use href="#e" y="57.5"/><use href="#g" y="121.8"/><use href="#e" y="95.6"/><use href="#c" y="127.6"/><use href="#e" y="64.4"/><use href="#f" y="133.7"/><use href="#a" y="229.5"/><use href="#b" y="209.7"/><use href="#g" y="157.1"/><use href="#b" y="142.1"/><use href="#d" y="200.3"/><use href="#c" y="144.2"/><use href="#c" y="187.1"/><use href="#g" y="209.8"/><use href="#g" y="111.3"/><use href="#g" y="98.0"/><use href="#d" y="208.0"/><use href="#c" y="80.7"/><use href="#g" y="204.0"/><use href="#c" y="78.3"/><use href="#g" y="220.7"/><use href="#c" y="202.8"/><use href="#d" y="197.7"/><use href="#g" y="184.2"/><use href="#g" y="189.7"/><use href="#g" y="107.3"/><use href="#e" y="33.7"/><use href="#e" y="176.0"/><use href="#a" y="80.0"/><use href="#a" y="51.9"/><use href="#a" y="72.5"/><use href="#e" y="88.8"/><use href="#d" y="135.8"/><use href="#b" y="218.7"/><use href="#b" y="191.4"/><use href="#e" y="122.8"/><use href="#a" y="53.6"/><use href="#e" y="90.3"/><use href="#a" y="204.9"/><use href="#g" y="45.5"/><use href="#e" y="212.7"/><use href="#g" y="136.7"/><use href="#f" y="68.1"/><use href="#a" y="154.0"/><use href="#e" y="126.7"/><use href="#e" y="214.7"/><use href="#g" y="104.5"/><use href="#d" y="233.2"/><use href="#a" y="170.1"/><use href="#e" y="129.2"/><use href="#e" y="126.1"/><use href="#e" y="163.8"/><use href="#f" y="185.1"/><use href="#e" y="161.6"/><use href="#c" y="69.0"/><use href="#g" y="56.2"/><use href="#b" y="172.3"/><use href="#d" y="223.9"/><use href="#b" y="118.2"/><use href="#f" y="94.0"/><use href="#d" y="41.7"/><use href="#a" y="168.3"/><use href="#f" y="133.2"/><use href="#d" y="106.7"/><use href="#f" y="213.3"/><use href="#d" y="124.9"/><use href="#e" y="230.6"/><use href="#g" y="166.9"/><use href="#e" y="132.5"/><use href="#c" y="95.5"/><use href="#d" y="240.7"/><use href="#f" y="76.1"/><use href="#d" y="137.8"/><use href="#d" y="187.7"/><use href="#a" y="120.0"/><use href="#a" y="88.3"/><use href="#e" y="189.1"/><use href="#e" y="82.0"/><use href="#e" y="148.6"/><use href="#c" y="46.2"/><use href="#a" y="36.2"/><use href="#g" y="44.3"/><use href="#a" y="67.0"/><use href="#d" y="211.2"/><use href="#d" y="159.5"/><use href="#f" y="224.6"/><use href="#b" y="31.8"/><use href="#e" y="215.3"/><use href="#b" y="222.6"/><use href="#c" y="116.3"/><use href="#d" y="42.5"/><use href="#f" y="228.0"/><use href="#e" y="105.3"/><use href="#e" y="164.5"/><use href="#a" y="101.5"/><use href="#d" y="34.5"/><use href="#f" y="52.4"/><use href="#f" y="143.3"/><use href="#b" y="219.7"/><use href="#c" y="151.4"/><use href="#f" y="191.1"/><use href="#a" y="103.4"/><use href="#d" y="102.1"/><use href="#d" y="63.5"/><use href="#d" y="150.7"/><use href="#g" y="135.6"/><use href="#a" y="206.0"/><use href="#e" y="31.0"/><use href="#e" y="195.6"/><use href="#e" y="91.3"/><use href="#a" y="113.0"/><use href="#c" y="91.7"/><use href="#g" y="147.3"/><use href="#c" y="43.4"/><use href="#g" y="29.9"/><use href="#b" y="61.8"/><use href="#a" y="38.7"/><use href="#f" y="108.5"/><use href="#g" y="130.4"/><use href="#c" y="36.9"/><use href="#f" y="146.1"/><use href="#d" y="39.5"/><use href="#f" y="97.0"/><use href="#b" y="50.6"/><use href="#g" y="200.8"/><use href="#e" y="49.7"/><use href="#a" y="174.9"/><use href="#d" y="145.0"/><use href="#b" y="130.9"/><use href="#c" y="177.4"/><use href="#a" y="207.5"/><use href="#a" y="120.7"/><use href="#c" y="152.4"/><use href="#d" y="59.4"/><use href="#b" y="183.6"/><use href="#b" y="202.5"/><use href="#g" y="158.4"/><use href="#b" y="75.6"/><use href="#b" y="85.5"/><use href="#b" y="123.4"/><use href="#b" y="73.0"/><use href="#c" y="47.5"/><use href="#g" y="221.5"/><use href="#e" y="59.9"/><use href="#a" y="93.0"/><use href="#g" y="57.0"/><use href="#c" y="29.2"/><use href="#g" y="166.0"/><use href="#f" y="182.4"/><use href="#c" y="216.4"/><use href="#c" y="157.9"/><use href="#g" y="192.7"/><use href="#d" y="180.1"/><use href="#c" y="194.1"/><use href="#e" y="194.7"/><use href="#g" y="114.1"/><use href="#e" y="100.4"/><use href="#a" y="40.3"/><use href="#e" y="84.2"/><use href="#e" y="118.1"/><use href="#d" y="71.8"/><use href="#g" y="65.6"/><use href="#g" y="199.2"/><use href="#f" y="154.4"/><use href="#d" y="149.9"/><use href="#f" y="115.7"/><use href="#d" y="82.3"/><use href="#f" y="174.1"/><use href="#f" y="178.5"/><use href="#d" y="69.8"/><use href="#g" y="197.3"/><use href="#c" y="109.9"/><use href="#f" y="155.3"/><use href="#b" y="74.1"/><use href="#e" y="77.6"/><use href="#e" y="84.2"/><use href="#d" y="169.3"/><use href="#c" y="173.1"/><use href="#d" y="140.5"/><use href="#b" y="66.0"/><use href="#c" y="179.9"/><use href="#c" y="226.4"/><use href="#c" y="170.9"/><use href="#d" y="54.7"/><use href="#d" y="141.4"/><use href="#g" y="181.3"/><use href="#c" y="35.3"/><use href="#f" y="217.8"/><use href="#a" y="160.4"/><use href="#b" y="49.1"/><use href="#e" y="61.2"/><use href="#g" y="86.3"/><use href="#d" y="98.9"/><use href="#d" y="113.3"/><use href="#g" y="109.9"/></g>
<g transform="translate(550.89 0)"><use href="#d" y="225.1"/><use href="#b" y="121.5"/><use href="#c" y="210.0"/><use href="#a" y="106.1"/><use href="#a" y="209.3"/><use href="#c" y="161.3"/><use href="#a" y="211.4"/><use href="#e" y="75.0"/><use href="#e" y="30.8"/><use href="#b" y="189.2"/><use href="#g" y="182.5"/><use href="#a" y="108.3"/><use href="#c" y="144.5"/><use href="#e" y="105.2"/><use href="#a" y="190.0"/><use href="#f" y="136.2"/><use href="#f" y="87.8"/><use href="#b" y="143.1"/><use href="#d" y="67.1"/><use href="#d" y="103.4"/><use href="#e" y="37.5"/><use href="#b" y="52.2"/><use href="#c" y="175.5"/><use href="#d" y="131.3"/><use href="#g" y="94.8"/><use href="#g" y="218.7"/><use href="#a" y="205.6"/><use href="#b" y="107.5"/><use href="#d" y="83.1"/><use href="#b" y="84.9"/><use href="#b" y="59.6"/><use href="#a" y="35.9"/><use href="#e" y="217.3"/><use href="#c" y="50.7"/><use href="#g" y="162.4"/><use href="#c" y="73.4"/><use href="#b" y="65.1"/><use href="#c" y="89.1"/><use href="#a" y="158.8"/><use href="#d" y="34.2"/><use href="#a" y="186.8"/><use href="#g" y="31.7"/><use href="#e" y="231.2"/><use href="#f" y="212.4"/><use href="#d" y="77.0"/><use href="#d" y="71.0"/><use href="#f" y="129.9"/><use href="#b" y="216.6"/><use href="#a" y="184.0"/><use href="#d" y="144.0"/><use href="#g" y="117.5"/><use href="#c" y="54.5"/><use href="#c" y="179.0"/><use href="#g" y="123.6"/><use href="#d" y="101.9"/><use href="#f" y="168.6"/><use href="#a" y="168.1"/><use href="#d" y="165.4"/><use href="#f" y="56.9"/><use href="#g" y="177.7"/><use href="#d" y="148.5"/><use href="#b" y="169.5"/><use href="#e" y="81.4"/><use href="#g" y="171.3"/><use href="#d" y="36.9"/><use href="#d" y="175.1"/><use href="#f" y="219.9"/><use href="#f" y="201.5"/><use href="#f" y="155.9"/><use href="#e" y="191.3"/><use href="#f" y="222.8"/><use href="#e" y="60.5"/><use href="#e" y="44.1"/><use href="#b" y="78.3"/><use href="#f" y="86.8"/><use href="#e" y="228.6"/><use href="#b" y="113.4"/><use href="#a" y="93.9"/><use href="#e" y="171.5"/><use href="#f" y="113.1"/><use href="#a" y="147.1"/><use href="#g" y="203.8"/><use href="#g" y="160.6"/><use href="#g" y="200.9"/><use href="#c" y="157.4"/><use href="#c" y="177.3"/><use href="#e" y="172.9"/><use href="#g" y="145.8"/><use href="#e" y="49.2"/><use href="#f" y="164.2"/><use href="#a" y="96.2"/><use href="#a" y="155.3"/><use href="#e" y="110.3"/><use href="#e" y="173.6"/><use href="#c" y="99.6"/><use href="#c" y="39.0"/><use href="#g" y="74.7"/><use href="#c" y="153.3"/><use href="#a" y="151.0"/><use href="#c" y="128.8"/><use href="#f" y="158.7"/><use href="#f" y="76.6"/><use href="#f" y="148.0"/><use href="#f" y="111.2"/><use href="#f" y="51.6"/><use href="#d" y="197.4"/><use href="#g" y="138.4"/><use href="#e" y="40.4"/><use href="#f" y="193.0"/><use href="#e" y="35.0"/><use href="#d" y="79.2"/><use href="#e" y="72.6"/><use href="#c" y="153.6"/><use href="#c" y="215.6"/><use href="#f" y="195.1"/><use href="#a" y="53.7"/><use href="#e" y="47.4"/><use href="#a" y="212.8"/><use href="#b" y="114.9"/><use href="#e" y="55.6"/><use href="#e" y="134.0"/><use href="#c" y="140.3"/><use href="#e" y="180.9"/><use href="#f" y="61.6"/><use href="#d" y="115.3"/><use href="#c" y="180.2"/><use href="#d" y="208.4"/><use href="#b" y="47.9"/><use href="#f" y="91.6"/><use href="#c" y="196.5"/><use href="#f" y="80.5"/><use href="#e" y="93.1"/><use href="#e" y="43.1"/><use href="#e" y="29.8"/><use href="#b" y="128.0"/><use href="#f" y="58.5"/><use href="#d" y="46.5"/><use href="#d" y="101.3"/><use href="#b" y="97.9"/><use href="#b" y="214.2"/><use href="#g" y="163.8"/><use href="#f" y="183.5"/><use href="#d" y="109.3"/><use href="#e" y="69.4"/><use href="#d" y="193.2"/><use href="#a" y="104.3"/><use href="#c" y="122.6"/><use href="#g" y="139.4"/><use href="#f" y="132.9"/><use href="#g" y="28.8"/><use href="#d" y="141.6"/><use href="#d" y="186.6"/><use href="#c" y="135.1"/><use href="#d" y="63.5"/><use href="#d" y="68.3"/><use href="#b" y="99.7"/><use href="#d" y="188.3"/><use href="#a" y="63.0"/><use href="#b" y="124.7"/><use href="#d" y="226.9"/><use href="#g" y="119.5"/><use href="#a" y="150.3"/><use href="#b" y="195.0"/><use href="#f" y="66.3"/><use href="#a" y="207.1"/><use href="#d" y="199.2"/><use href="#a" y="85.3"/><use href="#b" y="166.9"/><use href="#a" y="152.4"/><use href="#b" y="119.1"/><use href="#a" y="137.2"/><use href="#c" y="199.7"/><use href="#f" y="204.7"/><use href="#c" y="127.1"/><use href="#e" y="221.2"/><use href="#g" y="57.3"/><use href="#g" y="121.3"/><use href="#g" y="32.8"/><use href="#a" y="40.8"/><use href="#f" y="132.6"/><use href="#a" y="202.8"/><use href="#f" y="91.2"/><use href="#f" y="89.3"/><use href="#b" y="70.0"/><use href="#g" y="126.4"/><use href="#g" y="97.1"/><use href="#c" y="116.8"/><use href="#g" y="83.8"/><use href="#g" y="41.8"/><use href="#a" y="184.9"/><use href="#c" y="45.6"/></g>
<g transform="translate(564.94 0)"><use href="#f" y="51.0"/><use href="#e" y="41.5"/><use href="#c" y="211.4"/><use href="#a" y="150.9"/><use href="#b" y="108.5"/><use href="#e" y="63.3"/><use href="#a" y="114.4"/><use href="#a" y="167.2"/><use href="#b" y="154.5"/><use href="#e" y="141.6"/><use href="#d" y="87.9"/><use href="#e" y="148.1"/><use href="#g" y="103.3"/><use href="#f" y="93.7"/><use href="#d" y="49.7"/><use href="#g" y="218.8"/><use href="#d" y="127.2"/><use href="#f" y="77.9"/><use href="#c" y="153.6"/><use href="#e" y="82.2"/><use href="#e" y="61.2"/><use href="#b" y="67.0"/><use href="#c" y="152.7"/><use href="#a" y="222.9"/><use href="#b" y="158.4"/><use href="#g" y="78.6"/><use href="#d" y="133.4"/><use href="#f" y="208.8"/><use href="#c" y="189.7"/><use href="#f" y="93.6"/><use href="#c" y="88.5"/><use href="#e" y="162.0"/><use href="#d" y="114.8"/><use href="#f" y="98.8"/><use href="#e" y="214.5"/><use href="#f" y="105.2"/><use href="#a" y="125.4"/><use href="#f" y="47.3"/><use href="#c" y="186.0"/><use href="#f" y="69.2"/><use href="#e" y="183.9"/><use href="#c" y="147.9"/><use href="#d" y="30.2"/><use href="#b" y="218.2"/><use href="#c" y="107.2"/><use href="#g" y="139.4"/><use href="#d" y="177.1"/><use href="#f" y="205.7"/><use href="#c" y="132.3"/><use href="#d" y="73.9"/><use href="#a" y="60.4"/><use href="#g" y="204.2"/><use href="#c" y="98.1"/><use href="#f" y="197.0"/><use href="#g" y="52.9"/><use href="#b" y="86.1"/><use href="#b" y="86.6"/><use href="#d" y="73.4"/><use href="#e" y="97.5"/><use href="#d" y="113.3"/><use href="#c" y="37.3"/><use href="#g" y="195.6"/><use href="#a" y="104.1"/><use href="#d" y="92.2"/><use href="#e" y="84.1"/><use href="#f" y="199.8"/><use href="#a" y="194.4"/><use href="#g" y="100.7"/><use href="#g" y="152.0"/><use href="#b" y="94.7"/><use href="#e" y="36.9"/><use href="#e" y="134.7"/><use href="#e" y="49.9"/><use href="#e" y="66.0"/><use href="#a" y="117.9"/><use href="#f" y="119.0"/><use href="#c" y="172.6"/><use href="#a" y="34.7"/><use href="#c" y="111.3"/><use href="#c" y="68.2"/><use href="#g" y="145.2"/><use href="#e" y="47.9"/><use href="#a" y="38.8"/><use href="#a" y="45.6"/><use href="#b" y="137.8"/><use href="#c" y="155.9"/><use href="#d" y="157.2"/><use href="#c" y="182.0"/><use href="#e" y="130.9"/><use href="#b" y="85.2"/><use href="#c" y="116.4"/><use href="#g" y="52.5"/><use href="#e" y="55.8"/><use href="#d" y="213.3"/><use href="#d" y="80.6"/><use href="#f" y="229.0"/><use href="#c" y="57.4"/><use href="#b" y="71.0"/><use href="#f" y="174.2"/><use href="#d" y="33.2"/><use href="#d" y="192.1"/><use href="#b" y="32.8"/><use href="#a" y="201.7"/><use href="#b" y="186.9"/><use href="#a" y="171.5"/><use href="#d" y="91.0"/><use href="#e" y="72.2"/><use href="#b" y="41.1"/><use href="#d" y="64.6"/><use href="#g" y="189.8"/><use href="#c" y="117.3"/><use href="#f" y="193.0"/><use href="#a" y="187.8"/><use href="#f" y="131.9"/><use href="#a" y="205.3"/><use href="#d" y="45.0"/><use href="#e" y="149.8"/><use href="#e" y="82.0"/><use href="#f" y="112.1"/><use href="#a" y="160.1"/><use href="#e" y="216.0"/><use href="#f" y="202.6"/><use href="#g" y="165.3"/><use href="#d" y="79.5"/><use href="#b" y="157.7"/><use href="#d" y="136.7"/><use href="#c" y="44.3"/><use href="#c" y="124.4"/><use href="#g" y="127.0"/><use href="#a" y="101.2"/><use href="#f" y="177.8"/><use href="#d" y="175.2"/><use href="#g" y="184.6"/><use href="#a" y="39.6"/><use href="#a" y="142.1"/><use href="#g" y="206.9"/><use href="#c" y="42.4"/><use href="#b" y="168.8"/><use href="#c" y="221.9"/><use href="#c" y="102.9"/><use href="#e" y="198.2"/><use href="#e" y="163.2"/><use href="#b" y="128.6"/><use href="#d" y="208.5"/><use href="#b" y="89.8"/><use href="#e" y="31.4"/><use href="#g" y="200.5"/><use href="#d" y="121.7"/><use href="#g" y="135.8"/><use href="#g" y="210.2"/><use href="#c" y="123.4"/><use href="#g" y="109.6"/><use href="#b" y="139.7"/><use href="#a" y="58.5"/><use href="#d" y="144.4"/><use href="#a" y="129.5"/><use href="#c" y="28.9"/><use href="#f" y="146.5"/><use href="#f" y="169.2"/><use href="#c" y="173.4"/><use href="#b" y="56.6"/><use href="#d" y="74.9"/><use href="#a" y="142.7"/><use href="#g" y="70.2"/><use href="#g" y="106.2"/><use href="#g" y="96.0"/><use href="#f" y="183.4"/><use href="#c" y="197.4"/><use href="#b" y="181.1"/><use href="#c" y="63.2"/><use href="#e" y="212.1"/><use href="#f" y="179.0"/><use href="#b" y="169.9"/><use href="#c" y="35.4"/><use href="#g" y="160.9"/><use href="#a" y="163.6"/><use href="#a" y="120.7"/><use href="#f" y="165.8"/><use href="#c" y="179.7"/><use href="#c" y="59.9"/><use href="#g" y="76.7"/><use href="#b" y="191.2"/><use href="#a" y="122.1"/><use href="#a" y="54.6"/></g>
<g transform="translate(578.98 0)"><use href="#b" y="121.6"/><use href="#a" y="215.7"/><use href="#b" y="148.0"/><use href="#g" y="126.6"/><use href="#f" y="133.1"/><use href="#d" y="167.7"/><use href="#f" y="68.1"/><use href="#f" y="57.4"/><use href="#g" y="81.7"/><use href="#a" y="86.1"/><use href="#b" y="93.2"/><use href="#d" y="135.6"/><use href="#d" y="55.7"/><use href="#a" y="208.1"/><use href="#f" y="173.8"/><use href="#a" y="176.9"/><use href="#g" y="42.0"/><use href="#g" y="158.0"/><use href="#d" y="75.1"/><use href="#g" y="145.7"/><use href="#f" y="36.9"/><use href="#e" y="111.8"/><use href="#c" y="78.8"/><use href="#f" y="71.6"/><use href="#b" y="74.2"/><use href="#b" y="215.1"/><use href="#b" y="200.8"/><use href="#b" y="198.8"/><use href="#f" y="196.6"/><use href="#c" y="59.3"/><use href="#d" y="72.7"/><use href="#d" y="211.5"/><use href="#c" y="140.1"/><use href="#e" y="193.7"/><use href="#e" y="130.3"/><use href="#d" y="83.1"/><use href="#d" y="204.0"/><use href="#c" y="206.0"/><use href="#e" y="144.9"/><use href="#f" y="47.7"/><use href="#e" y="40.8"/><use href="#a" y="125.6"/><use href="#e" y="134.5"/><use href="#f" y="120.7"/><use href="#f" y="45.3"/><use href="#a" y="128.1"/><use href="#a" y="98.2"/><use href="#d" y="91.4"/><use href="#g" y="115.1"/><use href="#e" y="124.5"/><use href="#g" y="52.0"/><use href="#e" y="213.4"/><use href="#e" y="201.4"/><use href="#e" y="54.9"/><use href="#f" y="47.3"/><use href="#f" y="149.9"/><use href="#a" y="113.8"/><use href="#g" y="174.2"/><use href="#c" y="160.4"/><use href="#b" y="138.1"/><use href="#e" y="62.2"/><use href="#e" y="143.6"/><use href="#b" y="88.6"/><use href="#a" y="108.1"/><use href="#b" y="146.6"/><use href="#g" y="39.9"/><use href="#a" y="86.9"/><use href="#e" y="99.3"/><use href="#e" y="122.3"/><use href="#f" y="141.9"/><use href="#f" y="58.7"/><use href="#d" y="105.9"/><use href="#f" y="132.1"/><use href="#d" y="30.6"/><use href="#g" y="69.2"/><use href="#c" y="180.7"/><use href="#b" y="49.1"/><use href="#a" y="34.3"/><use href="#b" y="95.5"/><use href="#a" y="117.9"/><use href="#c" y="184.8"/><use href="#b" y="191.6"/><use href="#e" y="136.1"/><use href="#g" y="178.8"/><use href="#b" y="185.7"/><use href="#e" y="179.4"/><use href="#a" y="76.6"/><use href="#g" y="111.1"/><use href="#d" y="219.4"/><use href="#g" y="104.6"/><use href="#c" y="187.4"/><use href="#f" y="53.6"/><use href="#b" y="195.7"/><use href="#g" y="154.3"/><use href="#f" y="170.1"/><use href="#d" y="159.8"/><use href="#a" y="45.8"/><use href="#e" y="94.5"/><use href="#b" y="202.8"/><use href="#g" y="109.7"/><use href="#c" y="205.4"/><use href="#d" y="32.2"/><use href="#c" y="166.1"/><use href="#g" y="175.0"/><use href="#e" y="39.1"/><use href="#c" y="80.3"/><use href="#g" y="163.0"/><use href="#c" y="85.2"/><use href="#e" y="89.3"/><use href="#b" y="77.7"/><use href="#f" y="148.8"/><use href="#d" y="123.5"/><use href="#e" y="171.8"/><use href="#g" y="157.0"/><use href="#c" y="192.6"/><use href="#a" y="102.9"/><use href="#a" y="90.1"/><use href="#b" y="223.3"/><use href="#e" y="166.7"/><use href="#b" y="187.9"/><use href="#a" y="65.6"/><use href="#a" y="158.2"/><use href="#b" y="56.2"/><use href="#a" y="31.7"/><use href="#b" y="207.8"/><use href="#e" y="73.0"/><use href="#f" y="155.0"/><use href="#d" y="209.7"/><use href="#d" y="33.7"/><use href="#f" y="200.1"/><use href="#b" y="190.1"/><use href="#g" y="131.0"/><use href="#f" y="37.3"/><use href="#a" y="151.8"/><use href="#g" y="100.9"/><use href="#a" y="60.9"/><use href="#e" y="62.4"/><use href="#e" y="70.6"/><use href="#d" y="51.4"/><use href="#d" y="142.9"/><use href="#e" y="50.4"/><use href="#d" y="151.7"/><use href="#e" y="64.4"/><use href="#d" y="83.8"/><use href="#d" y="169.5"/><use href="#d" y="66.6"/><use href="#c" y="43.1"/><use href="#e" y="118.7"/><use href="#b" y="165.2"/><use href="#c" y="177.2"/><use href="#b" y="35.8"/><use href="#c" y="79.3"/><use href="#d" y="101.3"/><use href="#f" y="198.1"/><use href="#e" y="140.8"/><use href="#c" y="194.1"/><use href="#e" y="106.5"/><use href="#a" y="44.4"/><use href="#e" y="116.9"/><use href="#c" y="64.0"/><use href="#a" y="114.6"/><use href="#c" y="97.7"/><use href="#b" y="92.6"/><use href="#d" y="181.7"/><use href="#b" y="29.0"/><use href="#g" y="182.7"/><use href="#e" y="109.2"/><use href="#b" y="104.0"/><use href="#e" y="171.0"/><use href="#f" y="138.2"/><use href="#a" y="129.3"/><use href="#f" y="162.1"/><use href="#d" y="183.5"/><use href="#e" y="119.5"/><use href="#a" y="189.5"/><use href="#d" y="96.6"/><use href="#e" y="163.7"/><use href="#a" y="153.4"/></g>
<g transform="translate(593.02 0)"><use href="#c" y="91.6"/><use href="#c" y="205.9"/><use href="#b" y="74.0"/><use href="#f" y="161.8"/><use href="#g" y="150.0"/><use href="#a" y="76.7"/><use href="#g" y="179.9"/><use href="#b" y="129.7"/><use href="#d" y="116.6"/><use href="#b" y="71.9"/><use href="#f" y="193.5"/><use href="#f" y="134.3"/><use href="#g" y="131.4"/><use href="#f" y="119.0"/><use href="#d" y="101.0"/><use href="#a" y="167.2"/><use href="#c" y="195.4"/><use href="#a" y="36.7"/><use href="#b" y="65.3"/><use href="#e" y="87.1"/><use href="#e" y="114.6"/><use href="#d" y="31.8"/><use href="#b" y="96.3"/><use href="#d" y="99.0"/><use href="#b" y="189.8"/><use href="#a" y="136.5"/><use href="#c" y="60.2"/><use href="#e" y="169.5"/><use href="#a" y="40.4"/><use href="#b" y="144.3"/><use href="#g" y="108.3"/><use href="#e" y="99.6"/><use href="#f" y="180.2"/><use href="#f" y="94.6"/><use href="#a" y="51.6"/><use href="#g" y="132.5"/><use href="#b" y="158.9"/><use href="#g" y="191.2"/><use href="#a" y="61.1"/><use href="#a" y="143.7"/><use href="#e" y="141.2"/><use href="#f" y="35.9"/><use href="#f" y="125.7"/><use href="#f" y="150.8"/><use href="#c" y="155.2"/><use href="#b" y="89.7"/><use href="#a" y="56.9"/><use href="#g" y="137.6"/><use href="#a" y="49.8"/><use href="#g" y="63.0"/><use href="#g" y="153.6"/><use href="#d" y="107.9"/><use href="#g" y="128.7"/><use href="#g" y="194.1"/><use href="#b" y="68.4"/><use href="#g" y="138.1"/><use href="#f" y="88.3"/><use href="#b" y="111.8"/><use href="#c" y="140.4"/><use href="#a" y="82.7"/><use href="#a" y="173.2"/><use href="#g" y="109.1"/><use href="#a" y="54.0"/><use href="#b" y="120.0"/><use href="#d" y="113.3"/><use href="#g" y="115.9"/><use href="#b" y="196.4"/><use href="#e" y="185.2"/><use href="#e" y="93.0"/><use href="#a" y="171.6"/><use href="#e" y="187.2"/><use href="#d" y="85.4"/><use href="#e" y="204.2"/><use href="#d" y="142.2"/><use href="#a" y="46.0"/><use href="#b" y="73.0"/><use href="#f" y="106.6"/><use href="#e" y="66.3"/><use href="#g" y="200.0"/><use href="#d" y="101.9"/><use href="#f" y="122.9"/><use href="#g" y="76.0"/><use href="#f" y="32.8"/><use href="#f" y="174.4"/><use href="#e" y="154.7"/><use href="#b" y="84.6"/><use href="#e" y="162.5"/><use href="#g" y="77.3"/><use href="#g" y="164.5"/><use href="#c" y="175.2"/><use href="#d" y="58.7"/><use href="#c" y="53.5"/><use href="#b" y="90.9"/><use href="#g" y="34.2"/><use href="#e" y="178.1"/><use href="#b" y="105.6"/><use href="#g" y="203.8"/><use href="#a" y="156.1"/><use href="#c" y="187.7"/><use href="#e" y="47.9"/><use href="#c" y="103.0"/><use href="#a" y="188.7"/><use href="#e" y="167.5"/><use href="#d" y="213.4"/><use href="#d" y="172.3"/><use href="#b" y="66.9"/><use href="#a" y="176.2"/><use href="#b" y="182.6"/><use href="#b" y="94.2"/><use href="#g" y="39.4"/><use href="#d" y="39.1"/><use href="#a" y="183.9"/><use href="#d" y="145.3"/><use href="#e" y="122.4"/><use href="#e" y="82.4"/><use href="#g" y="37.9"/><use href="#b" y="127.3"/><use href="#a" y="70.4"/><use href="#f" y="130.7"/><use href="#a" y="30.6"/><use href="#b" y="202.2"/><use href="#g" y="78.5"/><use href="#a" y="110.8"/><use href="#a" y="96.4"/><use href="#f" y="152.2"/><use href="#g" y="146.7"/><use href="#b" y="45.2"/><use href="#f" y="192.0"/><use href="#c" y="86.7"/><use href="#c" y="148.0"/><use href="#f" y="55.3"/><use href="#c" y="121.7"/><use href="#c" y="31.1"/><use href="#f" y="49.5"/><use href="#b" y="80.8"/><use href="#f" y="47.5"/><use href="#e" y="61.6"/><use href="#c" y="198.1"/><use href="#b" y="163.9"/><use href="#b" y="178.0"/><use href="#a" y="201.1"/><use href="#d" y="169.9"/><use href="#e" y="113.7"/><use href="#e" y="52.8"/><use href="#c" y="182.2"/><use href="#d" y="44.0"/><use href="#d" y="98.4"/><use href="#e" y="104.1"/><use href="#f" y="57.6"/><use href="#e" y="218.6"/><use href="#g" y="161.0"/><use href="#d" y="135.0"/><use href="#b" y="148.4"/><use href="#g" y="126.2"/><use href="#a" y="74.9"/><use href="#b" y="42.7"/><use href="#c" y="139.2"/><use href="#b" y="124.3"/><use href="#f" y="208.0"/><use href="#d" y="158.7"/><use href="#f" y="64.5"/><use href="#g" y="186.0"/><use href="#e" y="29.1"/><use href="#a" y="209.3"/><use href="#d" y="118.0"/><use href="#b" y="199.0"/><use href="#e" y="157.6"/><use href="#a" y="211.2"/><use href="#f" y="80.3"/><use href="#b" y="41.5"/><use href="#f" y="165.6"/><use href="#f" y="68.8"/></g>
<g transform="translate(607.07 0)"><use href="#a" y="94.7"/><use href="#f" y="103.0"/><use href="#e" y="141.2"/><use href="#a" y="45.8"/><use href="#b" y="162.0"/><use href="#g" y="91.6"/><use href="#g" y="104.9"/><use href="#b" y="45.3"/><use href="#a" y="113.9"/><use href="#c" y="80.1"/><use href="#b" y="154.9"/><use href="#b" y="55.6"/><use href="#e" y="92.9"/><use href="#g" y="116.0"/><use href="#e" y="64.8"/><use href="#a" y="65.8"/><use href="#d" y="192.8"/><use href="#g" y="154.0"/><use href="#c" y="47.9"/><use href="#b" y="183.5"/><use href="#e" y="78.3"/><use href="#e" y="71.6"/><use href="#e" y="151.3"/><use href="#f" y="36.7"/><use href="#g" y="171.2"/><use href="#a" y="87.5"/><use href="#e" y="135.7"/><use href="#a" y="114.3"/><use href="#a" y="168.3"/><use href="#a" y="126.9"/><use href="#f" y="141.7"/><use href="#f" y="49.0"/><use href="#b" y="70.7"/><use href="#a" y="160.5"/><use href="#c" y="197.6"/><use href="#a" y="73.5"/><use href="#g" y="85.9"/><use href="#g" y="178.4"/><use href="#c" y="99.0"/><use href="#b" y="181.2"/><use href="#f" y="205.9"/><use href="#c" y="31.3"/><use href="#b" y="132.3"/><use href="#c" y="138.2"/><use href="#c" y="159.7"/><use href="#c" y="137.4"/><use href="#g" y="184.9"/><use href="#g" y="131.0"/><use href="#d" y="73.4"/><use href="#c" y="30.5"/><use href="#e" y="169.4"/><use href="#g" y="208.9"/><use href="#b" y="204.8"/><use href="#g" y="95.0"/><use href="#d" y="31.9"/><use href="#b" y="120.2"/><use href="#b" y="162.5"/><use href="#c" y="147.6"/><use href="#f" y="191.2"/><use href="#b" y="81.0"/><use href="#f" y="104.2"/><use href="#c" y="122.9"/><use href="#e" y="196.8"/><use href="#d" y="60.8"/><use href="#b" y="201.8"/><use href="#a" y="117.3"/><use href="#a" y="158.5"/><use href="#e" y="76.4"/><use href="#d" y="66.8"/><use href="#f" y="54.3"/><use href="#e" y="126.6"/><use href="#b" y="186.1"/><use href="#b" y="139.5"/><use href="#b" y="101.1"/><use href="#e" y="97.2"/><use href="#d" y="189.3"/><use href="#f" y="62.4"/><use href="#f" y="84.4"/><use href="#d" y="156.8"/><use href="#a" y="187.4"/><use href="#c" y="145.9"/><use href="#b" y="35.8"/><use href="#c" y="121.0"/><use href="#b" y="58.7"/><use href="#a" y="164.5"/><use href="#b" y="152.4"/><use href="#a" y="57.4"/><use href="#f" y="34.0"/><use href="#f" y="166.0"/><use href="#e" y="47.7"/><use href="#f" y="122.0"/><use href="#e" y="188.5"/><use href="#c" y="177.4"/><use href="#f" y="128.1"/><use href="#d" y="172.1"/><use href="#c" y="108.9"/><use href="#c" y="118.7"/><use href="#f" y="40.5"/><use href="#a" y="144.8"/><use href="#c" y="143.4"/><use href="#e" y="107.9"/><use href="#f" y="89.4"/><use href="#a" y="129.4"/><use href="#b" y="83.5"/><use href="#c" y="106.6"/><use href="#b" y="167.1"/><use href="#a" y="75.4"/><use href="#b" y="76.7"/><use href="#a" y="195.2"/><use href="#b" y="109.8"/><use href="#e" y="68.4"/><use href="#f" y="202.4"/><use href="#a" y="53.6"/><use href="#f" y="163.7"/><use href="#e" y="41.9"/><use href="#g" y="199.9"/><use href="#d" y="79.0"/><use href="#c" y="175.9"/><use href="#g" y="67.6"/><use href="#f" y="58.2"/><use href="#d" y="146.7"/><use href="#g" y="153.1"/><use href="#a" y="87.1"/><use href="#c" y="82.8"/><use href="#a" y="134.0"/><use href="#f" y="179.5"/><use href="#c" y="173.8"/><use href="#c" y="194.0"/><use href="#e" y="134.6"/><use href="#d" y="175.1"/><use href="#f" y="63.0"/><use href="#c" y="105.6"/><use href="#e" y="111.3"/><use href="#a" y="28.6"/><use href="#g" y="70.0"/><use href="#f" y="117.1"/><use href="#e" y="123.9"/><use href="#a" y="59.7"/><use href="#g" y="183.1"/><use href="#e" y="181.6"/><use href="#a" y="29.4"/><use href="#b" y="43.0"/><use href="#g" y="194.3"/><use href="#b" y="101.4"/><use href="#d" y="125.6"/><use href="#g" y="112.5"/><use href="#g" y="39.7"/><use href="#e" y="52.0"/><use href="#g" y="50.3"/><use href="#d" y="96.2"/><use href="#c" y="148.9"/><use href="#e" y="98.8"/><use href="#f" y="139.6"/><use href="#c" y="156.1"/><use href="#a" y="38.0"/><use href="#b" y="189.9"/><use href="#f" y="52.7"/><use href="#c" y="149.7"/><use href="#e" y="90.3"/><use href="#c" y="39.1"/><use href="#d" y="43.7"/><use href="#c" y="170.3"/><use href="#c" y="33.0"/><use href="#c" y="132.1"/><use href="#b" y="91.2"/><use href="#d" y="173.0"/><use href="#f" y="211.9"/></g>
<g transform="translate(621.12 0)"><use href="#f" y="53.4"/><use href="#b" y="161.4"/><use href="#c" y="64.9"/><use href="#f" y="60.9"/><use href="#c" y="180.7"/><use href="#c" y="177.3"/><use href="#c" y="179.2"/><use href="#g" y="53.7"/><use href="#c" y="108.2"/><use href="#g" y="40.6"/><use href="#g" y="114.8"/><use href="#a" y="175.9"/><use href="#d" y="69.0"/><use href="#b" y="209.4"/><use href="#e" y="39.3"/><use href="#f" y="133.4"/><use href="#e" y="168.6"/><use href="#g" y="129.0"/><use href="#c" y="69.8"/><use href="#f" y="88.0"/><use href="#b" y="141.4"/><use href="#b" y="41.9"/><use href="#a" y="122.0"/><use href="#b" y="125.7"/><use href="#d" y="131.7"/><use href="#d" y="170.7"/><use href="#a" y="97.7"/><use href="#c" y="130.8"/><use href="#e" y="182.3"/><use href="#f" y="35.9"/><use href="#c" y="49.8"/><use href="#c" y="188.3"/><use href="#d" y="94.8"/><use href="#c" y="55.2"/><use href="#e" y="127.4"/><use href="#b" y="156.2"/><use href="#c" y="197.3"/><use href="#a" y="109.5"/><use href="#b" y="162.8"/><use href="#e" y="176.9"/><use href="#b" y="37.9"/><use href="#b" y="78.3"/><use href="#d" y="66.1"/><use href="#a" y="148.6"/><use href="#g" y="132.6"/><use href="#c" y="76.6"/><use href="#a" y="204.4"/><use href="#g" y="165.4"/><use href="#c" y="153.5"/><use href="#a" y="185.8"/><use href="#g" y="66.8"/><use href="#f" y="100.1"/><use href="#a" y="104.2"/><use href="#f" y="136.9"/><use href="#f" y="119.2"/><use href="#e" y="173.2"/><use href="#d" y="166.7"/><use href="#c" y="194.1"/><use href="#a" y="79.9"/><use href="#d" y="98.8"/><use href="#e" y="142.5"/><use href="#a" y="74.6"/><use href="#g" y="158.1"/><use href="#c" y="123.5"/><use href="#e" y="193.7"/><use href="#c" y="191.5"/><use href="#e" y="84.3"/><use href="#a" y="81.6"/><use href="#b" y="170.2"/><use href="#e" y="93.3"/><use href="#f" y="59.1"/><use href="#d" y="160.1"/><use href="#a" y="118.1"/><use href="#g" y="120.4"/><use href="#b" y="114.4"/><use href="#g" y="62.2"/><use href="#f" y="32.2"/><use href="#a" y="179.6"/><use href="#c" y="151.9"/><use href="#f" y="110.5"/><use href="#a" y="36.8"/><use href="#e" y="140.0"/><use href="#b" y="171.8"/><use href="#e" y="47.6"/><use href="#d" y="200.1"/><use href="#b" y="44.3"/><use href="#f" y="102.2"/><use href="#f" y="190.0"/><use href="#c" y="31.7"/><use href="#d" y="112.1"/><use href="#a" y="89.0"/><use href="#d" y="135.2"/><use href="#f" y="46.7"/><use href="#e" y="49.1"/><use href="#f" y="105.6"/><use href="#d" y="107.1"/><use href="#a" y="135.0"/><use href="#f" y="184.3"/><use href="#c" y="58.2"/><use href="#d" y="148.0"/><use href="#d" y="101.8"/><use href="#g" y="71.7"/><use href="#g" y="30.4"/><use href="#e" y="95.8"/><use href="#e" y="157.2"/><use href="#d" y="149.7"/><use href="#d" y="63.3"/><use href="#c" y="75.5"/><use href="#f" y="143.6"/><use href="#g" y="61.8"/><use href="#c" y="185.0"/><use href="#c" y="174.7"/><use href="#g" y="168.2"/><use href="#b" y="83.5"/><use href="#e" y="112.9"/><use href="#e" y="116.4"/><use href="#b" y="155.4"/><use href="#d" y="187.2"/><use href="#e" y="195.9"/><use href="#a" y="164.8"/><use href="#d" y="51.7"/><use href="#a" y="158.9"/><use href="#d" y="97.0"/><use href="#b" y="55.9"/><use href="#e" y="77.8"/><use href="#c" y="137.5"/><use href="#g" y="152.3"/><use href="#b" y="29.1"/><use href="#c" y="108.8"/><use href="#d" y="138.5"/><use href="#c" y="91.7"/><use href="#f" y="90.9"/><use href="#g" y="44.9"/><use href="#g" y="81.2"/><use href="#g" y="146.1"/><use href="#e" y="92.7"/><use href="#a" y="163.6"/><use href="#g" y="34.7"/><use href="#f" y="72.3"/><use href="#a" y="34.0"/><use href="#g" y="85.3"/><use href="#b" y="124.8"/><use href="#d" y="189.5"/><use href="#a" y="122.3"/><use href="#d" y="144.4"/><use href="#f" y="150.7"/><use href="#c" y="145.2"/><use href="#c" y="86.7"/><use href="#d" y="182.6"/><use href="#e" y="117.5"/><use href="#b" y="57.1"/><use href="#f" y="87.7"/><use href="#b" y="67.6"/><use href="#g" y="202.1"/><use href="#f" y="40.9"/><use href="#b" y="43.8"/><use href="#b" y="50.3"/><use href="#b" y="73.0"/><use href="#a" y="128.2"/><use href="#g" y="103.2"/></g>
<g transform="translate(635.16 0)"><use href="#c" y="45.7"/><use href="#b" y="110.4"/><use href="#b" y="175.4"/><use href="#g" y="91.8"/><use href="#c" y="172.8"/><use href="#d" y="177.5"/><use href="#f" y="89.6"/><use href="#f" y="80.0"/><use href="#d" y="173.1"/><use href="#f" y="152.9"/><use href="#f" y="101.7"/><use href="#d" y="138.8"/><use href="#c" y="145.3"/><use href="#d" y="192.6"/><use href="#b" y="53.3"/><use href="#b" y="174.1"/><use href="#b" y="106.1"/><use href="#e" y="71.8"/><use href="#c" y="105.7"/><use href="#b" y="153.9"/><use href="#d" y="108.3"/><use href="#c" y="186.7"/><use href="#d" y="29.4"/><use href="#f" y="168.0"/><use href="#f" y="195.9"/><use href="#a" y="114.9"/><use href="#g" y="111.9"/><use href="#e" y="67.0"/><use href="#e" y="28.8"/><use href="#c" y="44.3"/><use href="#c" y="141.3"/><use href="#a" y="184.1"/><use href="#d" y="61.8"/><use href="#f" y="95.2"/><use href="#f" y="64.1"/><use href="#a" y="181.0"/><use href="#b" y="88.5"/><use href="#b" y="34.5"/><use href="#e" y="190.1"/><use href="#b" y="60.8"/><use href="#f" y="38.3"/><use href="#e" y="100.2"/><use href="#g" y="94.0"/><use href="#a" y="150.8"/><use href="#g" y="167.4"/><use href="#f" y="88.8"/><use href="#f" y="93.0"/><use href="#c" y="163.4"/><use href="#f" y="146.7"/><use href="#d" y="185.9"/><use href="#e" y="86.4"/><use href="#g" y="55.3"/><use href="#d" y="165.1"/><use href="#b" y="126.3"/><use href="#g" y="97.5"/><use href="#d" y="123.3"/><use href="#g" y="57.1"/><use href="#e" y="121.3"/><use href="#d" y="135.0"/><use href="#a" y="43.8"/><use href="#g" y="83.6"/><use href="#f" y="76.3"/><use href="#e" y="70.9"/><use href="#c" y="116.4"/><use href="#c" y="107.7"/><use href="#a" y="141.5"/><use href="#g" y="127.9"/><use href="#e" y="50.9"/><use href="#d" y="137.1"/><use href="#f" y="149.4"/><use href="#e" y="157.9"/><use href="#b" y="104.0"/><use href="#d" y="194.1"/><use href="#d" y="159.7"/><use href="#g" y="54.2"/><use href="#a" y="74.0"/><use href="#b" y="102.7"/><use href="#c" y="65.9"/><use href="#b" y="58.2"/><use href="#d" y="41.3"/><use href="#e" y="122.6"/><use href="#f" y="47.8"/><use href="#d" y="59.3"/><use href="#g" y="119.1"/><use href="#g" y="77.9"/><use href="#c" y="165.4"/><use href="#c" y="140.1"/><use href="#c" y="73.0"/><use href="#a" y="98.7"/><use href="#c" y="179.8"/><use href="#b" y="112.7"/><use href="#e" y="114.1"/><use href="#g" y="65.7"/><use href="#e" y="169.3"/><use href="#d" y="179.1"/><use href="#f" y="130.4"/><use href="#b" y="147.9"/><use href="#b" y="74.6"/><use href="#d" y="190.0"/><use href="#d" y="187.3"/><use href="#a" y="49.6"/><use href="#e" y="170.0"/><use href="#f" y="39.5"/><use href="#a" y="204.5"/><use href="#c" y="109.2"/><use href="#d" y="84.7"/><use href="#b" y="157.1"/><use href="#f" y="156.1"/><use href="#c" y="148.4"/><use href="#f" y="128.7"/><use href="#d" y="30.9"/><use href="#b" y="60.3"/><use href="#b" y="69.0"/><use href="#d" y="137.6"/><use href="#g" y="37.3"/><use href="#e" y="126.4"/><use href="#d" y="124.5"/><use href="#f" y="42.2"/><use href="#g" y="134.1"/><use href="#d" y="181.8"/><use href="#d" y="199.7"/><use href="#c" y="52.1"/><use href="#c" y="96.3"/><use href="#a" y="32.3"/><use href="#f" y="117.3"/><use href="#d" y="32.4"/><use href="#c" y="83.1"/><use href="#b" y="132.2"/><use href="#b" y="36.2"/><use href="#f" y="143.9"/><use href="#c" y="120.1"/><use href="#b" y="40.7"/><use href="#c" y="143.5"/><use href="#d" y="160.3"/><use href="#b" y="133.5"/><use href="#g" y="162.4"/><use href="#c" y="70.0"/><use href="#e" y="155.5"/><use href="#b" y="131.5"/><use href="#e" y="85.9"/><use href="#d" y="118.7"/><use href="#d" y="62.7"/><use href="#g" y="176.8"/><use href="#c" y="33.8"/><use href="#a" y="92.1"/><use href="#f" y="183.3"/><use href="#e" y="76.9"/><use href="#c" y="152.3"/><use href="#a" y="161.7"/><use href="#d" y="50.6"/><use href="#c" y="46.5"/><use href="#b" y="171.0"/><use href="#b" y="79.1"/><use href="#g" y="81.7"/><use href="#c" y="101.4"/></g>
<g transform="translate(649.21 0)"><use href="#d" y="167.7"/><use href="#c" y="137.8"/><use href="#c" y="114.8"/><use href="#c" y="182.0"/><use href="#f" y="136.6"/><use href="#b" y="113.3"/><use href="#g" y="156.4"/><use href="#c" y="47.5"/><use href="#c" y="126.7"/><use href="#f" y="100.7"/><use href="#e" y="117.2"/><use href="#c" y="131.3"/><use href="#b" y="154.5"/><use href="#b" y="77.7"/><use href="#b" y="171.7"/><use href="#b" y="76.1"/><use href="#e" y="88.8"/><use href="#c" y="122.2"/><use href="#c" y="124.6"/><use href="#a" y="80.4"/><use href="#g" y="96.3"/><use href="#c" y="111.0"/><use href="#b" y="104.4"/><use href="#d" y="150.8"/><use href="#a" y="155.0"/><use href="#f" y="170.1"/><use href="#g" y="112.1"/><use href="#a" y="44.1"/><use href="#d" y="141.4"/><use href="#d" y="186.7"/><use href="#c" y="65.4"/><use href="#d" y="103.1"/><use href="#d" y="39.5"/><use href="#g" y="52.5"/><use href="#d" y="119.8"/><use href="#g" y="50.9"/><use href="#d" y="81.1"/><use href="#d" y="78.8"/><use href="#e" y="40.6"/><use href="#c" y="182.3"/><use href="#g" y="129.1"/><use href="#d" y="82.9"/><use href="#e" y="35.6"/><use href="#e" y="146.6"/><use href="#f" y="87.6"/><use href="#e" y="91.6"/><use href="#g" y="128.4"/><use href="#g" y="159.2"/><use href="#c" y="63.2"/><use href="#d" y="34.3"/><use href="#e" y="176.1"/><use href="#b" y="178.6"/><use href="#b" y="107.1"/><use href="#b" y="116.4"/><use href="#c" y="41.7"/><use href="#e" y="57.7"/><use href="#e" y="144.0"/><use href="#a" y="143.7"/><use href="#e" y="85.8"/><use href="#b" y="112.8"/><use href="#b" y="173.1"/><use href="#e" y="37.2"/><use href="#b" y="59.9"/><use href="#f" y="29.5"/><use href="#e" y="180.2"/><use href="#a" y="48.9"/><use href="#b" y="60.6"/><use href="#b" y="157.8"/><use href="#a" y="194.5"/><use href="#d" y="67.9"/><use href="#c" y="138.9"/><use href="#d" y="74.6"/><use href="#e" y="147.3"/><use href="#g" y="132.5"/><use href="#d" y="46.1"/><use href="#b" y="62.1"/><use href="#d" y="135.7"/><use href="#a" y="32.8"/><use href="#c" y="172.9"/><use href="#g" y="157.3"/><use href="#b" y="37.0"/><use href="#d" y="129.9"/><use href="#a" y="101.7"/><use href="#b" y="92.6"/><use href="#a" y="162.3"/><use href="#g" y="177.1"/><use href="#b" y="58.8"/><use href="#g" y="169.3"/><use href="#g" y="141.8"/><use href="#g" y="118.5"/><use href="#b" y="64.2"/><use href="#e" y="166.3"/><use href="#b" y="133.1"/><use href="#g" y="32.0"/><use href="#c" y="134.6"/><use href="#e" y="69.0"/><use href="#a" y="97.7"/><use href="#b" y="104.8"/><use href="#g" y="69.9"/><use href="#g" y="95.5"/><use href="#b" y="190.0"/><use href="#c" y="65.7"/><use href="#c" y="108.7"/><use href="#b" y="109.7"/><use href="#e" y="49.3"/><use href="#a" y="152.9"/><use href="#b" y="94.1"/><use href="#b" y="54.8"/><use href="#c" y="100.1"/><use href="#a" y="161.4"/><use href="#c" y="76.5"/><use href="#d" y="71.6"/><use href="#f" y="119.7"/><use href="#c" y="183.7"/><use href="#f" y="139.5"/><use href="#e" y="185.0"/><use href="#b" y="30.6"/><use href="#d" y="123.9"/><use href="#f" y="106.1"/><use href="#b" y="51.5"/><use href="#c" y="73.2"/><use href="#d" y="125.7"/><use href="#d" y="160.8"/><use href="#f" y="121.6"/><use href="#b" y="177.5"/><use href="#c" y="29.0"/><use href="#c" y="56.0"/><use href="#b" y="43.3"/><use href="#e" y="90.8"/><use href="#c" y="151.9"/><use href="#b" y="174.2"/><use href="#f" y="201.0"/><use href="#c" y="45.6"/><use href="#d" y="98.6"/><use href="#b" y="87.1"/><use href="#a" y="72.5"/><use href="#b" y="163.5"/><use href="#c" y="82.5"/><use href="#d" y="89.3"/><use href="#b" y="84.2"/><use href="#d" y="67.0"/><use href="#f" y="192.6"/><use href="#g" y="149.1"/><use href="#c" y="145.5"/><use href="#a" y="149.1"/><use href="#a" y="54.3"/><use href="#a" y="164.7"/><use href="#f" y="38.8"/><use href="#g" y="166.6"/></g>
<g transform="translate(663.25 0)"><use href="#g" y="101.2"/><use href="#f" y="147.5"/><use href="#a" y="133.0"/><use href="#b" y="134.7"/><use href="#b" y="154.6"/><use href="#c" y="171.1"/><use href="#f" y="128.5"/><use href="#c" y="66.9"/><use href="#c" y="106.7"/><use href="#f" y="169.6"/><use href="#g" y="64.5"/><use href="#a" y="168.9"/><use href="#d" y="95.8"/><use href="#c" y="33.2"/><use href="#c" y="126.8"/><use href="#c" y="37.7"/><use href="#a" y="48.6"/><use href="#e" y="155.9"/><use href="#c" y="188.5"/><use href="#a" y="187.0"/><use href="#b" y="94.6"/><use href="#f" y="118.8"/><use href="#e" y="105.5"/><use href="#f" y="49.5"/><use href="#a" y="123.8"/><use href="#d" y="182.2"/><use href="#g" y="173.0"/><use href="#b" y="41.0"/><use href="#g" y="91.2"/><use href="#a" y="31.6"/><use href="#g" y="80.3"/><use href="#a" y="95.0"/><use href="#g" y="117.5"/><use href="#c" y="91.6"/><use href="#c" y="69.8"/><use href="#d" y="98.1"/><use href="#b" y="103.6"/><use href="#f" y="165.5"/><use href="#c" y="121.7"/><use href="#g" y="44.2"/><use href="#b" y="129.8"/><use href="#e" y="108.5"/><use href="#e" y="51.5"/><use href="#g" y="34.0"/><use href="#c" y="148.4"/><use href="#e" y="114.0"/><use href="#g" y="161.7"/><use href="#b" y="46.8"/><use href="#g" y="104.5"/><use href="#e" y="83.4"/><use href="#e" y="40.5"/><use href="#g" y="28.5"/><use href="#g" y="164.2"/><use href="#b" y="37.0"/><use href="#f" y="80.5"/><use href="#a" y="77.3"/><use href="#d" y="61.3"/><use href="#d" y="163.0"/><use href="#b" y="99.0"/><use href="#g" y="174.4"/><use href="#g" y="128.2"/><use href="#c" y="44.9"/><use href="#c" y="68.8"/><use href="#f" y="55.1"/><use href="#f" y="78.9"/><use href="#b" y="35.5"/><use href="#g" y="57.2"/><use href="#e" y="71.2"/><use href="#e" y="174.9"/><use href="#e" y="124.5"/><use href="#g" y="46.2"/><use href="#e" y="132.6"/><use href="#b" y="149.3"/><use href="#e" y="97.1"/><use href="#c" y="151.2"/><use href="#d" y="177.2"/><use href="#e" y="109.1"/><use href="#f" y="151.8"/><use href="#b" y="139.0"/><use href="#g" y="52.7"/><use href="#a" y="131.0"/><use href="#f" y="81.9"/><use href="#b" y="110.8"/><use href="#f" y="58.1"/><use href="#a" y="102.3"/><use href="#a" y="159.2"/><use href="#d" y="161.1"/><use href="#a" y="53.5"/><use href="#e" y="167.7"/><use href="#c" y="29.5"/><use href="#f" y="50.2"/><use href="#c" y="58.7"/><use href="#b" y="142.5"/><use href="#e" y="140.2"/><use href="#g" y="55.5"/><use href="#a" y="87.1"/><use href="#g" y="65.6"/><use href="#b" y="141.2"/><use href="#g" y="119.9"/><use href="#c" y="43.1"/><use href="#f" y="90.1"/><use href="#f" y="75.1"/><use href="#b" y="112.7"/><use href="#e" y="145.2"/><use href="#g" y="153.4"/><use href="#b" y="114.6"/><use href="#b" y="86.0"/><use href="#b" y="138.0"/><use href="#c" y="60.2"/><use href="#a" y="136.7"/><use href="#c" y="111.3"/><use href="#f" y="159.1"/><use href="#f" y="77.1"/><use href="#c" y="74.4"/><use href="#d" y="115.9"/><use href="#b" y="144.8"/><use href="#e" y="89.1"/><use href="#d" y="143.2"/><use href="#c" y="122.8"/><use href="#f" y="166.4"/><use href="#g" y="118.5"/><use href="#g" y="146.2"/><use href="#a" y="92.5"/><use href="#a" y="194.2"/><use href="#b" y="155.5"/><use href="#a" y="72.0"/><use href="#g" y="125.7"/><use href="#e" y="73.0"/><use href="#b" y="100.9"/><use href="#b" y="63.0"/><use href="#c" y="176.4"/><use href="#f" y="62.8"/><use href="#e" y="171.7"/><use href="#a" y="30.7"/><use href="#g" y="39.4"/><use href="#g" y="180.8"/><use href="#a" y="85.2"/><use href="#b" y="34.9"/><use href="#b" y="157.8"/><use href="#g" y="135.1"/><use href="#e" y="67.8"/><use href="#c" y="84.5"/><use href="#a" y="179.3"/><use href="#d" y="184.8"/></g>
<g transform="translate(677.30 0)"><use href="#d" y="151.0"/><use href="#g" y="116.5"/><use href="#b" y="106.7"/><use href="#b" y="54.2"/><use href="#a" y="136.3"/><use href="#a" y="82.2"/><use href="#f" y="142.1"/><use href="#g" y="144.3"/><use href="#e" y="162.1"/><use href="#c" y="146.1"/><use href="#c" y="159.2"/><use href="#d" y="156.3"/><use href="#d" y="114.9"/><use href="#a" y="85.8"/><use href="#a" y="29.3"/><use href="#g" y="175.7"/><use href="#a" y="178.1"/><use href="#b" y="87.4"/><use href="#c" y="172.2"/><use href="#d" y="58.7"/><use href="#f" y="35.3"/><use href="#f" y="120.0"/><use href="#e" y="167.0"/><use href="#c" y="45.3"/><use href="#e" y="171.0"/><use href="#c" y="169.5"/><use href="#e" y="61.6"/><use href="#c" y="135.9"/><use href="#e" y="79.0"/><use href="#b" y="102.7"/><use href="#c" y="179.8"/><use href="#f" y="33.4"/><use href="#a" y="95.2"/><use href="#g" y="150.2"/><use href="#c" y="66.7"/><use href="#b" y="113.6"/><use href="#f" y="72.1"/><use href="#b" y="56.3"/><use href="#b" y="69.7"/><use href="#f" y="88.6"/><use href="#e" y="151.7"/><use href="#d" y="74.0"/><use href="#c" y="92.3"/><use href="#c" y="92.1"/><use href="#b" y="126.0"/><use href="#c" y="48.0"/><use href="#b" y="134.5"/><use href="#e" y="155.1"/><use href="#a" y="30.2"/><use href="#f" y="140.0"/><use href="#a" y="79.6"/><use href="#c" y="43.2"/><use href="#d" y="94.1"/><use href="#g" y="167.9"/><use href="#g" y="111.0"/><use href="#c" y="164.2"/><use href="#e" y="59.6"/><use href="#d" y="44.2"/><use href="#c" y="112.9"/><use href="#e" y="55.6"/><use href="#a" y="141.6"/><use href="#a" y="187.0"/><use href="#c" y="96.8"/><use href="#c" y="46.6"/><use href="#e" y="154.9"/><use href="#g" y="115.4"/><use href="#b" y="64.1"/><use href="#d" y="36.5"/><use href="#g" y="30.8"/><use href="#a" y="133.8"/><use href="#b" y="157.5"/><use href="#e" y="165.4"/><use href="#b" y="41.7"/><use href="#g" y="143.4"/><use href="#b" y="122.4"/><use href="#a" y="75.0"/><use href="#d" y="106.4"/><use href="#g" y="127.5"/><use href="#d" y="174.7"/><use href="#c" y="163.6"/><use href="#a" y="58.0"/><use href="#a" y="147.5"/><use href="#f" y="77.6"/><use href="#b" y="83.1"/><use href="#d" y="146.6"/><use href="#a" y="118.1"/><use href="#a" y="31.9"/><use href="#d" y="65.6"/><use href="#a" y="63.2"/><use href="#d" y="38.2"/><use href="#a" y="124.3"/><use href="#g" y="96.4"/><use href="#d" y="103.7"/><use href="#e" y="105.1"/><use href="#g" y="52.4"/><use href="#a" y="153.0"/><use href="#a" y="61.3"/><use href="#a" y="131.7"/><use href="#g" y="137.9"/><use href="#e" y="40.5"/><use href="#c" y="84.4"/><use href="#d" y="180.9"/><use href="#g" y="126.7"/><use href="#b" y="39.4"/><use href="#b" y="161.5"/><use href="#d" y="185.5"/><use href="#a" y="149.2"/><use href="#c" y="160.2"/><use href="#a" y="121.4"/><use href="#e" y="110.9"/><use href="#g" y="109.1"/><use href="#g" y="89.3"/><use href="#c" y="132.2"/><use href="#b" y="128.7"/><use href="#d" y="75.8"/><use href="#e" y="98.2"/><use href="#f" y="123.6"/><use href="#c" y="53.6"/><use href="#c" y="50.1"/><use href="#g" y="41.3"/><use href="#e" y="50.9"/><use href="#b" y="101.4"/><use href="#a" y="119.0"/><use href="#c" y="73.3"/><use href="#b" y="69.1"/><use href="#b" y="169.0"/><use href="#a" y="84.7"/><use href="#f" y="67.4"/><use href="#a" y="80.6"/><use href="#e" y="138.9"/><use href="#f" y="70.4"/><use href="#b" y="34.6"/><use href="#d" y="48.9"/><use href="#e" y="108.7"/><use href="#f" y="99.8"/><use href="#b" y="100.4"/><use href="#d" y="91.0"/><use href="#e" y="130.2"/></g>
<g transform="translate(691.34 0)"><use href="#e" y="70.9"/><use href="#d" y="77.7"/><use href="#e" y="47.6"/><use href="#c" y="51.3"/><use href="#c" y="161.7"/><use href="#a" y="62.2"/><use href="#c" y="53.4"/><use href="#b" y="40.3"/><use href="#f" y="107.6"/><use href="#g" y="49.5"/><use href="#g" y="65.7"/><use href="#f" y="53.8"/><use href="#c" y="74.4"/><use href="#c" y="141.2"/><use href="#b" y="58.3"/><use href="#g" y="72.4"/><use href="#b" y="178.1"/><use href="#b" y="147.5"/><use href="#e" y="80.6"/><use href="#c" y="111.1"/><use href="#g" y="94.1"/><use href="#g" y="106.0"/><use href="#g" y="87.7"/><use href="#d" y="69.2"/><use href="#g" y="136.6"/><use href="#e" y="154.3"/><use href="#e" y="86.0"/><use href="#b" y="158.5"/><use href="#e" y="112.8"/><use href="#f" y="102.6"/><use href="#c" y="78.0"/><use href="#a" y="117.6"/><use href="#b" y="114.5"/><use href="#a" y="119.3"/><use href="#e" y="130.9"/><use href="#d" y="82.2"/><use href="#b" y="164.4"/><use href="#d" y="110.4"/><use href="#c" y="181.4"/><use href="#f" y="29.0"/><use href="#g" y="101.3"/><use href="#b" y="116.1"/><use href="#f" y="130.4"/><use href="#e" y="124.7"/><use href="#g" y="173.7"/><use href="#f" y="150.0"/><use href="#a" y="72.1"/><use href="#f" y="156.4"/><use href="#g" y="67.7"/><use href="#b" y="124.0"/><use href="#b" y="126.1"/><use href="#f" y="92.2"/><use href="#c" y="36.0"/><use href="#g" y="121.9"/><use href="#g" y="63.1"/><use href="#d" y="42.5"/><use href="#g" y="166.5"/><use href="#f" y="177.4"/><use href="#b" y="83.4"/><use href="#c" y="55.4"/><use href="#e" y="76.6"/><use href="#b" y="139.4"/><use href="#d" y="38.4"/><use href="#d" y="45.1"/><use href="#a" y="83.4"/><use href="#f" y="169.3"/><use href="#g" y="109.0"/><use href="#d" y="104.0"/><use href="#g" y="59.5"/><use href="#b" y="46.2"/><use href="#e" y="29.5"/><use href="#e" y="117.9"/><use href="#f" y="105.0"/><use href="#d" y="171.8"/><use href="#d" y="134.6"/><use href="#a" y="107.8"/><use href="#e" y="144.8"/><use href="#f" y="85.2"/><use href="#e" y="170.6"/><use href="#a" y="133.4"/><use href="#g" y="122.8"/><use href="#f" y="120.8"/><use href="#f" y="162.7"/><use href="#f" y="31.3"/><use href="#d" y="99.5"/><use href="#a" y="138.5"/><use href="#d" y="145.8"/><use href="#a" y="143.7"/><use href="#g" y="34.3"/><use href="#g" y="167.5"/><use href="#a" y="44.3"/><use href="#b" y="149.2"/><use href="#b" y="34.9"/><use href="#f" y="55.9"/><use href="#a" y="160.7"/><use href="#b" y="97.2"/><use href="#e" y="158.5"/><use href="#a" y="64.1"/><use href="#d" y="100.0"/><use href="#f" y="97.9"/><use href="#b" y="152.1"/><use href="#a" y="96.6"/><use href="#d" y="92.9"/><use href="#d" y="57.7"/><use href="#c" y="88.0"/><use href="#c" y="48.5"/><use href="#a" y="113.6"/><use href="#b" y="129.2"/><use href="#g" y="41.7"/><use href="#e" y="147.4"/><use href="#e" y="163.1"/><use href="#d" y="37.8"/><use href="#a" y="89.9"/><use href="#e" y="128.2"/><use href="#a" y="136.4"/><use href="#c" y="127.2"/><use href="#a" y="51.6"/><use href="#b" y="95.3"/><use href="#e" y="156.1"/><use href="#g" y="60.4"/><use href="#b" y="153.2"/><use href="#d" y="132.7"/><use href="#e" y="33.4"/><use href="#f" y="90.3"/><use href="#a" y="65.6"/><use href="#a" y="74.8"/><use href="#b" y="39.7"/><use href="#g" y="150.9"/><use href="#c" y="140.4"/><use href="#c" y="142.5"/><use href="#e" y="80.0"/><use href="#c" y="68.5"/><use href="#f" y="31.7"/></g>
<g transform="translate(705.38 0)"><use href="#b" y="50.7"/><use href="#e" y="44.3"/><use href="#d" y="139.3"/><use href="#c" y="93.3"/><use href="#g" y="94.3"/><use href="#g" y="129.3"/><use href="#g" y="72.4"/><use href="#b" y="131.8"/><use href="#e" y="34.6"/><use href="#c" y="155.7"/><use href="#e" y="160.5"/><use href="#d" y="54.8"/><use href="#g" y="158.9"/><use href="#g" y="154.2"/><use href="#e" y="84.0"/><use href="#g" y="110.7"/><use href="#e" y="47.9"/><use href="#e" y="128.3"/><use href="#d" y="126.8"/><use href="#g" y="170.0"/><use href="#g" y="105.2"/><use href="#a" y="74.2"/><use href="#g" y="71.5"/><use href="#f" y="52.9"/><use href="#b" y="60.8"/><use href="#c" y="42.4"/><use href="#g" y="32.6"/><use href="#c" y="148.0"/><use href="#b" y="167.3"/><use href="#g" y="46.8"/><use href="#d" y="116.6"/><use href="#g" y="157.2"/><use href="#f" y="119.2"/><use href="#c" y="149.1"/><use href="#f" y="115.3"/><use href="#d" y="89.4"/><use href="#e" y="117.1"/><use href="#b" y="54.4"/><use href="#c" y="39.1"/><use href="#c" y="161.8"/><use href="#e" y="78.1"/><use href="#b" y="38.5"/><use href="#c" y="111.6"/><use href="#d" y="103.8"/><use href="#e" y="99.2"/><use href="#e" y="31.9"/><use href="#e" y="126.1"/><use href="#f" y="125.3"/><use href="#e" y="171.6"/><use href="#a" y="117.9"/><use href="#e" y="160.3"/><use href="#e" y="45.7"/><use href="#f" y="145.4"/><use href="#e" y="134.6"/><use href="#a" y="95.6"/><use href="#f" y="85.2"/><use href="#g" y="85.9"/><use href="#c" y="153.2"/><use href="#a" y="51.2"/><use href="#d" y="105.9"/><use href="#b" y="65.1"/><use href="#d" y="55.7"/><use href="#g" y="42.0"/><use href="#c" y="57.1"/><use href="#f" y="87.1"/><use href="#b" y="66.5"/><use href="#a" y="133.6"/><use href="#g" y="154.7"/><use href="#b" y="140.3"/><use href="#a" y="102.3"/><use href="#d" y="114.0"/><use href="#f" y="80.3"/><use href="#a" y="69.3"/><use href="#d" y="108.2"/><use href="#b" y="29.0"/><use href="#c" y="34.0"/><use href="#a" y="122.5"/><use href="#g" y="137.0"/><use href="#e" y="49.3"/><use href="#f" y="30.8"/><use href="#g" y="177.6"/><use href="#g" y="91.2"/><use href="#e" y="152.0"/><use href="#e" y="90.4"/><use href="#c" y="130.5"/><use href="#e" y="113.1"/><use href="#g" y="122.1"/><use href="#f" y="77.7"/><use href="#d" y="28.8"/><use href="#f" y="120.6"/><use href="#e" y="146.2"/><use href="#f" y="166.3"/><use href="#b" y="68.7"/><use href="#d" y="142.0"/><use href="#e" y="98.6"/><use href="#g" y="97.0"/><use href="#d" y="66.9"/><use href="#c" y="109.0"/><use href="#b" y="78.9"/><use href="#f" y="35.7"/><use href="#a" y="61.4"/><use href="#c" y="135.6"/><use href="#b" y="147.4"/><use href="#d" y="76.1"/><use href="#e" y="143.2"/><use href="#e" y="123.7"/><use href="#d" y="106.9"/><use href="#d" y="163.9"/><use href="#c" y="133.3"/><use href="#b" y="100.7"/><use href="#g" y="144.4"/><use href="#a" y="40.3"/><use href="#b" y="37.3"/><use href="#g" y="62.5"/><use href="#c" y="74.5"/><use href="#g" y="82.7"/><use href="#f" y="101.2"/><use href="#c" y="70.0"/><use href="#b" y="45.1"/><use href="#d" y="81.3"/><use href="#b" y="150.6"/><use href="#a" y="58.8"/><use href="#d" y="59.4"/><use href="#a" y="174.9"/><use href="#f" y="94.9"/><use href="#c" y="87.9"/><use href="#a" y="63.7"/><use href="#g" y="138.4"/></g>
<g transform="translate(719.43 0)"><use href="#c" y="80.9"/><use href="#f" y="117.0"/><use href="#b" y="31.8"/><use href="#g" y="113.5"/><use href="#f" y="131.0"/><use href="#d" y="136.3"/><use href="#d" y="175.3"/><use href="#e" y="137.8"/><use href="#c" y="39.8"/><use href="#b" y="105.1"/><use href="#d" y="165.2"/><use href="#a" y="70.7"/><use href="#e" y="74.2"/><use href="#c" y="46.1"/><use href="#e" y="113.9"/><use href="#e" y="49.9"/><use href="#a" y="125.6"/><use href="#e" y="60.0"/><use href="#d" y="96.3"/><use href="#f" y="110.4"/><use href="#b" y="112.4"/><use href="#b" y="143.2"/><use href="#b" y="53.8"/><use href="#c" y="78.2"/><use href="#g" y="44.0"/><use href="#d" y="93.0"/><use href="#a" y="156.2"/><use href="#d" y="121.3"/><use href="#c" y="126.0"/><use href="#e" y="106.2"/><use href="#b" y="100.6"/><use href="#g" y="147.2"/><use href="#e" y="128.5"/><use href="#f" y="46.6"/><use href="#e" y="154.5"/><use href="#f" y="149.9"/><use href="#g" y="68.6"/><use href="#a" y="41.1"/><use href="#e" y="166.8"/><use href="#e" y="91.2"/><use href="#b" y="35.1"/><use href="#f" y="95.6"/><use href="#c" y="152.1"/><use href="#a" y="134.3"/><use href="#g" y="32.3"/><use href="#g" y="35.8"/><use href="#g" y="160.1"/><use href="#g" y="73.2"/><use href="#b" y="102.6"/><use href="#a" y="88.5"/><use href="#g" y="150.8"/><use href="#c" y="34.1"/><use href="#g" y="48.5"/><use href="#a" y="83.8"/><use href="#d" y="116.0"/><use href="#f" y="99.5"/><use href="#g" y="63.4"/><use href="#e" y="115.4"/><use href="#e" y="168.8"/><use href="#c" y="37.3"/><use href="#a" y="81.4"/><use href="#f" y="162.2"/><use href="#f" y="145.6"/><use href="#e" y="48.9"/><use href="#c" y="94.5"/><use href="#c" y="52.9"/><use href="#c" y="55.8"/><use href="#d" y="157.8"/><use href="#c" y="133.5"/><use href="#g" y="69.7"/><use href="#d" y="108.0"/><use href="#d" y="75.1"/><use href="#g" y="146.9"/><use href="#b" y="144.0"/><use href="#b" y="109.5"/><use href="#d" y="97.5"/><use href="#g" y="89.7"/><use href="#c" y="92.0"/><use href="#g" y="54.6"/><use href="#f" y="51.7"/><use href="#e" y="40.6"/><use href="#g" y="29.3"/><use href="#e" y="148.6"/><use href="#f" y="59.5"/><use href="#a" y="127.0"/><use href="#a" y="98.9"/><use href="#a" y="71.9"/><use href="#g" y="138.8"/><use href="#d" y="57.5"/><use href="#g" y="85.6"/><use href="#c" y="77.6"/><use href="#f" y="66.4"/><use href="#c" y="118.0"/><use href="#g" y="79.6"/><use href="#e" y="85.1"/><use href="#f" y="101.3"/><use href="#e" y="139.9"/><use href="#a" y="130.1"/><use href="#e" y="153.3"/><use href="#e" y="142.5"/><use href="#c" y="76.6"/><use href="#a" y="62.1"/><use href="#a" y="83.0"/><use href="#a" y="58.0"/><use href="#a" y="43.0"/><use href="#g" y="107.1"/><use href="#e" y="140.7"/><use href="#b" y="30.6"/><use href="#d" y="87.3"/><use href="#f" y="119.1"/><use href="#g" y="131.4"/><use href="#e" y="135.2"/><use href="#g" y="62.3"/><use href="#b" y="122.1"/><use href="#c" y="38.0"/><use href="#a" y="103.5"/><use href="#b" y="158.3"/><use href="#d" y="65.1"/><use href="#d" y="124.5"/><use href="#e" y="123.0"/><use href="#e" y="45.1"/><use href="#f" y="66.8"/></g>
<g transform="translate(733.48 0)"><use href="#c" y="49.3"/><use href="#a" y="65.4"/><use href="#e" y="42.3"/><use href="#f" y="54.8"/><use href="#b" y="150.6"/><use href="#d" y="143.4"/><use href="#g" y="146.5"/><use href="#f" y="59.2"/><use href="#g" y="145.3"/><use href="#b" y="88.6"/><use href="#g" y="132.9"/><use href="#c" y="71.5"/><use href="#g" y="29.9"/><use href="#e" y="163.3"/><use href="#g" y="139.7"/><use href="#a" y="137.7"/><use href="#g" y="69.1"/><use href="#c" y="105.3"/><use href="#g" y="57.8"/><use href="#e" y="66.7"/><use href="#c" y="154.3"/><use href="#e" y="135.9"/><use href="#c" y="138.5"/><use href="#f" y="141.6"/><use href="#c" y="113.4"/><use href="#d" y="101.4"/><use href="#b" y="107.3"/><use href="#g" y="136.8"/><use href="#b" y="110.7"/><use href="#e" y="149.8"/><use href="#g" y="60.3"/><use href="#b" y="86.7"/><use href="#c" y="125.4"/><use href="#f" y="152.1"/><use href="#e" y="74.6"/><use href="#g" y="141.9"/><use href="#b" y="129.2"/><use href="#a" y="126.3"/><use href="#f" y="171.2"/><use href="#a" y="73.4"/><use href="#c" y="119.6"/><use href="#c" y="79.5"/><use href="#g" y="103.0"/><use href="#a" y="110.4"/><use href="#e" y="46.8"/><use href="#d" y="56.4"/><use href="#b" y="44.5"/><use href="#d" y="134.5"/><use href="#g" y="94.3"/><use href="#c" y="123.0"/><use href="#b" y="70.7"/><use href="#g" y="121.0"/><use href="#g" y="52.0"/><use href="#a" y="132.3"/><use href="#e" y="129.7"/><use href="#b" y="64.2"/><use href="#b" y="114.7"/><use href="#e" y="53.4"/><use href="#g" y="91.7"/><use href="#f" y="98.9"/><use href="#f" y="124.2"/><use href="#f" y="155.8"/><use href="#g" y="115.3"/><use href="#g" y="104.3"/><use href="#d" y="28.9"/><use href="#f" y="161.2"/><use href="#c" y="128.1"/><use href="#b" y="39.7"/><use href="#g" y="159.0"/><use href="#d" y="87.0"/><use href="#d" y="122.1"/><use href="#b" y="90.9"/><use href="#e" y="33.6"/><use href="#a" y="35.7"/><use href="#f" y="85.2"/><use href="#d" y="37.1"/><use href="#f" y="118.0"/><use href="#a" y="32.7"/><use href="#d" y="131.7"/><use href="#a" y="73.3"/><use href="#g" y="89.3"/><use href="#d" y="50.7"/><use href="#c" y="106.9"/><use href="#a" y="97.8"/><use href="#c" y="43.7"/><use href="#c" y="68.1"/><use href="#e" y="83.2"/><use href="#d" y="31.3"/><use href="#d" y="96.6"/><use href="#a" y="40.1"/><use href="#a" y="102.4"/><use href="#g" y="145.1"/><use href="#c" y="52.4"/><use href="#e" y="157.0"/><use href="#d" y="80.6"/><use href="#b" y="92.8"/><use href="#g" y="112.5"/><use href="#g" y="61.6"/><use href="#f" y="77.8"/><use href="#d" y="108.7"/><use href="#c" y="65.6"/><use href="#g" y="38.0"/><use href="#g" y="95.3"/><use href="#e" y="118.9"/><use href="#d" y="81.7"/><use href="#e" y="78.1"/><use href="#b" y="57.4"/><use href="#a" y="41.0"/><use href="#a" y="100.2"/><use href="#d" y="34.3"/><use href="#c" y="116.3"/><use href="#e" y="148.7"/><use href="#d" y="84.5"/><use href="#a" y="48.4"/><use href="#d" y="76.7"/><use href="#b" y="62.7"/><use href="#e" y="46.3"/></g>
</g>
<text transform="matrix(1 .0004 0 1 744.50 41.20)" font-size="8.30" font-weight="bold" textLength="45.40" lengthAdjust="spacingAndGlyphs" fill="#11171c">l_shipmode</text>
<circle cx="747.3" cy="49.85" r="3.3" fill="#077A9D" fill-opacity="0.68"/>
<text transform="matrix(1 .0004 0 1 753.70 52.70)" font-size="8.30" textLength="12.50" lengthAdjust="spacingAndGlyphs" fill="#11171c" stroke="#11171c" stroke-width="0.18">AIR</text>
<circle cx="747.3" cy="61.22" r="3.3" fill="#FFAB00" fill-opacity="0.68"/>
<text transform="matrix(1 .0004 0 1 753.70 64.07)" font-size="8.30" textLength="15.30" lengthAdjust="spacingAndGlyphs" fill="#11171c" stroke="#11171c" stroke-width="0.18">FOB</text>
<circle cx="747.3" cy="72.59" r="3.3" fill="#00A972" fill-opacity="0.68"/>
<text transform="matrix(1 .0004 0 1 753.70 75.44)" font-size="8.30" textLength="17.30" lengthAdjust="spacingAndGlyphs" fill="#11171c" stroke="#11171c" stroke-width="0.18">MAIL</text>
<circle cx="747.3" cy="83.96" r="3.3" fill="#FF3621" fill-opacity="0.68"/>
<text transform="matrix(1 .0004 0 1 753.70 86.81)" font-size="8.30" textLength="16.60" lengthAdjust="spacingAndGlyphs" fill="#11171c" stroke="#11171c" stroke-width="0.18">RAIL</text>
<circle cx="747.3" cy="95.33" r="3.3" fill="#8BCAE7" fill-opacity="0.68"/>
<text transform="matrix(1 .0004 0 1 753.70 98.18)" font-size="8.30" textLength="30.30" lengthAdjust="spacingAndGlyphs" fill="#11171c" stroke="#11171c" stroke-width="0.18">REG AIR</text>
<circle cx="747.3" cy="106.70" r="3.3" fill="#AB4057" fill-opacity="0.68"/>
<text transform="matrix(1 .0004 0 1 753.70 109.55)" font-size="8.30" textLength="17.60" lengthAdjust="spacingAndGlyphs" fill="#11171c" stroke="#11171c" stroke-width="0.18">SHIP</text>
<circle cx="747.3" cy="118.07" r="3.3" fill="#99DDB4" fill-opacity="0.68"/>
<text transform="matrix(1 .0004 0 1 753.70 120.92)" font-size="8.30" textLength="26.30" lengthAdjust="spacingAndGlyphs" fill="#11171c" stroke="#11171c" stroke-width="0.18">TRUCK</text>
<path d="M774.00 18.55 Q774.95 21.35 777.75 22.30 Q774.95 23.25 774.00 26.05 Q773.05 23.25 770.25 22.30 Q773.05 21.35 774.00 18.55 Z" fill="none" stroke="url(#sg)" stroke-width="1.2" stroke-linejoin="round"/>
<circle cx="789.00" cy="18.97" r="1.00" fill="#3f4f5c"/><circle cx="789.00" cy="22.40" r="1.00" fill="#3f4f5c"/><circle cx="789.00" cy="25.83" r="1.00" fill="#3f4f5c"/>
<rect x="9.35" y="444.4" width="83.7" height="12.1" rx="2.6" fill="#fef1dc"/>
<path d="M17.80 448.47 A3.05 3.05 0 1 0 17.67 452.39" fill="none" stroke="#b96f43" stroke-width="0.9" stroke-linecap="round"/><path d="M18.6 447.3 V449.3 H16.6 Z" fill="#a85a2c" stroke="#a85a2c" stroke-width="0.5" stroke-linejoin="round"/>
<text transform="matrix(1 .0004 0 1 22.00 452.80)" font-size="8.50" textLength="68.20" lengthAdjust="spacingAndGlyphs" fill="#5a4330" stroke="#5a4330" stroke-width="0.15">Render more data</text>
<rect x="812" y="4" width="2.8" height="71" rx="1.4" fill="#445461"/>
<rect x="825.4" y="4.2" width="169.6" height="19.4" rx="3" fill="#fff" stroke="#e2e6ea" stroke-width="0.8"/>
<text transform="matrix(1 .0004 0 1 833.20 17.00)" font-size="8.80" textLength="66.30" lengthAdjust="spacingAndGlyphs" fill="#11171c" stroke="#11171c" stroke-width="0.18">samples line item</text>
<path d="M983.50 13.10 L985.50 15.15 L987.50 13.10" stroke="#445461" stroke-width="1.15" fill="none" stroke-linecap="round" stroke-linejoin="round"/>
<text transform="matrix(1 .0004 0 1 825.20 43.55)" font-size="9.10" font-weight="bold" textLength="44.80" lengthAdjust="spacingAndGlyphs" fill="#11171c">Filter fields</text>
<path d="M980.90 40.50 H989.50 M985.20 36.20 V44.80" stroke="#6b8294" stroke-width="0.9" fill="none"/>
<line x1="825.0" x2="995.0" y1="55.30" y2="55.30" stroke="#edeff1" stroke-width="0.9"/>
<text transform="matrix(1 .0004 0 1 825.10 74.40)" font-size="9.10" font-weight="bold" textLength="51.10" lengthAdjust="spacingAndGlyphs" fill="#11171c">Visualization</text>
<rect x="825.4" y="84.5" width="169.6" height="19.6" rx="3" fill="#fff" stroke="#e2e6ea" stroke-width="0.8"/>
<path d="M833.4 88.2 V99.6 H846.2" fill="none" stroke="#a3aeb8" stroke-width="0.8"/>
<circle cx="836.0" cy="97.4" r="1.08" fill="#2382dc" fill-opacity="1.00"/>
<circle cx="840.2" cy="96.3" r="1.08" fill="#2382dc" fill-opacity="1.00"/>
<circle cx="840.2" cy="92.6" r="1.08" fill="#2382dc" fill-opacity="1.00"/>
<circle cx="845.7" cy="89.3" r="1.08" fill="#2382dc" fill-opacity="1.00"/>
<circle cx="837.2" cy="94.0" r="1.08" fill="#2382dc" fill-opacity="0.30"/>
<circle cx="843.4" cy="92.0" r="1.08" fill="#2382dc" fill-opacity="0.30"/>
<text transform="matrix(1 .0004 0 1 850.40 97.20)" font-size="8.80" textLength="27.50" lengthAdjust="spacingAndGlyphs" fill="#11171c" stroke="#11171c" stroke-width="0.18">Scatter</text>
<path d="M983.50 93.50 L985.50 95.55 L987.50 93.50" stroke="#445461" stroke-width="1.15" fill="none" stroke-linecap="round" stroke-linejoin="round"/>
<line x1="825.0" x2="995.0" y1="116.20" y2="116.20" stroke="#edeff1" stroke-width="0.9"/>
<text transform="matrix(1 .0004 0 1 825.10 135.00)" font-size="9.10" font-weight="bold" textLength="23.70" lengthAdjust="spacingAndGlyphs" fill="#11171c">X axis</text>
<circle cx="962.20" cy="128.15" r="0.97" fill="#33434f"/><circle cx="962.20" cy="131.65" r="0.97" fill="#33434f"/><circle cx="962.20" cy="135.15" r="0.97" fill="#33434f"/>
<path d="M980.90 131.65 H989.50 M985.20 127.35 V135.95" stroke="#6b8294" stroke-width="0.9" fill="none"/>
<rect x="825" y="144.10" width="147.1" height="20.7" rx="2.6" fill="#f7f7f7"/>
<text transform="matrix(1 .0004 0 1 832.40 156.95)" font-size="7.10" font-weight="bold" textLength="10.60" lengthAdjust="spacingAndGlyphs" fill="#566a7b" stroke="#566a7b" stroke-width="0.25">1.2</text>
<text transform="matrix(1 .0004 0 1 848.80 157.30)" font-size="8.55" font-weight="bold" textLength="40.90" lengthAdjust="spacingAndGlyphs" fill="#11171c">l_quantity</text>
<path d="M980.70 154.30 H989.70" stroke="#6b8294" stroke-width="1.15" fill="none"/>
<line x1="825.0" x2="902.0" y1="175.80" y2="175.80" stroke="#edeff1" stroke-width="0.9"/>
<line x1="918.0" x2="995.0" y1="175.80" y2="175.80" stroke="#edeff1" stroke-width="0.9"/>
<path d="M908.3 177.3 V172.7 M906.3 174.5 L908.3 172.4 L910.3 174.5 M912.3 175 V179.6 M910.3 177.8 L912.3 179.9 L914.3 177.8" fill="none" stroke="#586c7c" stroke-width="1.05" stroke-linecap="round" stroke-linejoin="round"/>
<text transform="matrix(1 .0004 0 1 825.10 195.00)" font-size="9.10" font-weight="bold" textLength="23.40" lengthAdjust="spacingAndGlyphs" fill="#11171c">Y axis</text>
<circle cx="962.20" cy="188.15" r="0.97" fill="#33434f"/><circle cx="962.20" cy="191.65" r="0.97" fill="#33434f"/><circle cx="962.20" cy="195.15" r="0.97" fill="#33434f"/>
<path d="M980.90 191.65 H989.50 M985.20 187.35 V195.95" stroke="#6b8294" stroke-width="0.9" fill="none"/>
<rect x="825" y="204.10" width="147.1" height="20.7" rx="2.6" fill="#f7f7f7"/>
<text transform="matrix(1 .0004 0 1 832.40 216.95)" font-size="7.10" font-weight="bold" textLength="10.60" lengthAdjust="spacingAndGlyphs" fill="#566a7b" stroke="#566a7b" stroke-width="0.25">1.2</text>
<text transform="matrix(1 .0004 0 1 848.80 217.30)" font-size="8.55" font-weight="bold" textLength="66.10" lengthAdjust="spacingAndGlyphs" fill="#11171c">l_extendedprice</text>
<path d="M980.70 214.30 H989.70" stroke="#6b8294" stroke-width="1.15" fill="none"/>
<line x1="825.0" x2="995.0" y1="235.60" y2="235.60" stroke="#edeff1" stroke-width="0.9"/>
<text transform="matrix(1 .0004 0 1 825.10 255.00)" font-size="9.10" font-weight="bold" textLength="21.60" lengthAdjust="spacingAndGlyphs" fill="#11171c">Color</text>
<circle cx="962.20" cy="248.15" r="0.97" fill="#33434f"/><circle cx="962.20" cy="251.65" r="0.97" fill="#33434f"/><circle cx="962.20" cy="255.15" r="0.97" fill="#33434f"/>
<path d="M980.90 251.65 H989.50 M985.20 247.35 V255.95" stroke="#6b8294" stroke-width="0.9" fill="none"/>
<rect x="825" y="264.10" width="147.1" height="20.7" rx="2.6" fill="#f7f7f7"/>
<text transform="matrix(1 .0004 0 1 848.80 277.30)" font-size="8.55" font-weight="bold" textLength="47.20" lengthAdjust="spacingAndGlyphs" fill="#11171c">l_shipmode</text>
<path d="M980.70 274.30 H989.70" stroke="#6b8294" stroke-width="1.15" fill="none"/>
<text transform="matrix(1 .0004 0 1 833.20 277.10)" font-size="6.10" font-weight="bold" fill="#54687a">A</text>
<text transform="matrix(1 .0004 0 1 837.30 273.80)" font-size="6.00" font-weight="bold" fill="#54687a">B</text>
<text transform="matrix(1 .0004 0 1 838.80 279.10)" font-size="6.00" font-weight="bold" fill="#54687a">C</text>
<text transform="matrix(1 .0004 0 1 825.10 300.80)" font-size="8.60" textLength="13.00" lengthAdjust="spacingAndGlyphs" fill="#161d23" stroke="#11171c" stroke-width="0.18">AIR</text>
<rect x="979.3" y="291.65" width="11.9" height="11.4" rx="2.8" fill="#077A9D"/>
<text transform="matrix(1 .0004 0 1 825.10 321.07)" font-size="8.60" textLength="16.40" lengthAdjust="spacingAndGlyphs" fill="#161d23" stroke="#11171c" stroke-width="0.18">FOB</text>
<rect x="979.3" y="311.92" width="11.9" height="11.4" rx="2.8" fill="#FFAB00"/>
<text transform="matrix(1 .0004 0 1 825.10 341.34)" font-size="8.60" textLength="19.10" lengthAdjust="spacingAndGlyphs" fill="#161d23" stroke="#11171c" stroke-width="0.18">MAIL</text>
<rect x="979.3" y="332.19" width="11.9" height="11.4" rx="2.8" fill="#00A972"/>
<text transform="matrix(1 .0004 0 1 825.10 361.61)" font-size="8.60" textLength="17.30" lengthAdjust="spacingAndGlyphs" fill="#161d23" stroke="#11171c" stroke-width="0.18">RAIL</text>
<rect x="979.3" y="352.46" width="11.9" height="11.4" rx="2.8" fill="#FF3621"/>
<text transform="matrix(1 .0004 0 1 825.10 381.88)" font-size="8.60" textLength="31.80" lengthAdjust="spacingAndGlyphs" fill="#161d23" stroke="#11171c" stroke-width="0.18">REG AIR</text>
<rect x="979.3" y="372.73" width="11.9" height="11.4" rx="2.8" fill="#8BCAE7"/>
<text transform="matrix(1 .0004 0 1 825.10 402.15)" font-size="8.60" textLength="18.40" lengthAdjust="spacingAndGlyphs" fill="#161d23" stroke="#11171c" stroke-width="0.18">SHIP</text>
<rect x="979.3" y="393.00" width="11.9" height="11.4" rx="2.8" fill="#AB4057"/>
<text transform="matrix(1 .0004 0 1 825.10 422.42)" font-size="8.60" textLength="27.80" lengthAdjust="spacingAndGlyphs" fill="#161d23" stroke="#11171c" stroke-width="0.18">TRUCK</text>
<rect x="979.3" y="413.27" width="11.9" height="11.4" rx="2.8" fill="#99DDB4"/>
<line x1="825.0" x2="995.0" y1="440.40" y2="440.40" stroke="#edeff1" stroke-width="0.9"/>
<text transform="matrix(1 .0004 0 1 825.10 459.70)" font-size="9.10" font-weight="bold" textLength="16.90" lengthAdjust="spacingAndGlyphs" fill="#11171c">Size</text>
<circle cx="962.20" cy="453.10" r="0.97" fill="#33434f"/><circle cx="962.20" cy="456.60" r="0.97" fill="#33434f"/><circle cx="962.20" cy="460.10" r="0.97" fill="#33434f"/>
<path d="M980.90 456.60 H989.50 M985.20 452.30 V460.90" stroke="#6b8294" stroke-width="0.9" fill="none"/>
</svg>
</body></html>
